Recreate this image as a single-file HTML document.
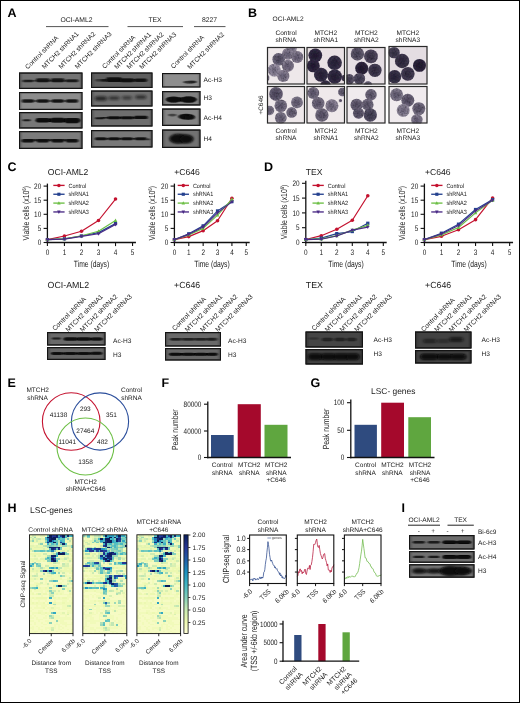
<!DOCTYPE html>
<html lang="en"><head><meta charset="utf-8"><title>Figure</title>
<style>html,body{margin:0;padding:0;background:#fff}svg{display:block;will-change:transform}</style></head>
<body>
<svg width="520" height="703" viewBox="0 0 520 703" font-family="'Liberation Sans', Arial, sans-serif" fill="#1a1a1a" text-rendering="geometricPrecision">
<defs><filter id="b1" x="-20%" y="-60%" width="140%" height="220%"><feGaussianBlur stdDeviation="0.9 0.7"/></filter>
<filter id="b2" x="-20%" y="-60%" width="140%" height="220%"><feGaussianBlur stdDeviation="1.4 1.1"/></filter>
<filter id="bc" x="-20%" y="-20%" width="140%" height="140%"><feGaussianBlur stdDeviation="0.55"/></filter>
<filter id="gr" x="0" y="0" width="100%" height="100%"><feTurbulence type="fractalNoise" baseFrequency="0.55" numOctaves="2" seed="4" result="n"/><feColorMatrix in="n" type="matrix" values="0 0 0 0 0  0 0 0 0 0  0 0 0 0 0  0.9 0.9 0 0 -0.72" result="a"/><feComposite in="a" in2="SourceGraphic" operator="in" result="m"/><feFlood flood-color="#1c1628" result="f"/><feComposite in="f" in2="m" operator="in" result="d"/><feMerge><feMergeNode in="SourceGraphic"/><feMergeNode in="d"/></feMerge></filter>
<filter id="bn" x="-30%" y="-30%" width="160%" height="160%"><feGaussianBlur stdDeviation="1.3"/></filter>
<clipPath id="c1"><rect x="19.00" y="72.50" width="63.50" height="16.50"/></clipPath>
<clipPath id="c2"><rect x="19.00" y="92.00" width="63.50" height="18.00"/></clipPath>
<clipPath id="c3"><rect x="19.00" y="112.00" width="63.50" height="16.50"/></clipPath>
<clipPath id="c4"><rect x="19.00" y="131.00" width="63.50" height="18.00"/></clipPath>
<clipPath id="c5"><rect x="91.00" y="72.50" width="61.50" height="15.50"/></clipPath>
<clipPath id="c6"><rect x="91.00" y="90.50" width="61.50" height="16.00"/></clipPath>
<clipPath id="c7"><rect x="91.00" y="109.00" width="61.50" height="17.50"/></clipPath>
<clipPath id="c8"><rect x="91.00" y="130.00" width="61.50" height="17.50"/></clipPath>
<clipPath id="c9"><rect x="162.00" y="73.00" width="38.50" height="14.50"/></clipPath>
<clipPath id="c10"><rect x="162.00" y="91.00" width="38.50" height="14.50"/></clipPath>
<clipPath id="c11"><rect x="162.00" y="108.50" width="38.50" height="17.50"/></clipPath>
<clipPath id="c12"><rect x="162.00" y="129.50" width="38.50" height="18.50"/></clipPath>
<clipPath id="m1"><rect x="267.00" y="47.00" width="38.00" height="37.50"/></clipPath>
<clipPath id="m2"><rect x="306.50" y="47.00" width="38.50" height="37.50"/></clipPath>
<clipPath id="m3"><rect x="346.50" y="47.00" width="39.00" height="37.50"/></clipPath>
<clipPath id="m4"><rect x="388.50" y="46.00" width="39.00" height="38.50"/></clipPath>
<clipPath id="m5"><rect x="267.00" y="86.00" width="38.00" height="37.50"/></clipPath>
<clipPath id="m6"><rect x="306.50" y="86.00" width="38.50" height="37.50"/></clipPath>
<clipPath id="m7"><rect x="346.50" y="86.00" width="39.00" height="37.50"/></clipPath>
<clipPath id="m8"><rect x="388.50" y="86.00" width="39.00" height="37.50"/></clipPath>
<clipPath id="c13"><rect x="47.00" y="332.00" width="58.50" height="13.50"/></clipPath>
<clipPath id="c14"><rect x="47.00" y="347.00" width="58.50" height="13.00"/></clipPath>
<clipPath id="c15"><rect x="165.00" y="332.00" width="56.00" height="14.50"/></clipPath>
<clipPath id="c16"><rect x="165.00" y="348.00" width="56.00" height="12.50"/></clipPath>
<clipPath id="c17"><rect x="305.50" y="331.50" width="57.50" height="16.00"/></clipPath>
<clipPath id="c18"><rect x="305.50" y="349.00" width="57.50" height="15.50"/></clipPath>
<clipPath id="c19"><rect x="415.00" y="331.50" width="56.50" height="17.00"/></clipPath>
<clipPath id="c20"><rect x="415.00" y="350.00" width="56.50" height="13.50"/></clipPath>
<filter id="hb" x="-5%" y="-5%" width="110%" height="110%"><feGaussianBlur stdDeviation="0.45"/></filter>
<linearGradient id="cb" x1="0" y1="1" x2="0" y2="0"><stop offset="0" stop-color="#ffffd9"/><stop offset="0.125" stop-color="#edf8b1"/><stop offset="0.25" stop-color="#c7e9b4"/><stop offset="0.375" stop-color="#7fcdbb"/><stop offset="0.5" stop-color="#41b6c4"/><stop offset="0.625" stop-color="#1d91c0"/><stop offset="0.75" stop-color="#225ea8"/><stop offset="0.875" stop-color="#253494"/><stop offset="1" stop-color="#081d58"/></linearGradient>
<clipPath id="c21"><rect x="409.00" y="535.00" width="65.50" height="14.50"/></clipPath>
<clipPath id="c22"><rect x="409.00" y="551.00" width="65.50" height="11.80"/></clipPath>
<clipPath id="c23"><rect x="409.00" y="564.20" width="65.50" height="13.50"/></clipPath></defs>
<rect x="0" y="0" width="520" height="703" fill="#fff"/>
<text transform="translate(7.50 16.50)" font-size="12.5" font-weight="bold" fill="#000">A</text>
<text transform="translate(76.50 21.50)" font-size="6.8" text-anchor="middle">OCI-AML2</text>
<line x1="46.00" y1="26.60" x2="108.50" y2="26.60" stroke="#555" stroke-width="1" />
<text transform="translate(155.00 21.50)" font-size="6.8" text-anchor="middle">TEX</text>
<line x1="127.50" y1="26.60" x2="183.00" y2="26.60" stroke="#555" stroke-width="1" />
<text transform="translate(209.50 21.50)" font-size="6.8" text-anchor="middle">8227</text>
<line x1="194.00" y1="26.60" x2="225.50" y2="26.60" stroke="#555" stroke-width="1" />
<text transform="translate(58.90 38.50) rotate(-45)" font-size="6.6" text-anchor="end">Control shRNA</text>
<text transform="translate(79.20 34.40) rotate(-45)" font-size="6.6" text-anchor="end">MTCH2 shRNA1</text>
<text transform="translate(95.90 34.40) rotate(-45)" font-size="6.6" text-anchor="end">MTCH2 shRNA2</text>
<text transform="translate(112.20 34.40) rotate(-45)" font-size="6.6" text-anchor="end">MTCH2 shRNA3</text>
<text transform="translate(135.90 37.80) rotate(-45)" font-size="6.6" text-anchor="end">Control shRNA</text>
<text transform="translate(151.70 34.80) rotate(-45)" font-size="6.6" text-anchor="end">MTCH2 shRNA1</text>
<text transform="translate(164.10 34.80) rotate(-45)" font-size="6.6" text-anchor="end">MTCH2 shRNA2</text>
<text transform="translate(176.80 34.80) rotate(-45)" font-size="6.6" text-anchor="end">MTCH2 shRNA3</text>
<text transform="translate(204.50 37.80) rotate(-45)" font-size="6.6" text-anchor="end">Control shRNA</text>
<text transform="translate(224.70 34.80) rotate(-45)" font-size="6.6" text-anchor="end">MTCH2 shRNA2</text>
<g clip-path="url(#c1)">
<rect x="19.00" y="72.50" width="63.50" height="16.50" fill="#747474" />
<rect x="19.00" y="72.50" width="63.50" height="16.50" fill="none" stroke="#3c3c3c" stroke-width="3" filter="url(#b1)"/>
<rect x="25.75" y="80.05" width="50.00" height="1.40" rx="0.70" fill="#0b0b0b" opacity="0.45" filter="url(#b1)"/>
<rect x="22.39" y="79.75" width="11.00" height="2.60" rx="1.30" fill="#0b0b0b" opacity="0.75" filter="url(#b1)"/>
<rect x="35.81" y="78.35" width="14.00" height="3.80" rx="1.90" fill="#0b0b0b" opacity="0.88" filter="url(#b1)"/>
<rect x="50.73" y="78.35" width="14.00" height="3.80" rx="1.90" fill="#0b0b0b" opacity="0.88" filter="url(#b1)"/>
<rect x="65.52" y="79.25" width="13.00" height="3.00" rx="1.50" fill="#0b0b0b" opacity="0.8" filter="url(#b1)"/>
</g>
<rect x="19.50" y="73.00" width="62.50" height="15.50" fill="none" stroke="#141414" stroke-width="1"/>
<g clip-path="url(#c2)">
<rect x="19.00" y="92.00" width="63.50" height="18.00" fill="#8c8c8c" />
<rect x="19.00" y="92.00" width="63.50" height="18.00" fill="none" stroke="#555" stroke-width="3" filter="url(#b1)"/>
<rect x="26.11" y="100.20" width="48.00" height="1.60" rx="0.80" fill="#0b0b0b" opacity="0.6" filter="url(#b1)"/>
<rect x="21.64" y="99.30" width="12.50" height="3.40" rx="1.70" fill="#0b0b0b" opacity="0.9" filter="url(#b1)"/>
<rect x="36.56" y="99.30" width="12.50" height="3.40" rx="1.70" fill="#0b0b0b" opacity="0.9" filter="url(#b1)"/>
<rect x="51.48" y="99.30" width="12.50" height="3.40" rx="1.70" fill="#0b0b0b" opacity="0.9" filter="url(#b1)"/>
<rect x="65.77" y="99.30" width="12.50" height="3.40" rx="1.70" fill="#0b0b0b" opacity="0.9" filter="url(#b1)"/>
</g>
<rect x="19.50" y="92.50" width="62.50" height="17.00" fill="none" stroke="#141414" stroke-width="1"/>
<g clip-path="url(#c3)">
<rect x="19.00" y="112.00" width="63.50" height="16.50" fill="#787878" />
<rect x="19.00" y="112.00" width="63.50" height="16.50" fill="none" stroke="#3c3c3c" stroke-width="3" filter="url(#b1)"/>
<rect x="22.62" y="119.15" width="8.00" height="2.20" rx="1.10" fill="#0b0b0b" opacity="0.85" filter="url(#b1)"/>
<rect x="36.87" y="118.55" width="43.00" height="3.40" rx="1.70" fill="#0b0b0b" opacity="0.95" filter="url(#b1)"/>
<rect x="35.81" y="117.95" width="14.00" height="4.60" rx="2.20" fill="#0b0b0b" opacity="0.95" filter="url(#b1)"/>
<rect x="50.73" y="117.85" width="14.00" height="4.80" rx="2.20" fill="#0b0b0b" opacity="0.95" filter="url(#b1)"/>
<rect x="64.77" y="117.95" width="14.50" height="5.40" rx="2.20" fill="#0b0b0b" opacity="0.97" filter="url(#b1)"/>
</g>
<rect x="19.50" y="112.50" width="62.50" height="15.50" fill="none" stroke="#141414" stroke-width="1"/>
<g clip-path="url(#c4)">
<rect x="19.00" y="131.00" width="63.50" height="18.00" fill="#7c7c7c" />
<rect x="19.00" y="131.00" width="63.50" height="18.00" fill="none" stroke="#3c3c3c" stroke-width="3" filter="url(#b1)"/>
<rect x="25.11" y="139.10" width="50.00" height="1.80" rx="0.90" fill="#0b0b0b" opacity="0.7" filter="url(#b1)"/>
<rect x="21.39" y="138.90" width="13.00" height="3.60" rx="1.80" fill="#0b0b0b" opacity="0.93" filter="url(#b1)"/>
<rect x="36.31" y="138.90" width="13.00" height="3.60" rx="1.80" fill="#0b0b0b" opacity="0.93" filter="url(#b1)"/>
<rect x="51.23" y="138.90" width="13.00" height="3.60" rx="1.80" fill="#0b0b0b" opacity="0.93" filter="url(#b1)"/>
<rect x="65.52" y="138.90" width="13.00" height="3.60" rx="1.80" fill="#0b0b0b" opacity="0.93" filter="url(#b1)"/>
</g>
<rect x="19.50" y="131.50" width="62.50" height="17.00" fill="none" stroke="#141414" stroke-width="1"/>
<g clip-path="url(#c5)">
<rect x="91.00" y="72.50" width="61.50" height="15.50" fill="#5f5f5f" />
<rect x="91.00" y="72.50" width="61.50" height="15.50" fill="none" stroke="#3c3c3c" stroke-width="3" filter="url(#b1)"/>
<rect x="100.98" y="79.05" width="44.00" height="2.40" rx="1.20" fill="#0b0b0b" opacity="0.7" filter="url(#b1)"/>
<rect x="95.34" y="78.95" width="11.00" height="2.60" rx="1.30" fill="#0b0b0b" opacity="0.5" filter="url(#b1)"/>
<rect x="106.06" y="77.35" width="16.00" height="4.60" rx="2.20" fill="#0b0b0b" opacity="0.95" filter="url(#b1)"/>
<rect x="119.98" y="78.35" width="14.00" height="3.80" rx="1.90" fill="#0b0b0b" opacity="0.9" filter="url(#b1)"/>
<rect x="134.31" y="78.55" width="13.00" height="3.40" rx="1.70" fill="#0b0b0b" opacity="0.8" filter="url(#b1)"/>
</g>
<rect x="91.50" y="73.00" width="60.50" height="14.50" fill="none" stroke="#141414" stroke-width="1"/>
<g clip-path="url(#c6)">
<rect x="91.00" y="90.50" width="61.50" height="16.00" fill="#707070" />
<rect x="91.00" y="90.50" width="61.50" height="16.00" fill="none" stroke="#3c3c3c" stroke-width="3" filter="url(#b1)"/>
<rect x="94.84" y="96.30" width="12.00" height="4.40" rx="2.20" fill="#0b0b0b" opacity="0.72" filter="url(#b2)"/>
<rect x="108.56" y="96.20" width="11.00" height="3.80" rx="1.90" fill="#0b0b0b" opacity="0.6" filter="url(#b2)"/>
<rect x="121.98" y="96.00" width="10.00" height="3.40" rx="1.70" fill="#0b0b0b" opacity="0.55" filter="url(#b2)"/>
<rect x="135.31" y="95.20" width="11.00" height="3.80" rx="1.90" fill="#0b0b0b" opacity="0.65" filter="url(#b2)"/>
</g>
<rect x="91.50" y="91.00" width="60.50" height="15.00" fill="none" stroke="#141414" stroke-width="1"/>
<g clip-path="url(#c7)">
<rect x="91.00" y="109.00" width="61.50" height="17.50" fill="#6e6e6e" />
<rect x="91.00" y="109.00" width="61.50" height="17.50" fill="none" stroke="#3c3c3c" stroke-width="3" filter="url(#b1)"/>
<rect x="101.09" y="116.95" width="45.00" height="1.60" rx="0.80" fill="#0b0b0b" opacity="0.8" filter="url(#b1)"/>
<rect x="95.11" y="117.35" width="9.00" height="1.80" rx="0.90" fill="#0b0b0b" opacity="0.9" filter="url(#b1)"/>
<rect x="107.56" y="116.35" width="13.00" height="2.80" rx="1.40" fill="#0b0b0b" opacity="0.95" filter="url(#b1)"/>
<rect x="120.48" y="116.25" width="13.00" height="3.00" rx="1.50" fill="#0b0b0b" opacity="0.95" filter="url(#b1)"/>
<rect x="133.81" y="115.85" width="14.00" height="3.20" rx="1.60" fill="#0b0b0b" opacity="0.95" filter="url(#b1)"/>
</g>
<rect x="91.50" y="109.50" width="60.50" height="16.50" fill="none" stroke="#141414" stroke-width="1"/>
<g clip-path="url(#c8)">
<rect x="91.00" y="130.00" width="61.50" height="17.50" fill="#787878" />
<rect x="91.00" y="130.00" width="61.50" height="17.50" fill="none" stroke="#3c3c3c" stroke-width="3" filter="url(#b1)"/>
<rect x="98.75" y="137.95" width="46.00" height="1.60" rx="0.80" fill="#0b0b0b" opacity="0.7" filter="url(#b1)"/>
<rect x="146.19" y="138.45" width="4.00" height="1.80" rx="0.90" fill="#0b0b0b" opacity="0.7" filter="url(#b1)"/>
<rect x="94.84" y="137.15" width="12.00" height="3.20" rx="1.60" fill="#0b0b0b" opacity="0.93" filter="url(#b1)"/>
<rect x="108.06" y="137.15" width="12.00" height="3.20" rx="1.60" fill="#0b0b0b" opacity="0.93" filter="url(#b1)"/>
<rect x="120.98" y="137.15" width="12.00" height="3.20" rx="1.60" fill="#0b0b0b" opacity="0.93" filter="url(#b1)"/>
<rect x="134.81" y="137.15" width="12.00" height="3.20" rx="1.60" fill="#0b0b0b" opacity="0.93" filter="url(#b1)"/>
</g>
<rect x="91.50" y="130.50" width="60.50" height="16.50" fill="none" stroke="#141414" stroke-width="1"/>
<g clip-path="url(#c9)">
<rect x="162.00" y="73.00" width="38.50" height="14.50" fill="#8e8e8e" />
<rect x="162.00" y="73.00" width="38.50" height="14.50" fill="none" stroke="#606060" stroke-width="3" filter="url(#b1)"/>
<ellipse cx="189.72" cy="82.15" rx="6.50" ry="1.50" fill="#0b0b0b" opacity="0.7" filter="url(#b1)"/>
<ellipse cx="192.80" cy="81.75" rx="4.00" ry="1.20" fill="#0b0b0b" opacity="0.45" filter="url(#b1)"/>
</g>
<rect x="162.50" y="73.50" width="37.50" height="13.50" fill="none" stroke="#141414" stroke-width="1"/>
<g clip-path="url(#c10)">
<rect x="162.00" y="91.00" width="38.50" height="14.50" fill="#808080" />
<rect x="162.00" y="91.00" width="38.50" height="14.50" fill="none" stroke="#3c3c3c" stroke-width="3" filter="url(#b1)"/>
<rect x="167.25" y="97.55" width="28.00" height="4.00" rx="2.00" fill="#0b0b0b" opacity="1" filter="url(#b1)"/>
<ellipse cx="173.55" cy="99.55" rx="7.50" ry="3.10" fill="#0b0b0b" opacity="0.95" filter="url(#b1)"/>
<ellipse cx="188.56" cy="99.55" rx="8.00" ry="3.30" fill="#0b0b0b" opacity="1" filter="url(#b1)"/>
</g>
<rect x="162.50" y="91.50" width="37.50" height="13.50" fill="none" stroke="#141414" stroke-width="1"/>
<g clip-path="url(#c11)">
<rect x="162.00" y="108.50" width="38.50" height="17.50" fill="#848484" />
<rect x="162.00" y="108.50" width="38.50" height="17.50" fill="none" stroke="#3c3c3c" stroke-width="3" filter="url(#b1)"/>
<ellipse cx="172.40" cy="115.05" rx="4.25" ry="1.40" fill="#0b0b0b" opacity="0.55" filter="url(#b1)"/>
<ellipse cx="186.25" cy="116.65" rx="8.00" ry="2.90" fill="#0b0b0b" opacity="1" filter="url(#b1)"/>
<ellipse cx="189.72" cy="117.45" rx="5.00" ry="2.20" fill="#0b0b0b" opacity="0.85" filter="url(#b1)"/>
</g>
<rect x="162.50" y="109.00" width="37.50" height="16.50" fill="none" stroke="#141414" stroke-width="1"/>
<g clip-path="url(#c12)">
<rect x="162.00" y="129.50" width="38.50" height="18.50" fill="#727272" />
<rect x="162.00" y="129.50" width="38.50" height="18.50" fill="none" stroke="#3c3c3c" stroke-width="3" filter="url(#b1)"/>
<ellipse cx="181.25" cy="138.75" rx="11.50" ry="4.30" fill="#0b0b0b" opacity="1" filter="url(#b2)"/>
<ellipse cx="177.40" cy="138.75" rx="7.50" ry="4.50" fill="#0b0b0b" opacity="1" filter="url(#b2)"/>
<ellipse cx="186.64" cy="139.05" rx="6.50" ry="4.00" fill="#0b0b0b" opacity="1" filter="url(#b2)"/>
</g>
<rect x="162.50" y="130.00" width="37.50" height="17.50" fill="none" stroke="#141414" stroke-width="1"/>
<text transform="translate(203.50 82.40)" font-size="6.6">Ac-H3</text>
<text transform="translate(203.50 100.40)" font-size="6.6">H3</text>
<text transform="translate(203.50 119.90)" font-size="6.6">Ac-H4</text>
<text transform="translate(203.50 140.80)" font-size="6.6">H4</text>
<text transform="translate(248.00 16.50)" font-size="12.5" font-weight="bold" fill="#000">B</text>
<text transform="translate(272.50 20.80)" font-size="6.6">OCI-AML2</text>
<text transform="translate(286.00 35.00)" font-size="6.6" text-anchor="middle">Control</text>
<text transform="translate(286.00 42.30)" font-size="6.6" text-anchor="middle">shRNA</text>
<text transform="translate(286.00 132.60)" font-size="6.6" text-anchor="middle">Control</text>
<text transform="translate(286.00 140.20)" font-size="6.6" text-anchor="middle">shRNA</text>
<text transform="translate(325.80 35.00)" font-size="6.6" text-anchor="middle">MTCH2</text>
<text transform="translate(325.80 42.30)" font-size="6.6" text-anchor="middle">shRNA1</text>
<text transform="translate(325.80 132.60)" font-size="6.6" text-anchor="middle">MTCH2</text>
<text transform="translate(325.80 140.20)" font-size="6.6" text-anchor="middle">shRNA1</text>
<text transform="translate(366.30 35.00)" font-size="6.6" text-anchor="middle">MTCH2</text>
<text transform="translate(366.30 42.30)" font-size="6.6" text-anchor="middle">shRNA2</text>
<text transform="translate(366.30 132.60)" font-size="6.6" text-anchor="middle">MTCH2</text>
<text transform="translate(366.30 140.20)" font-size="6.6" text-anchor="middle">shRNA2</text>
<text transform="translate(407.80 35.00)" font-size="6.6" text-anchor="middle">MTCH2</text>
<text transform="translate(407.80 42.30)" font-size="6.6" text-anchor="middle">shRNA3</text>
<text transform="translate(407.80 132.60)" font-size="6.6" text-anchor="middle">MTCH2</text>
<text transform="translate(407.80 140.20)" font-size="6.6" text-anchor="middle">shRNA3</text>
<text transform="translate(262.80 105.00) rotate(-90)" font-size="6.4" text-anchor="middle">+C646</text>
<g clip-path="url(#m1)">
<rect x="267.00" y="47.00" width="38.00" height="37.50" fill="#eee8ea" />
<g filter="url(#gr)">
<circle cx="291.50" cy="48.50" r="5.22" fill="#918a9c" filter="url(#bc)"/>
<circle cx="291.20" cy="48.70" r="3.08" fill="#5e566d" opacity=".62" filter="url(#bn)"/>
<circle cx="287.90" cy="53.90" r="5.89" fill="#8c8497" filter="url(#bc)"/>
<circle cx="287.60" cy="54.10" r="3.47" fill="#595269" opacity=".62" filter="url(#bn)"/>
<circle cx="278.70" cy="59.20" r="6.27" fill="#6e677b" filter="url(#bc)"/>
<circle cx="278.40" cy="59.40" r="3.70" fill="#453f54" opacity=".62" filter="url(#bn)"/>
<circle cx="297.20" cy="57.00" r="6.08" fill="#867e91" filter="url(#bc)"/>
<circle cx="296.90" cy="57.20" r="3.58" fill="#554e65" opacity=".62" filter="url(#bn)"/>
<circle cx="274.20" cy="70.10" r="6.46" fill="#9d95a8" filter="url(#bc)"/>
<circle cx="273.90" cy="70.30" r="3.81" fill="#665e76" opacity=".62" filter="url(#bn)"/>
<circle cx="287.90" cy="65.80" r="6.08" fill="#867e91" filter="url(#bc)"/>
<circle cx="287.60" cy="66.00" r="3.58" fill="#554e65" opacity=".62" filter="url(#bn)"/>
<circle cx="283.30" cy="75.90" r="6.08" fill="#8c8497" filter="url(#bc)"/>
<circle cx="283.00" cy="76.10" r="3.58" fill="#595269" opacity=".62" filter="url(#bn)"/>
<circle cx="266.00" cy="78.00" r="3.32" fill="#746d80" filter="url(#bc)"/>
<circle cx="265.70" cy="78.20" r="1.96" fill="#494358" opacity=".62" filter="url(#bn)"/>
</g>
</g>
<rect x="267.50" y="47.50" width="37.00" height="36.50" fill="none" stroke="#2a2a2a" stroke-width="1.2"/>
<g clip-path="url(#m2)">
<rect x="306.50" y="47.00" width="38.50" height="37.50" fill="#e9e1e4" />
<g filter="url(#gr)">
<circle cx="315.30" cy="55.30" r="6.84" fill="#352f45" filter="url(#bc)"/>
<circle cx="315.00" cy="55.50" r="4.03" fill="#1e192c" opacity=".62" filter="url(#bn)"/>
<circle cx="313.30" cy="65.90" r="6.46" fill="#352f45" filter="url(#bc)"/>
<circle cx="313.00" cy="66.10" r="3.81" fill="#1e192c" opacity=".62" filter="url(#bn)"/>
<circle cx="334.60" cy="62.80" r="7.22" fill="#3b354b" filter="url(#bc)"/>
<circle cx="334.30" cy="63.00" r="4.26" fill="#221d30" opacity=".62" filter="url(#bn)"/>
<circle cx="321.00" cy="74.80" r="7.03" fill="#393348" filter="url(#bc)"/>
<circle cx="320.70" cy="75.00" r="4.14" fill="#201c2e" opacity=".62" filter="url(#bn)"/>
<circle cx="334.80" cy="76.60" r="7.22" fill="#393348" filter="url(#bc)"/>
<circle cx="334.50" cy="76.80" r="4.26" fill="#201c2e" opacity=".62" filter="url(#bn)"/>
<circle cx="325.50" cy="85.50" r="5.22" fill="#3b354b" filter="url(#bc)"/>
<circle cx="325.20" cy="85.70" r="3.08" fill="#221d30" opacity=".62" filter="url(#bn)"/>
<circle cx="345.00" cy="78.00" r="3.32" fill="#474156" filter="url(#bc)"/>
<circle cx="344.70" cy="78.20" r="1.96" fill="#2a2538" opacity=".62" filter="url(#bn)"/>
</g>
</g>
<rect x="307.00" y="47.50" width="37.50" height="36.50" fill="none" stroke="#2a2a2a" stroke-width="1.2"/>
<g clip-path="url(#m3)">
<rect x="346.50" y="47.00" width="39.00" height="37.50" fill="#e6dfe4" />
<g filter="url(#gr)">
<circle cx="357.40" cy="53.90" r="6.65" fill="#655e72" filter="url(#bc)"/>
<circle cx="357.10" cy="54.10" r="3.92" fill="#3e394d" opacity=".62" filter="url(#bn)"/>
<circle cx="371.00" cy="56.40" r="6.84" fill="#534c61" filter="url(#bc)"/>
<circle cx="370.70" cy="56.60" r="4.03" fill="#322d41" opacity=".62" filter="url(#bn)"/>
<circle cx="361.70" cy="68.30" r="6.46" fill="#302a40" filter="url(#bc)"/>
<circle cx="361.40" cy="68.50" r="3.81" fill="#1a1628" opacity=".62" filter="url(#bn)"/>
<circle cx="374.90" cy="70.30" r="6.65" fill="#474156" filter="url(#bc)"/>
<circle cx="374.60" cy="70.50" r="3.92" fill="#2a2538" opacity=".62" filter="url(#bn)"/>
<circle cx="359.40" cy="78.60" r="5.70" fill="#595267" filter="url(#bc)"/>
<circle cx="359.10" cy="78.80" r="3.36" fill="#363145" opacity=".62" filter="url(#bn)"/>
<circle cx="349.30" cy="79.30" r="5.22" fill="#5f586c" filter="url(#bc)"/>
<circle cx="349.00" cy="79.50" r="3.08" fill="#3a3549" opacity=".62" filter="url(#bn)"/>
<circle cx="368.00" cy="85.50" r="4.27" fill="#6b6478" filter="url(#bc)"/>
<circle cx="367.70" cy="85.70" r="2.52" fill="#433d52" opacity=".62" filter="url(#bn)"/>
</g>
</g>
<rect x="347.00" y="47.50" width="38.00" height="36.50" fill="none" stroke="#2a2a2a" stroke-width="1.2"/>
<g clip-path="url(#m4)">
<rect x="388.50" y="46.00" width="39.00" height="38.50" fill="#e4dde2" />
<g filter="url(#gr)">
<circle cx="394.00" cy="52.60" r="5.70" fill="#4d475c" filter="url(#bc)"/>
<circle cx="393.70" cy="52.80" r="3.36" fill="#2e293d" opacity=".62" filter="url(#bn)"/>
<circle cx="402.10" cy="61.00" r="7.22" fill="#413b50" filter="url(#bc)"/>
<circle cx="401.80" cy="61.20" r="4.26" fill="#262134" opacity=".62" filter="url(#bn)"/>
<circle cx="419.50" cy="65.40" r="6.46" fill="#302a40" filter="url(#bc)"/>
<circle cx="419.20" cy="65.60" r="3.81" fill="#1a1628" opacity=".62" filter="url(#bn)"/>
<circle cx="407.80" cy="73.80" r="6.84" fill="#474156" filter="url(#bc)"/>
<circle cx="407.50" cy="74.00" r="4.03" fill="#2a2538" opacity=".62" filter="url(#bn)"/>
<circle cx="394.60" cy="76.70" r="6.65" fill="#3e374d" filter="url(#bc)"/>
<circle cx="394.30" cy="76.90" r="3.92" fill="#231f32" opacity=".62" filter="url(#bn)"/>
</g>
</g>
<rect x="389.00" y="46.50" width="38.00" height="37.50" fill="none" stroke="#2a2a2a" stroke-width="1.2"/>
<g clip-path="url(#m5)">
<rect x="267.00" y="86.00" width="38.00" height="37.50" fill="#eee8ea" />
<g filter="url(#gr)">
<circle cx="276.00" cy="93.90" r="6.84" fill="#6b6478" filter="url(#bc)"/>
<circle cx="275.70" cy="94.10" r="4.03" fill="#433d52" opacity=".62" filter="url(#bn)"/>
<circle cx="280.80" cy="105.80" r="6.27" fill="#7c7588" filter="url(#bc)"/>
<circle cx="280.50" cy="106.00" r="3.70" fill="#4f485e" opacity=".62" filter="url(#bn)"/>
<circle cx="297.00" cy="102.30" r="5.89" fill="#827b8e" filter="url(#bc)"/>
<circle cx="296.70" cy="102.50" r="3.47" fill="#534c62" opacity=".62" filter="url(#bn)"/>
<circle cx="269.50" cy="110.50" r="4.75" fill="#827b8e" filter="url(#bc)"/>
<circle cx="269.20" cy="110.70" r="2.80" fill="#534c62" opacity=".62" filter="url(#bn)"/>
<circle cx="291.70" cy="112.40" r="5.32" fill="#7c7588" filter="url(#bc)"/>
<circle cx="291.40" cy="112.60" r="3.14" fill="#4f485e" opacity=".62" filter="url(#bn)"/>
<circle cx="280.80" cy="117.80" r="5.89" fill="#827b8e" filter="url(#bc)"/>
<circle cx="280.50" cy="118.00" r="3.47" fill="#534c62" opacity=".62" filter="url(#bn)"/>
</g>
</g>
<rect x="267.50" y="86.50" width="37.00" height="36.50" fill="none" stroke="#2a2a2a" stroke-width="1.2"/>
<g clip-path="url(#m6)">
<rect x="306.50" y="86.00" width="38.50" height="37.50" fill="#efe9eb" />
<g filter="url(#gr)">
<circle cx="313.30" cy="93.00" r="5.89" fill="#7c7588" filter="url(#bc)"/>
<circle cx="313.00" cy="93.20" r="3.47" fill="#4f485e" opacity=".62" filter="url(#bn)"/>
<circle cx="318.20" cy="103.20" r="6.27" fill="#7c7588" filter="url(#bc)"/>
<circle cx="317.90" cy="103.40" r="3.70" fill="#4f485e" opacity=".62" filter="url(#bn)"/>
<circle cx="331.90" cy="105.80" r="6.46" fill="#8e8699" filter="url(#bc)"/>
<circle cx="331.60" cy="106.00" r="3.81" fill="#5b546b" opacity=".62" filter="url(#bn)"/>
<circle cx="321.90" cy="115.00" r="6.65" fill="#766f83" filter="url(#bc)"/>
<circle cx="321.60" cy="115.20" r="3.92" fill="#4b445a" opacity=".62" filter="url(#bn)"/>
<circle cx="342.50" cy="92.00" r="4.37" fill="#766f83" filter="url(#bc)"/>
<circle cx="342.20" cy="92.20" r="2.58" fill="#4b445a" opacity=".62" filter="url(#bn)"/>
<circle cx="340.50" cy="100.50" r="1.52" fill="#6b6478" filter="url(#bc)"/>
<circle cx="340.20" cy="100.70" r="0.90" fill="#433d52" opacity=".62" filter="url(#bn)"/>
</g>
</g>
<rect x="307.00" y="86.50" width="37.50" height="36.50" fill="none" stroke="#2a2a2a" stroke-width="1.2"/>
<g clip-path="url(#m7)">
<rect x="346.50" y="86.00" width="39.00" height="37.50" fill="#f0ebee" />
<g filter="url(#gr)">
<circle cx="371.00" cy="94.80" r="5.70" fill="#766f83" filter="url(#bc)"/>
<circle cx="370.70" cy="95.00" r="3.36" fill="#4b445a" opacity=".62" filter="url(#bn)"/>
<circle cx="356.60" cy="104.90" r="6.08" fill="#70697d" filter="url(#bc)"/>
<circle cx="356.30" cy="105.10" r="3.58" fill="#474056" opacity=".62" filter="url(#bn)"/>
<circle cx="367.60" cy="104.70" r="5.89" fill="#766f83" filter="url(#bc)"/>
<circle cx="367.30" cy="104.90" r="3.47" fill="#4b445a" opacity=".62" filter="url(#bn)"/>
<circle cx="370.30" cy="115.00" r="6.65" fill="#595267" filter="url(#bc)"/>
<circle cx="370.00" cy="115.20" r="3.92" fill="#363145" opacity=".62" filter="url(#bn)"/>
<circle cx="358.50" cy="113.20" r="5.51" fill="#6b6478" filter="url(#bc)"/>
<circle cx="358.20" cy="113.40" r="3.25" fill="#433d52" opacity=".62" filter="url(#bn)"/>
</g>
</g>
<rect x="347.00" y="86.50" width="38.00" height="36.50" fill="none" stroke="#2a2a2a" stroke-width="1.2"/>
<g clip-path="url(#m8)">
<rect x="388.50" y="86.00" width="39.00" height="37.50" fill="#f0ebee" />
<g filter="url(#gr)">
<circle cx="396.60" cy="94.80" r="6.46" fill="#827b8e" filter="url(#bc)"/>
<circle cx="396.30" cy="95.00" r="3.81" fill="#534c62" opacity=".62" filter="url(#bn)"/>
<circle cx="407.80" cy="100.30" r="6.46" fill="#70697d" filter="url(#bc)"/>
<circle cx="407.50" cy="100.50" r="3.81" fill="#474056" opacity=".62" filter="url(#bn)"/>
<circle cx="403.20" cy="110.40" r="6.46" fill="#948c9f" filter="url(#bc)"/>
<circle cx="402.90" cy="110.60" r="3.81" fill="#5f586f" opacity=".62" filter="url(#bn)"/>
<circle cx="418.80" cy="108.60" r="6.46" fill="#766f83" filter="url(#bc)"/>
<circle cx="418.50" cy="108.80" r="3.81" fill="#4b445a" opacity=".62" filter="url(#bn)"/>
<circle cx="416.90" cy="119.80" r="5.70" fill="#888194" filter="url(#bc)"/>
<circle cx="416.60" cy="120.00" r="3.36" fill="#575067" opacity=".62" filter="url(#bn)"/>
</g>
</g>
<rect x="389.00" y="86.50" width="38.00" height="36.50" fill="none" stroke="#2a2a2a" stroke-width="1.2"/>
<text transform="translate(7.50 170.50)" font-size="12.5" font-weight="bold" fill="#000">C</text>
<line x1="47.40" y1="183.60" x2="47.40" y2="243.15" stroke="#111" stroke-width="1.3" />
<line x1="46.75" y1="242.50" x2="135.95" y2="242.50" stroke="#111" stroke-width="1.3" />
<line x1="43.60" y1="242.50" x2="47.40" y2="242.50" stroke="#111" stroke-width="1.1" />
<text transform="translate(41.20 245.10) scale(0.8 1)" font-size="8" text-anchor="end">0</text>
<line x1="43.60" y1="228.40" x2="47.40" y2="228.40" stroke="#111" stroke-width="1.1" />
<text transform="translate(41.20 231.00) scale(0.8 1)" font-size="8" text-anchor="end">5</text>
<line x1="43.60" y1="214.30" x2="47.40" y2="214.30" stroke="#111" stroke-width="1.1" />
<text transform="translate(41.20 216.90) scale(0.8 1)" font-size="8" text-anchor="end">10</text>
<line x1="43.60" y1="200.20" x2="47.40" y2="200.20" stroke="#111" stroke-width="1.1" />
<text transform="translate(41.20 202.80) scale(0.8 1)" font-size="8" text-anchor="end">15</text>
<line x1="43.60" y1="186.10" x2="47.40" y2="186.10" stroke="#111" stroke-width="1.1" />
<text transform="translate(41.20 188.70) scale(0.8 1)" font-size="8" text-anchor="end">20</text>
<line x1="47.40" y1="242.50" x2="47.40" y2="246.10" stroke="#111" stroke-width="1.1" />
<text transform="translate(47.40 254.50) scale(0.8 1)" font-size="8" text-anchor="middle">0</text>
<line x1="64.43" y1="242.50" x2="64.43" y2="246.10" stroke="#111" stroke-width="1.1" />
<text transform="translate(64.43 254.50) scale(0.8 1)" font-size="8" text-anchor="middle">1</text>
<line x1="81.46" y1="242.50" x2="81.46" y2="246.10" stroke="#111" stroke-width="1.1" />
<text transform="translate(81.46 254.50) scale(0.8 1)" font-size="8" text-anchor="middle">2</text>
<line x1="98.49" y1="242.50" x2="98.49" y2="246.10" stroke="#111" stroke-width="1.1" />
<text transform="translate(98.49 254.50) scale(0.8 1)" font-size="8" text-anchor="middle">3</text>
<line x1="115.52" y1="242.50" x2="115.52" y2="246.10" stroke="#111" stroke-width="1.1" />
<text transform="translate(115.52 254.50) scale(0.8 1)" font-size="8" text-anchor="middle">4</text>
<line x1="132.55" y1="242.50" x2="132.55" y2="246.10" stroke="#111" stroke-width="1.1" />
<text transform="translate(132.55 254.50) scale(0.8 1)" font-size="8" text-anchor="middle">5</text>
<text transform="translate(47.80 174.70)" font-size="8.6">OCI-AML2</text>
<text transform="translate(28.70 213.30) rotate(-90) scale(0.78 1)" font-size="8.8" text-anchor="middle">Viable cells (x10<tspan font-size="5.4" dy="-2.8">6</tspan><tspan dy="2.8">)</tspan></text>
<text transform="translate(91.50 267.00) scale(0.75 1)" font-size="9" text-anchor="middle">Time (days)</text>
<polyline fill="none" stroke="#c4122f" stroke-width="1.2" stroke-linejoin="round" points="47.40,239.68 64.43,236.01 81.46,231.22 98.49,220.50 115.52,199.07"/>
<circle cx="47.40" cy="239.68" r="1.80" fill="#c4122f"/>
<circle cx="64.43" cy="236.01" r="1.80" fill="#c4122f"/>
<circle cx="81.46" cy="231.22" r="1.80" fill="#c4122f"/>
<circle cx="98.49" cy="220.50" r="1.80" fill="#c4122f"/>
<circle cx="115.52" cy="199.07" r="1.80" fill="#c4122f"/>
<polyline fill="none" stroke="#24418f" stroke-width="1.2" stroke-linejoin="round" points="47.40,239.68 64.43,238.83 81.46,236.01 98.49,232.63 115.52,223.61"/>
<rect x="45.78" y="238.06" width="3.24" height="3.24" fill="#24418f"/>
<rect x="62.81" y="237.21" width="3.24" height="3.24" fill="#24418f"/>
<rect x="79.84" y="234.39" width="3.24" height="3.24" fill="#24418f"/>
<rect x="96.87" y="231.01" width="3.24" height="3.24" fill="#24418f"/>
<rect x="113.90" y="221.99" width="3.24" height="3.24" fill="#24418f"/>
<polyline fill="none" stroke="#6cbf45" stroke-width="1.2" stroke-linejoin="round" points="47.40,239.68 64.43,238.83 81.46,235.73 98.49,231.22 115.52,220.50"/>
<path d="M47.40 237.70L49.20 241.12L45.60 241.12Z" fill="#6cbf45"/>
<path d="M64.43 236.85L66.23 240.27L62.63 240.27Z" fill="#6cbf45"/>
<path d="M81.46 233.75L83.26 237.17L79.66 237.17Z" fill="#6cbf45"/>
<path d="M98.49 229.24L100.29 232.66L96.69 232.66Z" fill="#6cbf45"/>
<path d="M115.52 218.52L117.32 221.94L113.72 221.94Z" fill="#6cbf45"/>
<polyline fill="none" stroke="#4a2a86" stroke-width="1.2" stroke-linejoin="round" points="47.40,239.68 64.43,239.12 81.46,236.30 98.49,233.76 115.52,224.45"/>
<path d="M47.40 241.66L49.20 238.24L45.60 238.24Z" fill="#4a2a86"/>
<path d="M64.43 241.10L66.23 237.68L62.63 237.68Z" fill="#4a2a86"/>
<path d="M81.46 238.28L83.26 234.86L79.66 234.86Z" fill="#4a2a86"/>
<path d="M98.49 235.74L100.29 232.32L96.69 232.32Z" fill="#4a2a86"/>
<path d="M115.52 226.43L117.32 223.01L113.72 223.01Z" fill="#4a2a86"/>
<line x1="53.30" y1="185.40" x2="64.60" y2="185.40" stroke="#c4122f" stroke-width="1.35" />
<circle cx="58.90" cy="185.40" r="1.75" fill="#c4122f"/>
<text transform="translate(68.50 187.60) scale(0.9 1)" font-size="6.1">Control</text>
<line x1="53.30" y1="194.25" x2="64.60" y2="194.25" stroke="#24418f" stroke-width="1.35" />
<rect x="57.32" y="192.68" width="3.15" height="3.15" fill="#24418f"/>
<text transform="translate(68.50 196.45) scale(0.9 1)" font-size="6.1">shRNA1</text>
<line x1="53.30" y1="203.10" x2="64.60" y2="203.10" stroke="#6cbf45" stroke-width="1.35" />
<path d="M58.90 201.17L60.65 204.50L57.15 204.50Z" fill="#6cbf45"/>
<text transform="translate(68.50 205.30) scale(0.9 1)" font-size="6.1">shRNA2</text>
<line x1="53.30" y1="211.95" x2="64.60" y2="211.95" stroke="#4a2a86" stroke-width="1.35" />
<path d="M58.90 213.88L60.65 210.55L57.15 210.55Z" fill="#4a2a86"/>
<text transform="translate(68.50 214.15) scale(0.9 1)" font-size="6.1">shRNA3</text>
<line x1="174.40" y1="183.60" x2="174.40" y2="243.15" stroke="#111" stroke-width="1.3" />
<line x1="173.75" y1="242.50" x2="249.70" y2="242.50" stroke="#111" stroke-width="1.3" />
<line x1="170.60" y1="242.50" x2="174.40" y2="242.50" stroke="#111" stroke-width="1.1" />
<text transform="translate(168.20 245.10) scale(0.8 1)" font-size="8" text-anchor="end">0</text>
<line x1="170.60" y1="228.40" x2="174.40" y2="228.40" stroke="#111" stroke-width="1.1" />
<text transform="translate(168.20 231.00) scale(0.8 1)" font-size="8" text-anchor="end">5</text>
<line x1="170.60" y1="214.30" x2="174.40" y2="214.30" stroke="#111" stroke-width="1.1" />
<text transform="translate(168.20 216.90) scale(0.8 1)" font-size="8" text-anchor="end">10</text>
<line x1="170.60" y1="200.20" x2="174.40" y2="200.20" stroke="#111" stroke-width="1.1" />
<text transform="translate(168.20 202.80) scale(0.8 1)" font-size="8" text-anchor="end">15</text>
<line x1="170.60" y1="186.10" x2="174.40" y2="186.10" stroke="#111" stroke-width="1.1" />
<text transform="translate(168.20 188.70) scale(0.8 1)" font-size="8" text-anchor="end">20</text>
<line x1="174.40" y1="242.50" x2="174.40" y2="246.10" stroke="#111" stroke-width="1.1" />
<text transform="translate(174.40 254.50) scale(0.8 1)" font-size="8" text-anchor="middle">0</text>
<line x1="188.78" y1="242.50" x2="188.78" y2="246.10" stroke="#111" stroke-width="1.1" />
<text transform="translate(188.78 254.50) scale(0.8 1)" font-size="8" text-anchor="middle">1</text>
<line x1="203.16" y1="242.50" x2="203.16" y2="246.10" stroke="#111" stroke-width="1.1" />
<text transform="translate(203.16 254.50) scale(0.8 1)" font-size="8" text-anchor="middle">2</text>
<line x1="217.54" y1="242.50" x2="217.54" y2="246.10" stroke="#111" stroke-width="1.1" />
<text transform="translate(217.54 254.50) scale(0.8 1)" font-size="8" text-anchor="middle">3</text>
<line x1="231.92" y1="242.50" x2="231.92" y2="246.10" stroke="#111" stroke-width="1.1" />
<text transform="translate(231.92 254.50) scale(0.8 1)" font-size="8" text-anchor="middle">4</text>
<line x1="246.30" y1="242.50" x2="246.30" y2="246.10" stroke="#111" stroke-width="1.1" />
<text transform="translate(246.30 254.50) scale(0.8 1)" font-size="8" text-anchor="middle">5</text>
<text transform="translate(174.30 174.70)" font-size="8.6">+C646</text>
<text transform="translate(154.50 213.30) rotate(-90) scale(0.78 1)" font-size="8.8" text-anchor="middle">Viable cells (x10<tspan font-size="5.4" dy="-2.8">6</tspan><tspan dy="2.8">)</tspan></text>
<text transform="translate(212.00 267.00) scale(0.75 1)" font-size="9" text-anchor="middle">Time (days)</text>
<polyline fill="none" stroke="#c4122f" stroke-width="1.2" stroke-linejoin="round" points="174.40,239.68 188.78,236.58 203.16,230.66 217.54,220.79 231.92,198.23"/>
<circle cx="174.40" cy="239.68" r="1.80" fill="#c4122f"/>
<circle cx="188.78" cy="236.58" r="1.80" fill="#c4122f"/>
<circle cx="203.16" cy="230.66" r="1.80" fill="#c4122f"/>
<circle cx="217.54" cy="220.79" r="1.80" fill="#c4122f"/>
<circle cx="231.92" cy="198.23" r="1.80" fill="#c4122f"/>
<polyline fill="none" stroke="#24418f" stroke-width="1.2" stroke-linejoin="round" points="174.40,239.68 188.78,233.76 203.16,225.86 217.54,210.92 231.92,201.61"/>
<rect x="172.78" y="238.06" width="3.24" height="3.24" fill="#24418f"/>
<rect x="187.16" y="232.14" width="3.24" height="3.24" fill="#24418f"/>
<rect x="201.54" y="224.24" width="3.24" height="3.24" fill="#24418f"/>
<rect x="215.92" y="209.30" width="3.24" height="3.24" fill="#24418f"/>
<rect x="230.30" y="199.99" width="3.24" height="3.24" fill="#24418f"/>
<polyline fill="none" stroke="#6cbf45" stroke-width="1.2" stroke-linejoin="round" points="174.40,239.68 188.78,234.89 203.16,228.40 217.54,215.15 231.92,199.35"/>
<path d="M174.40 237.70L176.20 241.12L172.60 241.12Z" fill="#6cbf45"/>
<path d="M188.78 232.91L190.58 236.33L186.98 236.33Z" fill="#6cbf45"/>
<path d="M203.16 226.42L204.96 229.84L201.36 229.84Z" fill="#6cbf45"/>
<path d="M217.54 213.17L219.34 216.59L215.74 216.59Z" fill="#6cbf45"/>
<path d="M231.92 197.37L233.72 200.79L230.12 200.79Z" fill="#6cbf45"/>
<polyline fill="none" stroke="#4a2a86" stroke-width="1.2" stroke-linejoin="round" points="174.40,239.68 188.78,234.32 203.16,226.99 217.54,212.89 231.92,201.89"/>
<path d="M174.40 241.66L176.20 238.24L172.60 238.24Z" fill="#4a2a86"/>
<path d="M188.78 236.30L190.58 232.88L186.98 232.88Z" fill="#4a2a86"/>
<path d="M203.16 228.97L204.96 225.55L201.36 225.55Z" fill="#4a2a86"/>
<path d="M217.54 214.87L219.34 211.45L215.74 211.45Z" fill="#4a2a86"/>
<path d="M231.92 203.87L233.72 200.45L230.12 200.45Z" fill="#4a2a86"/>
<line x1="177.70" y1="185.40" x2="189.00" y2="185.40" stroke="#c4122f" stroke-width="1.35" />
<circle cx="183.30" cy="185.40" r="1.75" fill="#c4122f"/>
<text transform="translate(192.90 187.60) scale(0.9 1)" font-size="6.1">Control</text>
<line x1="177.70" y1="194.25" x2="189.00" y2="194.25" stroke="#24418f" stroke-width="1.35" />
<rect x="181.72" y="192.68" width="3.15" height="3.15" fill="#24418f"/>
<text transform="translate(192.90 196.45) scale(0.9 1)" font-size="6.1">shRNA1</text>
<line x1="177.70" y1="203.10" x2="189.00" y2="203.10" stroke="#6cbf45" stroke-width="1.35" />
<path d="M183.30 201.17L185.05 204.50L181.55 204.50Z" fill="#6cbf45"/>
<text transform="translate(192.90 205.30) scale(0.9 1)" font-size="6.1">shRNA2</text>
<line x1="177.70" y1="211.95" x2="189.00" y2="211.95" stroke="#4a2a86" stroke-width="1.35" />
<path d="M183.30 213.88L185.05 210.55L181.55 210.55Z" fill="#4a2a86"/>
<text transform="translate(192.90 214.15) scale(0.9 1)" font-size="6.1">shRNA3</text>
<text transform="translate(264.00 170.50)" font-size="12.5" font-weight="bold" fill="#000">D</text>
<line x1="305.80" y1="180.80" x2="305.80" y2="243.15" stroke="#111" stroke-width="1.3" />
<line x1="305.15" y1="242.50" x2="386.70" y2="242.50" stroke="#111" stroke-width="1.3" />
<line x1="302.00" y1="242.50" x2="305.80" y2="242.50" stroke="#111" stroke-width="1.1" />
<text transform="translate(299.60 245.10) scale(0.8 1)" font-size="8" text-anchor="end">0</text>
<line x1="302.00" y1="227.70" x2="305.80" y2="227.70" stroke="#111" stroke-width="1.1" />
<text transform="translate(299.60 230.30) scale(0.8 1)" font-size="8" text-anchor="end">5</text>
<line x1="302.00" y1="212.90" x2="305.80" y2="212.90" stroke="#111" stroke-width="1.1" />
<text transform="translate(299.60 215.50) scale(0.8 1)" font-size="8" text-anchor="end">10</text>
<line x1="302.00" y1="198.10" x2="305.80" y2="198.10" stroke="#111" stroke-width="1.1" />
<text transform="translate(299.60 200.70) scale(0.8 1)" font-size="8" text-anchor="end">15</text>
<line x1="302.00" y1="183.30" x2="305.80" y2="183.30" stroke="#111" stroke-width="1.1" />
<text transform="translate(299.60 185.90) scale(0.8 1)" font-size="8" text-anchor="end">20</text>
<line x1="305.80" y1="242.50" x2="305.80" y2="246.10" stroke="#111" stroke-width="1.1" />
<text transform="translate(305.80 254.50) scale(0.8 1)" font-size="8" text-anchor="middle">0</text>
<line x1="321.30" y1="242.50" x2="321.30" y2="246.10" stroke="#111" stroke-width="1.1" />
<text transform="translate(321.30 254.50) scale(0.8 1)" font-size="8" text-anchor="middle">1</text>
<line x1="336.80" y1="242.50" x2="336.80" y2="246.10" stroke="#111" stroke-width="1.1" />
<text transform="translate(336.80 254.50) scale(0.8 1)" font-size="8" text-anchor="middle">2</text>
<line x1="352.30" y1="242.50" x2="352.30" y2="246.10" stroke="#111" stroke-width="1.1" />
<text transform="translate(352.30 254.50) scale(0.8 1)" font-size="8" text-anchor="middle">3</text>
<line x1="367.80" y1="242.50" x2="367.80" y2="246.10" stroke="#111" stroke-width="1.1" />
<text transform="translate(367.80 254.50) scale(0.8 1)" font-size="8" text-anchor="middle">4</text>
<line x1="383.30" y1="242.50" x2="383.30" y2="246.10" stroke="#111" stroke-width="1.1" />
<text transform="translate(383.30 254.50) scale(0.8 1)" font-size="8" text-anchor="middle">5</text>
<text transform="translate(305.80 174.70)" font-size="8.6">TEX</text>
<text transform="translate(287.20 211.90) rotate(-90) scale(0.78 1)" font-size="8.8" text-anchor="middle">Viable cells (x10<tspan font-size="5.4" dy="-2.8">6</tspan><tspan dy="2.8">)</tspan></text>
<text transform="translate(346.00 267.00) scale(0.75 1)" font-size="9" text-anchor="middle">Time (days)</text>
<polyline fill="none" stroke="#c4122f" stroke-width="1.2" stroke-linejoin="round" points="305.80,239.54 321.30,235.69 336.80,229.18 352.30,220.30 367.80,195.73"/>
<circle cx="305.80" cy="239.54" r="1.80" fill="#c4122f"/>
<circle cx="321.30" cy="235.69" r="1.80" fill="#c4122f"/>
<circle cx="336.80" cy="229.18" r="1.80" fill="#c4122f"/>
<circle cx="352.30" cy="220.30" r="1.80" fill="#c4122f"/>
<circle cx="367.80" cy="195.73" r="1.80" fill="#c4122f"/>
<polyline fill="none" stroke="#24418f" stroke-width="1.2" stroke-linejoin="round" points="305.80,239.54 321.30,238.06 336.80,233.62 352.30,231.55 367.80,223.26"/>
<rect x="304.18" y="237.92" width="3.24" height="3.24" fill="#24418f"/>
<rect x="319.68" y="236.44" width="3.24" height="3.24" fill="#24418f"/>
<rect x="335.18" y="232.00" width="3.24" height="3.24" fill="#24418f"/>
<rect x="350.68" y="229.93" width="3.24" height="3.24" fill="#24418f"/>
<rect x="366.18" y="221.64" width="3.24" height="3.24" fill="#24418f"/>
<polyline fill="none" stroke="#6cbf45" stroke-width="1.2" stroke-linejoin="round" points="305.80,239.54 321.30,238.95 336.80,235.69 352.30,230.07 367.80,225.33"/>
<path d="M305.80 237.56L307.60 240.98L304.00 240.98Z" fill="#6cbf45"/>
<path d="M321.30 236.97L323.10 240.39L319.50 240.39Z" fill="#6cbf45"/>
<path d="M336.80 233.71L338.60 237.13L335.00 237.13Z" fill="#6cbf45"/>
<path d="M352.30 228.09L354.10 231.51L350.50 231.51Z" fill="#6cbf45"/>
<path d="M367.80 223.35L369.60 226.77L366.00 226.77Z" fill="#6cbf45"/>
<polyline fill="none" stroke="#4a2a86" stroke-width="1.2" stroke-linejoin="round" points="305.80,239.54 321.30,239.24 336.80,235.99 352.30,230.07 367.80,227.11"/>
<path d="M305.80 241.52L307.60 238.10L304.00 238.10Z" fill="#4a2a86"/>
<path d="M321.30 241.22L323.10 237.80L319.50 237.80Z" fill="#4a2a86"/>
<path d="M336.80 237.97L338.60 234.55L335.00 234.55Z" fill="#4a2a86"/>
<path d="M352.30 232.05L354.10 228.63L350.50 228.63Z" fill="#4a2a86"/>
<path d="M367.80 229.09L369.60 225.67L366.00 225.67Z" fill="#4a2a86"/>
<line x1="312.50" y1="185.40" x2="323.80" y2="185.40" stroke="#c4122f" stroke-width="1.35" />
<circle cx="318.10" cy="185.40" r="1.75" fill="#c4122f"/>
<text transform="translate(327.70 187.60) scale(0.9 1)" font-size="6.1">Control</text>
<line x1="312.50" y1="194.25" x2="323.80" y2="194.25" stroke="#24418f" stroke-width="1.35" />
<rect x="316.53" y="192.68" width="3.15" height="3.15" fill="#24418f"/>
<text transform="translate(327.70 196.45) scale(0.9 1)" font-size="6.1">shRNA1</text>
<line x1="312.50" y1="203.10" x2="323.80" y2="203.10" stroke="#6cbf45" stroke-width="1.35" />
<path d="M318.10 201.17L319.85 204.50L316.35 204.50Z" fill="#6cbf45"/>
<text transform="translate(327.70 205.30) scale(0.9 1)" font-size="6.1">shRNA2</text>
<line x1="312.50" y1="211.95" x2="323.80" y2="211.95" stroke="#4a2a86" stroke-width="1.35" />
<path d="M318.10 213.88L319.85 210.55L316.35 210.55Z" fill="#4a2a86"/>
<text transform="translate(327.70 214.15) scale(0.9 1)" font-size="6.1">shRNA3</text>
<line x1="424.40" y1="183.60" x2="424.40" y2="243.15" stroke="#111" stroke-width="1.3" />
<line x1="423.75" y1="242.50" x2="513.05" y2="242.50" stroke="#111" stroke-width="1.3" />
<line x1="420.60" y1="242.50" x2="424.40" y2="242.50" stroke="#111" stroke-width="1.1" />
<text transform="translate(418.20 245.10) scale(0.8 1)" font-size="8" text-anchor="end">0</text>
<line x1="420.60" y1="228.40" x2="424.40" y2="228.40" stroke="#111" stroke-width="1.1" />
<text transform="translate(418.20 231.00) scale(0.8 1)" font-size="8" text-anchor="end">5</text>
<line x1="420.60" y1="214.30" x2="424.40" y2="214.30" stroke="#111" stroke-width="1.1" />
<text transform="translate(418.20 216.90) scale(0.8 1)" font-size="8" text-anchor="end">10</text>
<line x1="420.60" y1="200.20" x2="424.40" y2="200.20" stroke="#111" stroke-width="1.1" />
<text transform="translate(418.20 202.80) scale(0.8 1)" font-size="8" text-anchor="end">15</text>
<line x1="420.60" y1="186.10" x2="424.40" y2="186.10" stroke="#111" stroke-width="1.1" />
<text transform="translate(418.20 188.70) scale(0.8 1)" font-size="8" text-anchor="end">20</text>
<line x1="424.40" y1="242.50" x2="424.40" y2="246.10" stroke="#111" stroke-width="1.1" />
<text transform="translate(424.40 254.50) scale(0.8 1)" font-size="8" text-anchor="middle">0</text>
<line x1="441.45" y1="242.50" x2="441.45" y2="246.10" stroke="#111" stroke-width="1.1" />
<text transform="translate(441.45 254.50) scale(0.8 1)" font-size="8" text-anchor="middle">1</text>
<line x1="458.50" y1="242.50" x2="458.50" y2="246.10" stroke="#111" stroke-width="1.1" />
<text transform="translate(458.50 254.50) scale(0.8 1)" font-size="8" text-anchor="middle">2</text>
<line x1="475.55" y1="242.50" x2="475.55" y2="246.10" stroke="#111" stroke-width="1.1" />
<text transform="translate(475.55 254.50) scale(0.8 1)" font-size="8" text-anchor="middle">3</text>
<line x1="492.60" y1="242.50" x2="492.60" y2="246.10" stroke="#111" stroke-width="1.1" />
<text transform="translate(492.60 254.50) scale(0.8 1)" font-size="8" text-anchor="middle">4</text>
<line x1="509.65" y1="242.50" x2="509.65" y2="246.10" stroke="#111" stroke-width="1.1" />
<text transform="translate(509.65 254.50) scale(0.8 1)" font-size="8" text-anchor="middle">5</text>
<text transform="translate(425.00 174.70)" font-size="8.6">+C646</text>
<text transform="translate(405.20 213.30) rotate(-90) scale(0.78 1)" font-size="8.8" text-anchor="middle">Viable cells (x10<tspan font-size="5.4" dy="-2.8">6</tspan><tspan dy="2.8">)</tspan></text>
<text transform="translate(469.00 267.00) scale(0.75 1)" font-size="9" text-anchor="middle">Time (days)</text>
<polyline fill="none" stroke="#c4122f" stroke-width="1.2" stroke-linejoin="round" points="424.40,239.68 441.45,236.30 458.50,229.81 475.55,219.66 492.60,197.94"/>
<circle cx="424.40" cy="239.68" r="1.80" fill="#c4122f"/>
<circle cx="441.45" cy="236.30" r="1.80" fill="#c4122f"/>
<circle cx="458.50" cy="229.81" r="1.80" fill="#c4122f"/>
<circle cx="475.55" cy="219.66" r="1.80" fill="#c4122f"/>
<circle cx="492.60" cy="197.94" r="1.80" fill="#c4122f"/>
<polyline fill="none" stroke="#24418f" stroke-width="1.2" stroke-linejoin="round" points="424.40,239.68 441.45,233.19 458.50,224.17 475.55,209.51 492.60,199.64"/>
<rect x="422.78" y="238.06" width="3.24" height="3.24" fill="#24418f"/>
<rect x="439.83" y="231.57" width="3.24" height="3.24" fill="#24418f"/>
<rect x="456.88" y="222.55" width="3.24" height="3.24" fill="#24418f"/>
<rect x="473.93" y="207.89" width="3.24" height="3.24" fill="#24418f"/>
<rect x="490.98" y="198.02" width="3.24" height="3.24" fill="#24418f"/>
<polyline fill="none" stroke="#6cbf45" stroke-width="1.2" stroke-linejoin="round" points="424.40,239.68 441.45,234.89 458.50,227.55 475.55,212.89 492.60,200.20"/>
<path d="M424.40 237.70L426.20 241.12L422.60 241.12Z" fill="#6cbf45"/>
<path d="M441.45 232.91L443.25 236.33L439.65 236.33Z" fill="#6cbf45"/>
<path d="M458.50 225.57L460.30 228.99L456.70 228.99Z" fill="#6cbf45"/>
<path d="M475.55 210.91L477.35 214.33L473.75 214.33Z" fill="#6cbf45"/>
<path d="M492.60 198.22L494.40 201.64L490.80 201.64Z" fill="#6cbf45"/>
<polyline fill="none" stroke="#4a2a86" stroke-width="1.2" stroke-linejoin="round" points="424.40,239.68 441.45,234.04 458.50,225.58 475.55,210.92 492.60,200.20"/>
<path d="M424.40 241.66L426.20 238.24L422.60 238.24Z" fill="#4a2a86"/>
<path d="M441.45 236.02L443.25 232.60L439.65 232.60Z" fill="#4a2a86"/>
<path d="M458.50 227.56L460.30 224.14L456.70 224.14Z" fill="#4a2a86"/>
<path d="M475.55 212.90L477.35 209.48L473.75 209.48Z" fill="#4a2a86"/>
<path d="M492.60 202.18L494.40 198.76L490.80 198.76Z" fill="#4a2a86"/>
<line x1="431.20" y1="185.40" x2="442.50" y2="185.40" stroke="#c4122f" stroke-width="1.35" />
<circle cx="436.80" cy="185.40" r="1.75" fill="#c4122f"/>
<text transform="translate(446.40 187.60) scale(0.9 1)" font-size="6.1">Control</text>
<line x1="431.20" y1="194.25" x2="442.50" y2="194.25" stroke="#24418f" stroke-width="1.35" />
<rect x="435.23" y="192.68" width="3.15" height="3.15" fill="#24418f"/>
<text transform="translate(446.40 196.45) scale(0.9 1)" font-size="6.1">shRNA1</text>
<line x1="431.20" y1="203.10" x2="442.50" y2="203.10" stroke="#6cbf45" stroke-width="1.35" />
<path d="M436.80 201.17L438.55 204.50L435.05 204.50Z" fill="#6cbf45"/>
<text transform="translate(446.40 205.30) scale(0.9 1)" font-size="6.1">shRNA2</text>
<line x1="431.20" y1="211.95" x2="442.50" y2="211.95" stroke="#4a2a86" stroke-width="1.35" />
<path d="M436.80 213.88L438.55 210.55L435.05 210.55Z" fill="#4a2a86"/>
<text transform="translate(446.40 214.15) scale(0.9 1)" font-size="6.1">shRNA3</text>
<text transform="translate(47.60 288.40)" font-size="8.8">OCI-AML2</text>
<text transform="translate(86.50 299.50) rotate(-45)" font-size="6.7" text-anchor="end">Control shRNA</text>
<text transform="translate(103.50 297.00) rotate(-45)" font-size="6.7" text-anchor="end">MTCH2 shRNA1</text>
<text transform="translate(117.80 297.00) rotate(-45)" font-size="6.7" text-anchor="end">MTCH2 shRNA2</text>
<text transform="translate(132.30 297.00) rotate(-45)" font-size="6.7" text-anchor="end">MTCH2 shRNA3</text>
<g clip-path="url(#c13)">
<rect x="47.00" y="332.00" width="58.50" height="13.50" fill="#696969" />
<rect x="47.00" y="332.00" width="58.50" height="13.50" fill="none" stroke="#3a3a3a" stroke-width="3" filter="url(#b1)"/>
<rect x="51.86" y="337.45" width="9.00" height="2.00" rx="1.00" fill="#0b0b0b" opacity="0.8" filter="url(#b1)"/>
<rect x="64.27" y="337.65" width="38.00" height="2.60" rx="1.30" fill="#0b0b0b" opacity="0.9" filter="url(#b1)"/>
<rect x="63.90" y="337.25" width="13.00" height="3.40" rx="1.70" fill="#0b0b0b" opacity="0.9" filter="url(#b1)"/>
<rect x="77.35" y="337.35" width="13.00" height="3.40" rx="1.70" fill="#0b0b0b" opacity="0.9" filter="url(#b1)"/>
<rect x="91.22" y="337.55" width="11.00" height="3.00" rx="1.50" fill="#0b0b0b" opacity="0.9" filter="url(#b1)"/>
</g>
<rect x="47.50" y="332.50" width="57.50" height="12.50" fill="none" stroke="#141414" stroke-width="1"/>
<g clip-path="url(#c14)">
<rect x="47.00" y="347.00" width="58.50" height="13.00" fill="#666666" />
<rect x="47.00" y="347.00" width="58.50" height="13.00" fill="none" stroke="#3a3a3a" stroke-width="3" filter="url(#b1)"/>
<rect x="51.75" y="352.40" width="49.00" height="2.20" rx="1.10" fill="#0b0b0b" opacity="0.95" filter="url(#b1)"/>
<rect x="51.45" y="352.10" width="11.00" height="2.80" rx="1.40" fill="#0b0b0b" opacity="0.85" filter="url(#b1)"/>
<rect x="64.40" y="352.10" width="12.00" height="2.80" rx="1.40" fill="#0b0b0b" opacity="0.85" filter="url(#b1)"/>
<rect x="77.85" y="352.10" width="12.00" height="2.80" rx="1.40" fill="#0b0b0b" opacity="0.85" filter="url(#b1)"/>
<rect x="91.22" y="351.70" width="11.00" height="3.00" rx="1.50" fill="#0b0b0b" opacity="0.9" filter="url(#b1)"/>
</g>
<rect x="47.50" y="347.50" width="57.50" height="12.00" fill="none" stroke="#141414" stroke-width="1"/>
<text transform="translate(113.00 342.60)" font-size="6.6">Ac-H3</text>
<text transform="translate(113.00 356.80)" font-size="6.6">H3</text>
<text transform="translate(174.00 288.40)" font-size="8.8">+C646</text>
<text transform="translate(206.30 299.50) rotate(-45)" font-size="6.7" text-anchor="end">Control shRNA</text>
<text transform="translate(222.80 297.00) rotate(-45)" font-size="6.7" text-anchor="end">MTCH2 shRNA1</text>
<text transform="translate(238.00 297.00) rotate(-45)" font-size="6.7" text-anchor="end">MTCH2 shRNA2</text>
<text transform="translate(253.20 297.00) rotate(-45)" font-size="6.7" text-anchor="end">MTCH2 shRNA3</text>
<g clip-path="url(#c15)">
<rect x="165.00" y="332.00" width="56.00" height="14.50" fill="#6a6a6a" />
<rect x="165.00" y="332.00" width="56.00" height="14.50" fill="none" stroke="#3c3c3c" stroke-width="3" filter="url(#b1)"/>
<rect x="171.00" y="338.05" width="44.00" height="2.40" rx="1.20" fill="#0b0b0b" opacity="0.55" filter="url(#b1)"/>
<rect x="169.58" y="337.95" width="11.00" height="2.60" rx="1.30" fill="#0b0b0b" opacity="0.5" filter="url(#b1)"/>
<rect x="183.02" y="337.95" width="11.00" height="2.60" rx="1.30" fill="#0b0b0b" opacity="0.5" filter="url(#b1)"/>
<rect x="195.34" y="337.95" width="11.00" height="2.60" rx="1.30" fill="#0b0b0b" opacity="0.5" filter="url(#b1)"/>
<rect x="207.60" y="337.85" width="10.00" height="2.80" rx="1.40" fill="#0b0b0b" opacity="0.6" filter="url(#b1)"/>
</g>
<rect x="165.50" y="332.50" width="55.00" height="13.50" fill="none" stroke="#141414" stroke-width="1"/>
<g clip-path="url(#c16)">
<rect x="165.00" y="348.00" width="56.00" height="12.50" fill="#686868" />
<rect x="165.00" y="348.00" width="56.00" height="12.50" fill="none" stroke="#3c3c3c" stroke-width="3" filter="url(#b1)"/>
<rect x="170.00" y="353.05" width="46.00" height="2.40" rx="1.20" fill="#0b0b0b" opacity="1" filter="url(#b1)"/>
<rect x="169.58" y="352.85" width="11.00" height="2.80" rx="1.40" fill="#0b0b0b" opacity="0.9" filter="url(#b1)"/>
<rect x="183.02" y="352.85" width="11.00" height="2.80" rx="1.40" fill="#0b0b0b" opacity="0.9" filter="url(#b1)"/>
<rect x="195.34" y="352.85" width="11.00" height="2.80" rx="1.40" fill="#0b0b0b" opacity="0.9" filter="url(#b1)"/>
<rect x="207.60" y="352.85" width="10.00" height="2.80" rx="1.40" fill="#0b0b0b" opacity="0.9" filter="url(#b1)"/>
</g>
<rect x="165.50" y="348.50" width="55.00" height="11.50" fill="none" stroke="#141414" stroke-width="1"/>
<text transform="translate(228.00 342.80)" font-size="6.6">Ac-H3</text>
<text transform="translate(228.00 357.00)" font-size="6.6">H3</text>
<text transform="translate(305.80 288.40)" font-size="8.8">TEX</text>
<text transform="translate(345.80 299.50) rotate(-45)" font-size="6.7" text-anchor="end">Control shRNA</text>
<text transform="translate(362.70 297.00) rotate(-45)" font-size="6.7" text-anchor="end">MTCH2 shRNA1</text>
<text transform="translate(377.50 297.00) rotate(-45)" font-size="6.7" text-anchor="end">MTCH2 shRNA2</text>
<text transform="translate(392.30 297.00) rotate(-45)" font-size="6.7" text-anchor="end">MTCH2 shRNA3</text>
<g clip-path="url(#c17)">
<rect x="305.50" y="331.50" width="57.50" height="16.00" fill="#454545" />
<rect x="305.50" y="331.50" width="57.50" height="16.00" fill="none" stroke="#262626" stroke-width="3" filter="url(#b1)"/>
<rect x="308.55" y="337.40" width="10.00" height="2.20" rx="1.10" fill="#0b0b0b" opacity="0.35" filter="url(#b1)"/>
<rect x="321.85" y="337.80" width="11.00" height="3.40" rx="1.70" fill="#0b0b0b" opacity="0.6" filter="url(#b1)"/>
<rect x="334.50" y="337.80" width="11.00" height="3.40" rx="1.70" fill="#0b0b0b" opacity="0.6" filter="url(#b1)"/>
<rect x="346.50" y="337.80" width="10.00" height="3.40" rx="1.70" fill="#0b0b0b" opacity="0.6" filter="url(#b1)"/>
</g>
<rect x="306.00" y="332.00" width="56.50" height="15.00" fill="none" stroke="#141414" stroke-width="1"/>
<g clip-path="url(#c18)">
<rect x="305.50" y="349.00" width="57.50" height="15.50" fill="#424242" />
<rect x="305.50" y="349.00" width="57.50" height="15.50" fill="none" stroke="#222" stroke-width="3" filter="url(#b1)"/>
<rect x="309.25" y="354.25" width="50.00" height="5.00" rx="2.20" fill="#0b0b0b" opacity="1" filter="url(#b2)"/>
<rect x="308.20" y="353.75" width="13.00" height="6.00" rx="2.20" fill="#0b0b0b" opacity="0.9" filter="url(#b2)"/>
<rect x="322.00" y="353.75" width="13.00" height="6.00" rx="2.20" fill="#0b0b0b" opacity="0.9" filter="url(#b2)"/>
<rect x="334.65" y="353.75" width="13.00" height="6.00" rx="2.20" fill="#0b0b0b" opacity="0.9" filter="url(#b2)"/>
<rect x="346.65" y="353.75" width="12.00" height="6.00" rx="2.20" fill="#0b0b0b" opacity="0.9" filter="url(#b2)"/>
</g>
<rect x="306.00" y="349.50" width="56.50" height="14.50" fill="none" stroke="#141414" stroke-width="1"/>
<text transform="translate(373.50 342.00)" font-size="6.6">Ac-H3</text>
<text transform="translate(373.50 356.30)" font-size="6.6">H3</text>
<text transform="translate(425.00 288.40)" font-size="8.8">+C646</text>
<text transform="translate(455.20 300.50) rotate(-45)" font-size="6.7" text-anchor="end">Control shRNA</text>
<text transform="translate(472.30 297.00) rotate(-45)" font-size="6.7" text-anchor="end">MTCH2 shRNA1</text>
<text transform="translate(486.80 297.00) rotate(-45)" font-size="6.7" text-anchor="end">MTCH2 shRNA2</text>
<text transform="translate(501.70 297.00) rotate(-45)" font-size="6.7" text-anchor="end">MTCH2 shRNA3</text>
<g clip-path="url(#c19)">
<rect x="415.00" y="331.50" width="56.50" height="17.00" fill="#424242" />
<rect x="415.00" y="331.50" width="56.50" height="17.00" fill="none" stroke="#242424" stroke-width="3" filter="url(#b1)"/>
<rect x="423.19" y="339.50" width="13.00" height="3.00" rx="1.50" fill="#0b0b0b" opacity="0.75" filter="url(#b2)"/>
<rect x="437.25" y="339.70" width="12.00" height="2.60" rx="1.30" fill="#0b0b0b" opacity="0.6" filter="url(#b2)"/>
<rect x="449.25" y="337.40" width="14.00" height="4.20" rx="2.10" fill="#0b0b0b" opacity="0.85" filter="url(#b2)"/>
</g>
<rect x="415.50" y="332.00" width="55.50" height="16.00" fill="none" stroke="#141414" stroke-width="1"/>
<g clip-path="url(#c20)">
<rect x="415.00" y="350.00" width="56.50" height="13.50" fill="#454545" />
<rect x="415.00" y="350.00" width="56.50" height="13.50" fill="none" stroke="#222" stroke-width="3" filter="url(#b1)"/>
<rect x="420.25" y="354.45" width="46.00" height="4.60" rx="2.20" fill="#0b0b0b" opacity="1" filter="url(#b2)"/>
<rect x="421.12" y="353.95" width="16.00" height="5.60" rx="2.20" fill="#0b0b0b" opacity="1" filter="url(#b2)"/>
<rect x="437.38" y="354.25" width="14.00" height="5.00" rx="2.20" fill="#0b0b0b" opacity="1" filter="url(#b2)"/>
<rect x="450.94" y="354.15" width="14.00" height="5.20" rx="2.20" fill="#0b0b0b" opacity="1" filter="url(#b2)"/>
</g>
<rect x="415.50" y="350.50" width="55.50" height="12.50" fill="none" stroke="#141414" stroke-width="1"/>
<text transform="translate(481.60 342.00)" font-size="6.6">Ac-H3</text>
<text transform="translate(481.60 356.40)" font-size="6.6">H3</text>
<text transform="translate(7.50 387.30)" font-size="12.5" font-weight="bold" fill="#000">E</text>
<circle cx="71.2" cy="421.5" r="28.8" fill="none" stroke="#c4122f" stroke-width="1.1"/>
<circle cx="100" cy="421.5" r="28.6" fill="none" stroke="#2c4f9c" stroke-width="1.1"/>
<circle cx="85.4" cy="446.5" r="28.5" fill="none" stroke="#6cbf45" stroke-width="1.1"/>
<text transform="translate(37.60 392.10)" font-size="6.5" text-anchor="middle">MTCH2</text>
<text transform="translate(37.60 399.80)" font-size="6.5" text-anchor="middle">shRNA</text>
<text transform="translate(131.50 392.10)" font-size="6.5" text-anchor="middle">Control</text>
<text transform="translate(131.50 399.80)" font-size="6.5" text-anchor="middle">shRNA</text>
<text transform="translate(58.50 417.40)" font-size="6.5" text-anchor="middle">41138</text>
<text transform="translate(85.30 411.20)" font-size="6.5" text-anchor="middle">293</text>
<text transform="translate(111.50 417.40)" font-size="6.5" text-anchor="middle">351</text>
<text transform="translate(85.30 432.80)" font-size="6.5" text-anchor="middle">27464</text>
<text transform="translate(67.20 444.40)" font-size="6.5" text-anchor="middle">11041</text>
<text transform="translate(102.50 444.40)" font-size="6.5" text-anchor="middle">482</text>
<text transform="translate(85.60 463.60)" font-size="6.5" text-anchor="middle">1358</text>
<text transform="translate(85.60 483.60)" font-size="6.5" text-anchor="middle">MTCH2</text>
<text transform="translate(85.60 490.80)" font-size="6.5" text-anchor="middle">shRNA+C646</text>
<text transform="translate(161.50 387.30)" font-size="12.5" font-weight="bold" fill="#000">F</text>
<rect x="211.00" y="435.00" width="22.70" height="22.50" fill="#2f4b7f" />
<rect x="237.70" y="404.20" width="23.10" height="53.30" fill="#a5092c" />
<rect x="264.50" y="424.80" width="23.00" height="32.70" fill="#5fa63f" />
<line x1="207.80" y1="401.50" x2="207.80" y2="458.15" stroke="#111" stroke-width="1.3" />
<line x1="207.15" y1="457.50" x2="291.00" y2="457.50" stroke="#111" stroke-width="1.3" />
<line x1="204.00" y1="404.20" x2="207.80" y2="404.20" stroke="#111" stroke-width="1.1" />
<text transform="translate(201.40 406.90) scale(0.8 1)" font-size="8" text-anchor="end">80000</text>
<line x1="204.00" y1="431.00" x2="207.80" y2="431.00" stroke="#111" stroke-width="1.1" />
<text transform="translate(201.40 433.70) scale(0.8 1)" font-size="8" text-anchor="end">40000</text>
<line x1="204.00" y1="457.50" x2="207.80" y2="457.50" stroke="#111" stroke-width="1.1" />
<text transform="translate(201.40 460.20) scale(0.8 1)" font-size="8" text-anchor="end">0</text>
<text transform="translate(178.00 429.80) rotate(-90) scale(0.77 1)" font-size="8.9" text-anchor="middle">Peak number</text>
<text transform="translate(222.30 467.20)" font-size="6.5" text-anchor="middle">Control</text>
<text transform="translate(222.30 474.80)" font-size="6.5" text-anchor="middle">shRNA</text>
<text transform="translate(249.20 467.20)" font-size="6.5" text-anchor="middle">MTCH2</text>
<text transform="translate(249.20 474.80)" font-size="6.5" text-anchor="middle">shRNA</text>
<text transform="translate(276.20 467.20)" font-size="6.5" text-anchor="middle">MTCH2</text>
<text transform="translate(276.20 474.80)" font-size="6.5" text-anchor="middle">shRNA</text>
<text transform="translate(276.20 482.40)" font-size="6.5" text-anchor="middle">+C646</text>
<text transform="translate(310.50 387.30)" font-size="12.5" font-weight="bold" fill="#000">G</text>
<text transform="translate(393.20 393.80)" font-size="8.4" text-anchor="middle">LSC- genes</text>
<rect x="354.50" y="424.80" width="22.40" height="32.70" fill="#2f4b7f" />
<rect x="381.20" y="402.70" width="22.80" height="54.80" fill="#a5092c" />
<rect x="408.30" y="417.20" width="22.70" height="40.30" fill="#5fa63f" />
<line x1="350.80" y1="399.60" x2="350.80" y2="458.15" stroke="#111" stroke-width="1.3" />
<line x1="350.15" y1="457.50" x2="434.50" y2="457.50" stroke="#111" stroke-width="1.3" />
<line x1="347.00" y1="402.70" x2="350.80" y2="402.70" stroke="#111" stroke-width="1.1" />
<text transform="translate(344.40 405.40) scale(0.8 1)" font-size="8" text-anchor="end">100</text>
<line x1="347.00" y1="430.30" x2="350.80" y2="430.30" stroke="#111" stroke-width="1.1" />
<text transform="translate(344.40 433.00) scale(0.8 1)" font-size="8" text-anchor="end">50</text>
<line x1="347.00" y1="457.50" x2="350.80" y2="457.50" stroke="#111" stroke-width="1.1" />
<text transform="translate(344.40 460.20) scale(0.8 1)" font-size="8" text-anchor="end">0</text>
<text transform="translate(328.80 429.00) rotate(-90) scale(0.77 1)" font-size="8.9" text-anchor="middle">Peak number</text>
<text transform="translate(365.60 467.20)" font-size="6.5" text-anchor="middle">Control</text>
<text transform="translate(365.60 474.80)" font-size="6.5" text-anchor="middle">shRNA</text>
<text transform="translate(392.40 467.20)" font-size="6.5" text-anchor="middle">MTCH2</text>
<text transform="translate(392.40 474.80)" font-size="6.5" text-anchor="middle">shRNA</text>
<text transform="translate(420.00 467.20)" font-size="6.5" text-anchor="middle">MTCH2</text>
<text transform="translate(420.00 474.80)" font-size="6.5" text-anchor="middle">shRNA</text>
<text transform="translate(420.00 482.40)" font-size="6.5" text-anchor="middle">+C646</text>
<text transform="translate(7.50 511.60)" font-size="12.5" font-weight="bold" fill="#000">H</text>
<text transform="translate(30.00 512.60)" font-size="8.5">LSC-genes</text>
<text transform="translate(50.60 531.80)" font-size="6.7" text-anchor="middle">Control shRNA</text>
<text transform="translate(104.60 531.80)" font-size="6.7" text-anchor="middle">MTCH2 shRNA</text>
<text transform="translate(158.80 524.00)" font-size="6.5" text-anchor="middle">MTCH2 shRNA</text>
<text transform="translate(158.80 531.80)" font-size="6.5" text-anchor="middle">+C646</text>
<text transform="translate(24.80 584.00) rotate(-90)" font-size="6.5" text-anchor="middle">ChIP-seq Signal</text>
<g filter="url(#hb)" shape-rendering="crispEdges">
<rect x="27.50" y="532.80" width="47.50" height="102.80" fill="#f1faba" />
<path d="M44.7 534.8h2.47v1.97h-2.47zM38.2 536.5h2.47v1.97h-2.47zM42.5 536.5h2.47v1.97h-2.47zM68.7 536.5h2.47v1.97h-2.47zM33.9 543.2h2.47v1.97h-2.47zM36.0 543.2h2.47v1.97h-2.47zM66.5 543.2h2.47v1.97h-2.47zM29.5 551.5h2.47v1.97h-2.47zM31.7 551.5h2.47v1.97h-2.47zM36.0 551.5h2.47v1.97h-2.47zM38.2 551.5h2.47v1.97h-2.47zM42.5 551.5h2.47v1.97h-2.47zM44.7 551.5h2.47v1.97h-2.47zM49.1 551.5h2.47v1.97h-2.47zM53.4 551.5h2.47v1.97h-2.47zM66.5 551.5h2.47v1.97h-2.47zM68.7 551.5h2.47v1.97h-2.47zM70.8 551.5h2.47v1.97h-2.47zM29.5 556.6h2.47v1.97h-2.47zM31.7 556.6h2.47v1.97h-2.47zM38.2 556.6h2.47v1.97h-2.47zM29.5 561.6h2.47v1.97h-2.47zM36.0 561.6h2.47v1.97h-2.47zM40.4 561.6h2.47v1.97h-2.47zM42.5 561.6h2.47v1.97h-2.47zM44.7 561.6h2.47v1.97h-2.47zM59.9 561.6h2.47v1.97h-2.47zM62.1 561.6h2.47v1.97h-2.47zM70.8 561.6h2.47v1.97h-2.47zM42.5 563.3h2.47v1.97h-2.47zM53.4 563.3h2.47v1.97h-2.47zM55.6 563.3h2.47v1.97h-2.47zM59.9 563.3h2.47v1.97h-2.47zM68.7 563.3h2.47v1.97h-2.47zM42.5 564.9h2.47v1.97h-2.47zM31.7 573.3h2.47v1.97h-2.47zM38.2 573.3h2.47v1.97h-2.47zM40.4 573.3h2.47v1.97h-2.47zM44.7 573.3h2.47v1.97h-2.47zM59.9 573.3h2.47v1.97h-2.47zM62.1 573.3h2.47v1.97h-2.47zM66.5 573.3h2.47v1.97h-2.47zM68.7 573.3h2.47v1.97h-2.47zM40.4 576.7h2.47v1.97h-2.47zM62.1 576.7h2.47v1.97h-2.47zM64.3 576.7h2.47v1.97h-2.47zM33.9 580.0h2.47v1.97h-2.47zM36.0 580.0h2.47v1.97h-2.47zM38.2 580.0h2.47v1.97h-2.47zM40.4 580.0h2.47v1.97h-2.47zM42.5 580.0h2.47v1.97h-2.47zM46.9 580.0h2.47v1.97h-2.47zM57.8 580.0h2.47v1.97h-2.47zM59.9 580.0h2.47v1.97h-2.47zM64.3 580.0h2.47v1.97h-2.47zM29.5 581.7h2.47v1.97h-2.47zM31.7 581.7h2.47v1.97h-2.47zM38.2 581.7h2.47v1.97h-2.47zM42.5 581.7h2.47v1.97h-2.47zM46.9 581.7h2.47v1.97h-2.47zM49.1 581.7h2.47v1.97h-2.47zM53.4 581.7h2.47v1.97h-2.47zM55.6 581.7h2.47v1.97h-2.47zM57.8 581.7h2.47v1.97h-2.47zM62.1 581.7h2.47v1.97h-2.47zM64.3 581.7h2.47v1.97h-2.47zM70.8 581.7h2.47v1.97h-2.47zM40.4 585.0h2.47v1.97h-2.47zM42.5 585.0h2.47v1.97h-2.47zM44.7 585.0h2.47v1.97h-2.47zM49.1 585.0h2.47v1.97h-2.47zM51.2 585.0h2.47v1.97h-2.47zM66.5 585.0h2.47v1.97h-2.47zM68.7 585.0h2.47v1.97h-2.47zM70.8 585.0h2.47v1.97h-2.47zM70.8 588.4h2.47v1.97h-2.47zM31.7 590.1h2.47v1.97h-2.47zM42.5 590.1h2.47v1.97h-2.47zM64.3 590.1h2.47v1.97h-2.47zM33.9 591.7h2.47v1.97h-2.47zM36.0 591.7h2.47v1.97h-2.47zM38.2 591.7h2.47v1.97h-2.47zM42.5 591.7h2.47v1.97h-2.47zM46.9 591.7h2.47v1.97h-2.47zM64.3 591.7h2.47v1.97h-2.47zM66.5 591.7h2.47v1.97h-2.47zM29.5 595.1h2.47v1.97h-2.47zM31.7 595.1h2.47v1.97h-2.47zM33.9 595.1h2.47v1.97h-2.47zM36.0 595.1h2.47v1.97h-2.47zM38.2 595.1h2.47v1.97h-2.47zM42.5 595.1h2.47v1.97h-2.47zM44.7 595.1h2.47v1.97h-2.47zM46.9 595.1h2.47v1.97h-2.47zM53.4 595.1h2.47v1.97h-2.47zM55.6 595.1h2.47v1.97h-2.47zM57.8 595.1h2.47v1.97h-2.47zM59.9 595.1h2.47v1.97h-2.47zM62.1 595.1h2.47v1.97h-2.47zM64.3 595.1h2.47v1.97h-2.47zM70.8 595.1h2.47v1.97h-2.47zM31.7 598.4h2.47v1.97h-2.47zM46.9 598.4h2.47v1.97h-2.47zM49.1 598.4h2.47v1.97h-2.47zM51.2 598.4h2.47v1.97h-2.47zM68.7 598.4h2.47v1.97h-2.47zM31.7 600.1h2.47v1.97h-2.47zM33.9 600.1h2.47v1.97h-2.47zM36.0 600.1h2.47v1.97h-2.47zM40.4 600.1h2.47v1.97h-2.47zM42.5 600.1h2.47v1.97h-2.47zM46.9 600.1h2.47v1.97h-2.47zM49.1 600.1h2.47v1.97h-2.47zM51.2 600.1h2.47v1.97h-2.47zM55.6 600.1h2.47v1.97h-2.47zM57.8 600.1h2.47v1.97h-2.47zM59.9 600.1h2.47v1.97h-2.47zM66.5 600.1h2.47v1.97h-2.47zM44.7 601.8h2.47v1.97h-2.47zM49.1 603.5h2.47v1.97h-2.47zM29.5 605.1h2.47v1.97h-2.47zM31.7 605.1h2.47v1.97h-2.47zM33.9 605.1h2.47v1.97h-2.47zM38.2 605.1h2.47v1.97h-2.47zM46.9 605.1h2.47v1.97h-2.47zM49.1 605.1h2.47v1.97h-2.47zM51.2 605.1h2.47v1.97h-2.47zM55.6 605.1h2.47v1.97h-2.47zM57.8 605.1h2.47v1.97h-2.47zM59.9 605.1h2.47v1.97h-2.47zM31.7 606.8h2.47v1.97h-2.47zM44.7 606.8h2.47v1.97h-2.47zM59.9 606.8h2.47v1.97h-2.47zM29.5 608.5h2.47v1.97h-2.47zM33.9 608.5h2.47v1.97h-2.47zM36.0 608.5h2.47v1.97h-2.47zM38.2 608.5h2.47v1.97h-2.47zM40.4 608.5h2.47v1.97h-2.47zM42.5 608.5h2.47v1.97h-2.47zM46.9 608.5h2.47v1.97h-2.47zM55.6 608.5h2.47v1.97h-2.47zM66.5 608.5h2.47v1.97h-2.47zM68.7 608.5h2.47v1.97h-2.47zM31.7 610.2h2.47v1.97h-2.47zM33.9 610.2h2.47v1.97h-2.47zM36.0 610.2h2.47v1.97h-2.47zM42.5 610.2h2.47v1.97h-2.47zM44.7 610.2h2.47v1.97h-2.47zM46.9 610.2h2.47v1.97h-2.47zM51.2 610.2h2.47v1.97h-2.47zM53.4 610.2h2.47v1.97h-2.47zM55.6 610.2h2.47v1.97h-2.47zM57.8 610.2h2.47v1.97h-2.47zM59.9 610.2h2.47v1.97h-2.47zM62.1 610.2h2.47v1.97h-2.47zM64.3 610.2h2.47v1.97h-2.47zM29.5 611.8h2.47v1.97h-2.47zM64.3 611.8h2.47v1.97h-2.47zM29.5 613.5h2.47v1.97h-2.47zM33.9 613.5h2.47v1.97h-2.47zM36.0 613.5h2.47v1.97h-2.47zM38.2 613.5h2.47v1.97h-2.47zM44.7 613.5h2.47v1.97h-2.47zM49.1 613.5h2.47v1.97h-2.47zM51.2 613.5h2.47v1.97h-2.47zM53.4 613.5h2.47v1.97h-2.47zM55.6 613.5h2.47v1.97h-2.47zM57.8 613.5h2.47v1.97h-2.47zM68.7 613.5h2.47v1.97h-2.47zM70.8 613.5h2.47v1.97h-2.47zM31.7 615.2h2.47v1.97h-2.47zM36.0 615.2h2.47v1.97h-2.47zM38.2 615.2h2.47v1.97h-2.47zM40.4 615.2h2.47v1.97h-2.47zM42.5 615.2h2.47v1.97h-2.47zM46.9 615.2h2.47v1.97h-2.47zM59.9 615.2h2.47v1.97h-2.47zM62.1 615.2h2.47v1.97h-2.47zM66.5 615.2h2.47v1.97h-2.47zM68.7 615.2h2.47v1.97h-2.47zM70.8 615.2h2.47v1.97h-2.47zM33.9 616.9h2.47v1.97h-2.47zM38.2 616.9h2.47v1.97h-2.47zM40.4 616.9h2.47v1.97h-2.47zM46.9 616.9h2.47v1.97h-2.47zM70.8 616.9h2.47v1.97h-2.47zM29.5 618.5h2.47v1.97h-2.47zM31.7 618.5h2.47v1.97h-2.47zM33.9 618.5h2.47v1.97h-2.47zM42.5 618.5h2.47v1.97h-2.47zM44.7 618.5h2.47v1.97h-2.47zM46.9 618.5h2.47v1.97h-2.47zM49.1 618.5h2.47v1.97h-2.47zM51.2 618.5h2.47v1.97h-2.47zM57.8 618.5h2.47v1.97h-2.47zM33.9 620.2h2.47v1.97h-2.47zM36.0 620.2h2.47v1.97h-2.47zM40.4 620.2h2.47v1.97h-2.47zM42.5 620.2h2.47v1.97h-2.47zM49.1 620.2h2.47v1.97h-2.47zM51.2 620.2h2.47v1.97h-2.47zM53.4 620.2h2.47v1.97h-2.47zM64.3 620.2h2.47v1.97h-2.47zM66.5 620.2h2.47v1.97h-2.47zM68.7 620.2h2.47v1.97h-2.47zM70.8 620.2h2.47v1.97h-2.47zM29.5 621.9h2.47v1.97h-2.47zM31.7 621.9h2.47v1.97h-2.47zM36.0 621.9h2.47v1.97h-2.47zM38.2 621.9h2.47v1.97h-2.47zM42.5 621.9h2.47v1.97h-2.47zM44.7 621.9h2.47v1.97h-2.47zM51.2 621.9h2.47v1.97h-2.47zM53.4 621.9h2.47v1.97h-2.47zM57.8 621.9h2.47v1.97h-2.47zM66.5 621.9h2.47v1.97h-2.47zM68.7 621.9h2.47v1.97h-2.47zM31.7 623.6h2.47v1.97h-2.47zM36.0 623.6h2.47v1.97h-2.47zM38.2 623.6h2.47v1.97h-2.47zM40.4 623.6h2.47v1.97h-2.47zM46.9 623.6h2.47v1.97h-2.47zM49.1 623.6h2.47v1.97h-2.47zM51.2 623.6h2.47v1.97h-2.47zM59.9 623.6h2.47v1.97h-2.47zM29.5 625.2h2.47v1.97h-2.47zM33.9 625.2h2.47v1.97h-2.47zM38.2 625.2h2.47v1.97h-2.47zM42.5 625.2h2.47v1.97h-2.47zM44.7 625.2h2.47v1.97h-2.47zM46.9 625.2h2.47v1.97h-2.47zM49.1 625.2h2.47v1.97h-2.47zM51.2 625.2h2.47v1.97h-2.47zM55.6 625.2h2.47v1.97h-2.47zM62.1 625.2h2.47v1.97h-2.47zM66.5 625.2h2.47v1.97h-2.47zM68.7 625.2h2.47v1.97h-2.47zM70.8 625.2h2.47v1.97h-2.47zM33.9 626.9h2.47v1.97h-2.47zM36.0 626.9h2.47v1.97h-2.47zM40.4 626.9h2.47v1.97h-2.47zM42.5 626.9h2.47v1.97h-2.47zM55.6 626.9h2.47v1.97h-2.47zM59.9 626.9h2.47v1.97h-2.47zM64.3 626.9h2.47v1.97h-2.47zM66.5 626.9h2.47v1.97h-2.47zM68.7 626.9h2.47v1.97h-2.47zM70.8 626.9h2.47v1.97h-2.47zM29.5 628.6h2.47v1.97h-2.47zM33.9 628.6h2.47v1.97h-2.47zM36.0 628.6h2.47v1.97h-2.47zM42.5 628.6h2.47v1.97h-2.47zM46.9 628.6h2.47v1.97h-2.47zM53.4 628.6h2.47v1.97h-2.47zM55.6 628.6h2.47v1.97h-2.47zM62.1 628.6h2.47v1.97h-2.47zM64.3 628.6h2.47v1.97h-2.47zM68.7 628.6h2.47v1.97h-2.47zM29.5 630.3h2.47v1.97h-2.47zM31.7 630.3h2.47v1.97h-2.47zM38.2 630.3h2.47v1.97h-2.47zM42.5 630.3h2.47v1.97h-2.47zM44.7 630.3h2.47v1.97h-2.47zM46.9 630.3h2.47v1.97h-2.47zM49.1 630.3h2.47v1.97h-2.47zM51.2 630.3h2.47v1.97h-2.47zM53.4 630.3h2.47v1.97h-2.47zM57.8 630.3h2.47v1.97h-2.47zM59.9 630.3h2.47v1.97h-2.47zM64.3 630.3h2.47v1.97h-2.47zM66.5 630.3h2.47v1.97h-2.47zM68.7 630.3h2.47v1.97h-2.47zM36.0 631.9h2.47v1.97h-2.47zM38.2 631.9h2.47v1.97h-2.47zM40.4 631.9h2.47v1.97h-2.47zM44.7 631.9h2.47v1.97h-2.47zM49.1 631.9h2.47v1.97h-2.47zM51.2 631.9h2.47v1.97h-2.47zM53.4 631.9h2.47v1.97h-2.47zM55.6 631.9h2.47v1.97h-2.47zM57.8 631.9h2.47v1.97h-2.47zM62.1 631.9h2.47v1.97h-2.47zM68.7 631.9h2.47v1.97h-2.47z" fill="#f6fbc4"/>
<path d="M29.5 538.1h2.47v1.97h-2.47zM33.9 539.8h2.47v1.97h-2.47zM38.2 539.8h2.47v1.97h-2.47zM66.5 539.8h2.47v1.97h-2.47zM31.7 541.5h2.47v1.97h-2.47zM33.9 541.5h2.47v1.97h-2.47zM36.0 541.5h2.47v1.97h-2.47zM38.2 541.5h2.47v1.97h-2.47zM42.5 541.5h2.47v1.97h-2.47zM68.7 541.5h2.47v1.97h-2.47zM33.9 544.8h2.47v1.97h-2.47zM38.2 544.8h2.47v1.97h-2.47zM40.4 544.8h2.47v1.97h-2.47zM31.7 546.5h2.47v1.97h-2.47zM42.5 546.5h2.47v1.97h-2.47zM44.7 546.5h2.47v1.97h-2.47zM66.5 546.5h2.47v1.97h-2.47zM31.7 548.2h2.47v1.97h-2.47zM33.9 548.2h2.47v1.97h-2.47zM36.0 548.2h2.47v1.97h-2.47zM38.2 548.2h2.47v1.97h-2.47zM40.4 548.2h2.47v1.97h-2.47zM44.7 548.2h2.47v1.97h-2.47zM46.9 548.2h2.47v1.97h-2.47zM64.3 548.2h2.47v1.97h-2.47zM66.5 548.2h2.47v1.97h-2.47zM29.5 549.9h2.47v1.97h-2.47zM55.6 549.9h2.47v1.97h-2.47zM57.8 549.9h2.47v1.97h-2.47zM64.3 549.9h2.47v1.97h-2.47zM68.7 549.9h2.47v1.97h-2.47zM29.5 553.2h2.47v1.97h-2.47zM31.7 553.2h2.47v1.97h-2.47zM33.9 553.2h2.47v1.97h-2.47zM36.0 553.2h2.47v1.97h-2.47zM38.2 553.2h2.47v1.97h-2.47zM68.7 553.2h2.47v1.97h-2.47zM31.7 554.9h2.47v1.97h-2.47zM38.2 554.9h2.47v1.97h-2.47zM44.7 554.9h2.47v1.97h-2.47zM62.1 554.9h2.47v1.97h-2.47zM66.5 554.9h2.47v1.97h-2.47zM70.8 554.9h2.47v1.97h-2.47zM29.5 558.2h2.47v1.97h-2.47zM31.7 558.2h2.47v1.97h-2.47zM66.5 558.2h2.47v1.97h-2.47zM68.7 558.2h2.47v1.97h-2.47zM70.8 558.2h2.47v1.97h-2.47zM31.7 559.9h2.47v1.97h-2.47zM36.0 559.9h2.47v1.97h-2.47zM38.2 559.9h2.47v1.97h-2.47zM42.5 559.9h2.47v1.97h-2.47zM62.1 559.9h2.47v1.97h-2.47zM66.5 559.9h2.47v1.97h-2.47zM70.8 559.9h2.47v1.97h-2.47zM49.1 561.6h2.47v1.97h-2.47zM55.6 564.9h2.47v1.97h-2.47zM29.5 566.6h2.47v1.97h-2.47zM36.0 566.6h2.47v1.97h-2.47zM44.7 566.6h2.47v1.97h-2.47zM46.9 566.6h2.47v1.97h-2.47zM64.3 566.6h2.47v1.97h-2.47zM66.5 566.6h2.47v1.97h-2.47zM70.8 566.6h2.47v1.97h-2.47zM33.9 568.3h2.47v1.97h-2.47zM36.0 568.3h2.47v1.97h-2.47zM38.2 568.3h2.47v1.97h-2.47zM42.5 568.3h2.47v1.97h-2.47zM46.9 568.3h2.47v1.97h-2.47zM51.2 568.3h2.47v1.97h-2.47zM55.6 568.3h2.47v1.97h-2.47zM64.3 568.3h2.47v1.97h-2.47zM68.7 568.3h2.47v1.97h-2.47zM70.8 568.3h2.47v1.97h-2.47zM29.5 570.0h2.47v1.97h-2.47zM33.9 570.0h2.47v1.97h-2.47zM38.2 570.0h2.47v1.97h-2.47zM62.1 570.0h2.47v1.97h-2.47zM64.3 570.0h2.47v1.97h-2.47zM66.5 570.0h2.47v1.97h-2.47zM68.7 570.0h2.47v1.97h-2.47zM36.0 571.6h2.47v1.97h-2.47zM42.5 571.6h2.47v1.97h-2.47zM68.7 571.6h2.47v1.97h-2.47zM70.8 571.6h2.47v1.97h-2.47zM29.5 575.0h2.47v1.97h-2.47zM40.4 575.0h2.47v1.97h-2.47zM46.9 575.0h2.47v1.97h-2.47zM49.1 575.0h2.47v1.97h-2.47zM57.8 575.0h2.47v1.97h-2.47zM64.3 575.0h2.47v1.97h-2.47zM70.8 575.0h2.47v1.97h-2.47zM29.5 578.3h2.47v1.97h-2.47zM31.7 578.3h2.47v1.97h-2.47zM36.0 578.3h2.47v1.97h-2.47zM44.7 578.3h2.47v1.97h-2.47zM51.2 578.3h2.47v1.97h-2.47zM59.9 578.3h2.47v1.97h-2.47zM66.5 578.3h2.47v1.97h-2.47zM68.7 578.3h2.47v1.97h-2.47zM70.8 578.3h2.47v1.97h-2.47zM68.7 581.7h2.47v1.97h-2.47zM36.0 583.4h2.47v1.97h-2.47zM38.2 583.4h2.47v1.97h-2.47zM57.8 583.4h2.47v1.97h-2.47zM59.9 583.4h2.47v1.97h-2.47zM70.8 583.4h2.47v1.97h-2.47zM38.2 586.7h2.47v1.97h-2.47zM44.7 586.7h2.47v1.97h-2.47zM51.2 586.7h2.47v1.97h-2.47zM70.8 586.7h2.47v1.97h-2.47zM49.1 588.4h2.47v1.97h-2.47zM66.5 588.4h2.47v1.97h-2.47zM29.5 590.1h2.47v1.97h-2.47zM46.9 590.1h2.47v1.97h-2.47zM66.5 590.1h2.47v1.97h-2.47zM31.7 593.4h2.47v1.97h-2.47zM36.0 593.4h2.47v1.97h-2.47zM42.5 593.4h2.47v1.97h-2.47zM44.7 593.4h2.47v1.97h-2.47zM55.6 593.4h2.47v1.97h-2.47zM59.9 593.4h2.47v1.97h-2.47zM68.7 593.4h2.47v1.97h-2.47zM31.7 596.8h2.47v1.97h-2.47zM36.0 596.8h2.47v1.97h-2.47zM38.2 596.8h2.47v1.97h-2.47zM40.4 596.8h2.47v1.97h-2.47zM42.5 596.8h2.47v1.97h-2.47zM44.7 596.8h2.47v1.97h-2.47zM53.4 596.8h2.47v1.97h-2.47zM57.8 596.8h2.47v1.97h-2.47zM62.1 596.8h2.47v1.97h-2.47zM64.3 596.8h2.47v1.97h-2.47zM31.7 601.8h2.47v1.97h-2.47zM36.0 601.8h2.47v1.97h-2.47zM42.5 601.8h2.47v1.97h-2.47zM53.4 601.8h2.47v1.97h-2.47zM62.1 601.8h2.47v1.97h-2.47zM70.8 601.8h2.47v1.97h-2.47zM46.9 603.5h2.47v1.97h-2.47zM42.5 606.8h2.47v1.97h-2.47zM38.2 611.8h2.47v1.97h-2.47zM44.7 611.8h2.47v1.97h-2.47zM66.5 611.8h2.47v1.97h-2.47z" fill="#ecf8b1"/>
<path d="M40.4 534.8h2.47v1.97h-2.47zM42.5 534.8h2.47v1.97h-2.47zM31.7 536.5h2.47v1.97h-2.47zM33.9 538.1h2.47v1.97h-2.47zM40.4 538.1h2.47v1.97h-2.47zM42.5 538.1h2.47v1.97h-2.47zM68.7 538.1h2.47v1.97h-2.47zM70.8 538.1h2.47v1.97h-2.47zM40.4 541.5h2.47v1.97h-2.47zM66.5 541.5h2.47v1.97h-2.47zM29.5 544.8h2.47v1.97h-2.47zM31.7 544.8h2.47v1.97h-2.47zM36.0 544.8h2.47v1.97h-2.47zM29.5 546.5h2.47v1.97h-2.47zM33.9 546.5h2.47v1.97h-2.47zM36.0 546.5h2.47v1.97h-2.47zM38.2 546.5h2.47v1.97h-2.47zM40.4 546.5h2.47v1.97h-2.47zM68.7 546.5h2.47v1.97h-2.47zM68.7 548.2h2.47v1.97h-2.47zM59.9 549.9h2.47v1.97h-2.47zM70.8 549.9h2.47v1.97h-2.47zM33.9 558.2h2.47v1.97h-2.47zM36.0 558.2h2.47v1.97h-2.47zM40.4 558.2h2.47v1.97h-2.47zM42.5 558.2h2.47v1.97h-2.47zM59.9 558.2h2.47v1.97h-2.47zM62.1 558.2h2.47v1.97h-2.47zM57.8 561.6h2.47v1.97h-2.47zM64.3 563.3h2.47v1.97h-2.47zM53.4 564.9h2.47v1.97h-2.47zM38.2 566.6h2.47v1.97h-2.47zM40.4 568.3h2.47v1.97h-2.47zM31.7 570.0h2.47v1.97h-2.47zM36.0 570.0h2.47v1.97h-2.47zM53.4 570.0h2.47v1.97h-2.47zM55.6 570.0h2.47v1.97h-2.47zM57.8 570.0h2.47v1.97h-2.47zM59.9 570.0h2.47v1.97h-2.47zM53.4 585.0h2.47v1.97h-2.47zM51.2 606.8h2.47v1.97h-2.47zM62.1 611.8h2.47v1.97h-2.47z" fill="#e2f4b2"/>
<path d="M33.9 534.8h2.47v1.97h-2.47zM64.3 538.1h2.47v1.97h-2.47zM42.5 548.2h2.47v1.97h-2.47zM62.1 549.9h2.47v1.97h-2.47zM51.2 553.2h2.47v1.97h-2.47zM33.9 554.9h2.47v1.97h-2.47zM64.3 556.6h2.47v1.97h-2.47zM66.5 556.6h2.47v1.97h-2.47zM55.6 561.6h2.47v1.97h-2.47zM66.5 563.3h2.47v1.97h-2.47zM64.3 564.9h2.47v1.97h-2.47zM66.5 564.9h2.47v1.97h-2.47zM42.5 566.6h2.47v1.97h-2.47zM70.8 570.0h2.47v1.97h-2.47zM36.0 573.3h2.47v1.97h-2.47zM33.9 578.3h2.47v1.97h-2.47zM66.5 580.0h2.47v1.97h-2.47zM40.4 581.7h2.47v1.97h-2.47zM66.5 583.4h2.47v1.97h-2.47zM51.2 590.1h2.47v1.97h-2.47zM57.8 590.1h2.47v1.97h-2.47zM38.2 593.4h2.47v1.97h-2.47zM49.1 593.4h2.47v1.97h-2.47zM51.2 593.4h2.47v1.97h-2.47zM66.5 613.5h2.47v1.97h-2.47zM51.2 626.9h2.47v1.97h-2.47z" fill="#d8f0b3"/>
<path d="M31.7 534.8h2.47v1.97h-2.47zM36.0 538.1h2.47v1.97h-2.47zM29.5 539.8h2.47v1.97h-2.47zM36.0 539.8h2.47v1.97h-2.47zM38.2 543.2h2.47v1.97h-2.47zM57.8 543.2h2.47v1.97h-2.47zM59.9 544.8h2.47v1.97h-2.47zM66.5 544.8h2.47v1.97h-2.47zM68.7 544.8h2.47v1.97h-2.47zM66.5 549.9h2.47v1.97h-2.47zM51.2 551.5h2.47v1.97h-2.47zM42.5 553.2h2.47v1.97h-2.47zM44.7 553.2h2.47v1.97h-2.47zM44.7 556.6h2.47v1.97h-2.47zM68.7 559.9h2.47v1.97h-2.47zM44.7 564.9h2.47v1.97h-2.47zM46.9 564.9h2.47v1.97h-2.47zM62.1 564.9h2.47v1.97h-2.47zM46.9 571.6h2.47v1.97h-2.47zM62.1 571.6h2.47v1.97h-2.47zM51.2 573.3h2.47v1.97h-2.47zM31.7 575.0h2.47v1.97h-2.47zM36.0 575.0h2.47v1.97h-2.47zM68.7 576.7h2.47v1.97h-2.47zM46.9 583.4h2.47v1.97h-2.47zM36.0 585.0h2.47v1.97h-2.47zM33.9 588.4h2.47v1.97h-2.47zM53.4 590.1h2.47v1.97h-2.47zM49.1 591.7h2.47v1.97h-2.47zM49.1 595.1h2.47v1.97h-2.47zM51.2 595.1h2.47v1.97h-2.47zM66.5 605.1h2.47v1.97h-2.47zM51.2 615.2h2.47v1.97h-2.47zM49.1 616.9h2.47v1.97h-2.47zM51.2 628.6h2.47v1.97h-2.47z" fill="#ceecb3"/>
<path d="M29.5 536.5h2.47v1.97h-2.47zM66.5 536.5h2.47v1.97h-2.47zM31.7 538.1h2.47v1.97h-2.47zM38.2 538.1h2.47v1.97h-2.47zM68.7 539.8h2.47v1.97h-2.47zM57.8 541.5h2.47v1.97h-2.47zM42.5 544.8h2.47v1.97h-2.47zM57.8 544.8h2.47v1.97h-2.47zM29.5 548.2h2.47v1.97h-2.47zM31.7 549.9h2.47v1.97h-2.47zM64.3 558.2h2.47v1.97h-2.47zM53.4 561.6h2.47v1.97h-2.47zM62.1 563.3h2.47v1.97h-2.47zM57.8 566.6h2.47v1.97h-2.47zM59.9 566.6h2.47v1.97h-2.47zM31.7 568.3h2.47v1.97h-2.47zM57.8 568.3h2.47v1.97h-2.47zM33.9 575.0h2.47v1.97h-2.47zM68.7 605.1h2.47v1.97h-2.47z" fill="#c2e7b4"/>
<path d="M57.8 539.8h2.47v1.97h-2.47zM49.1 543.2h2.47v1.97h-2.47zM44.7 544.8h2.47v1.97h-2.47zM53.4 553.2h2.47v1.97h-2.47zM46.9 554.9h2.47v1.97h-2.47zM40.4 566.6h2.47v1.97h-2.47zM42.5 573.3h2.47v1.97h-2.47zM62.1 575.0h2.47v1.97h-2.47zM68.7 580.0h2.47v1.97h-2.47zM64.3 585.0h2.47v1.97h-2.47zM68.7 590.1h2.47v1.97h-2.47zM53.4 603.5h2.47v1.97h-2.47zM51.2 616.9h2.47v1.97h-2.47z" fill="#b0e0b6"/>
<path d="M33.9 536.5h2.47v1.97h-2.47zM55.6 538.1h2.47v1.97h-2.47zM44.7 539.8h2.47v1.97h-2.47zM46.9 544.8h2.47v1.97h-2.47zM53.4 544.8h2.47v1.97h-2.47zM62.1 544.8h2.47v1.97h-2.47zM64.3 544.8h2.47v1.97h-2.47zM44.7 549.9h2.47v1.97h-2.47zM53.4 549.9h2.47v1.97h-2.47zM49.1 554.9h2.47v1.97h-2.47zM33.9 561.6h2.47v1.97h-2.47zM38.2 563.3h2.47v1.97h-2.47zM49.1 571.6h2.47v1.97h-2.47zM57.8 571.6h2.47v1.97h-2.47zM49.1 580.0h2.47v1.97h-2.47zM29.5 586.7h2.47v1.97h-2.47zM49.1 586.7h2.47v1.97h-2.47zM49.1 615.2h2.47v1.97h-2.47z" fill="#9dd9b8"/>
<path d="M31.7 539.8h2.47v1.97h-2.47zM40.4 543.2h2.47v1.97h-2.47zM53.4 543.2h2.47v1.97h-2.47zM51.2 544.8h2.47v1.97h-2.47zM55.6 544.8h2.47v1.97h-2.47zM70.8 544.8h2.47v1.97h-2.47zM46.9 546.5h2.47v1.97h-2.47zM55.6 551.5h2.47v1.97h-2.47zM64.3 551.5h2.47v1.97h-2.47zM66.5 553.2h2.47v1.97h-2.47zM46.9 558.2h2.47v1.97h-2.47zM55.6 558.2h2.47v1.97h-2.47zM57.8 558.2h2.47v1.97h-2.47zM29.5 563.3h2.47v1.97h-2.47zM31.7 564.9h2.47v1.97h-2.47zM36.0 564.9h2.47v1.97h-2.47zM40.4 570.0h2.47v1.97h-2.47zM51.2 580.0h2.47v1.97h-2.47zM62.1 588.4h2.47v1.97h-2.47zM49.1 590.1h2.47v1.97h-2.47zM51.2 591.7h2.47v1.97h-2.47zM55.6 620.2h2.47v1.97h-2.47zM49.1 621.9h2.47v1.97h-2.47z" fill="#8bd2ba"/>
<path d="M66.5 538.1h2.47v1.97h-2.47zM59.9 543.2h2.47v1.97h-2.47zM49.1 544.8h2.47v1.97h-2.47zM70.8 546.5h2.47v1.97h-2.47zM59.9 548.2h2.47v1.97h-2.47zM36.0 549.9h2.47v1.97h-2.47zM38.2 549.9h2.47v1.97h-2.47zM64.3 553.2h2.47v1.97h-2.47zM44.7 558.2h2.47v1.97h-2.47zM46.9 559.9h2.47v1.97h-2.47zM49.1 559.9h2.47v1.97h-2.47zM38.2 564.9h2.47v1.97h-2.47zM53.4 566.6h2.47v1.97h-2.47zM51.2 570.0h2.47v1.97h-2.47zM59.9 575.0h2.47v1.97h-2.47zM40.4 578.3h2.47v1.97h-2.47zM70.8 580.0h2.47v1.97h-2.47zM62.1 585.0h2.47v1.97h-2.47zM31.7 586.7h2.47v1.97h-2.47zM51.2 611.8h2.47v1.97h-2.47z" fill="#79cbbc"/>
<path d="M59.9 538.1h2.47v1.97h-2.47zM55.6 539.8h2.47v1.97h-2.47zM44.7 541.5h2.47v1.97h-2.47zM55.6 548.2h2.47v1.97h-2.47zM33.9 549.9h2.47v1.97h-2.47zM42.5 549.9h2.47v1.97h-2.47zM49.1 549.9h2.47v1.97h-2.47zM49.1 556.6h2.47v1.97h-2.47zM49.1 558.2h2.47v1.97h-2.47zM36.0 563.3h2.47v1.97h-2.47zM55.6 580.0h2.47v1.97h-2.47zM33.9 586.7h2.47v1.97h-2.47z" fill="#69c5be"/>
<path d="M46.9 534.8h2.47v1.97h-2.47zM64.3 534.8h2.47v1.97h-2.47zM44.7 538.1h2.47v1.97h-2.47zM62.1 538.1h2.47v1.97h-2.47zM62.1 539.8h2.47v1.97h-2.47zM55.6 541.5h2.47v1.97h-2.47zM51.2 543.2h2.47v1.97h-2.47zM64.3 543.2h2.47v1.97h-2.47zM59.9 546.5h2.47v1.97h-2.47zM49.1 548.2h2.47v1.97h-2.47zM40.4 549.9h2.47v1.97h-2.47zM46.9 549.9h2.47v1.97h-2.47zM55.6 559.9h2.47v1.97h-2.47zM51.2 571.6h2.47v1.97h-2.47z" fill="#59bfc1"/>
<path d="M68.7 534.8h2.47v1.97h-2.47zM44.7 536.5h2.47v1.97h-2.47zM64.3 536.5h2.47v1.97h-2.47zM57.8 538.1h2.47v1.97h-2.47zM53.4 539.8h2.47v1.97h-2.47zM51.2 541.5h2.47v1.97h-2.47zM59.9 551.5h2.47v1.97h-2.47zM55.6 554.9h2.47v1.97h-2.47zM49.1 566.6h2.47v1.97h-2.47zM53.4 580.0h2.47v1.97h-2.47z" fill="#49b9c3"/>
<path d="M57.8 534.8h2.47v1.97h-2.47zM70.8 534.8h2.47v1.97h-2.47zM59.9 539.8h2.47v1.97h-2.47zM62.1 541.5h2.47v1.97h-2.47zM46.9 543.2h2.47v1.97h-2.47zM55.6 543.2h2.47v1.97h-2.47zM55.6 553.2h2.47v1.97h-2.47zM46.9 556.6h2.47v1.97h-2.47zM31.7 563.3h2.47v1.97h-2.47zM46.9 570.0h2.47v1.97h-2.47zM53.4 571.6h2.47v1.97h-2.47zM55.6 585.0h2.47v1.97h-2.47zM36.0 586.7h2.47v1.97h-2.47zM49.1 596.8h2.47v1.97h-2.47z" fill="#3cb1c3"/>
<path d="M59.9 536.5h2.47v1.97h-2.47zM49.1 541.5h2.47v1.97h-2.47zM51.2 566.6h2.47v1.97h-2.47zM55.6 566.6h2.47v1.97h-2.47zM53.4 611.8h2.47v1.97h-2.47z" fill="#33a8c2"/>
<path d="M53.4 556.6h2.47v1.97h-2.47zM29.5 564.9h2.47v1.97h-2.47zM49.1 601.8h2.47v1.97h-2.47z" fill="#2a9ec1"/>
<path d="M46.9 539.8h2.47v1.97h-2.47z" fill="#1e89bc"/>
<path d="M57.8 536.5h2.47v1.97h-2.47zM46.9 538.1h2.47v1.97h-2.47zM51.2 539.8h2.47v1.97h-2.47zM51.2 549.9h2.47v1.97h-2.47z" fill="#1f7cb6"/>
<path d="M51.2 534.8h2.47v1.97h-2.47zM59.9 534.8h2.47v1.97h-2.47zM59.9 541.5h2.47v1.97h-2.47zM62.1 551.5h2.47v1.97h-2.47zM51.2 556.6h2.47v1.97h-2.47z" fill="#24409a"/>
<path d="M53.4 534.8h2.47v1.97h-2.47zM55.6 546.5h2.47v1.97h-2.47zM53.4 548.2h2.47v1.97h-2.47zM53.4 558.2h2.47v1.97h-2.47zM42.5 570.0h2.47v1.97h-2.47z" fill="#253595"/>
<path d="M51.2 536.5h2.47v1.97h-2.47zM46.9 541.5h2.47v1.97h-2.47zM57.8 548.2h2.47v1.97h-2.47zM51.2 559.9h2.47v1.97h-2.47zM49.1 570.0h2.47v1.97h-2.47z" fill="#1e2f86"/>
<path d="M66.5 534.8h2.47v1.97h-2.47zM55.6 536.5h2.47v1.97h-2.47zM62.1 536.5h2.47v1.97h-2.47zM49.1 538.1h2.47v1.97h-2.47zM51.2 548.2h2.47v1.97h-2.47z" fill="#172977"/>
<path d="M55.6 534.8h2.47v1.97h-2.47zM62.1 543.2h2.47v1.97h-2.47zM49.1 546.5h2.47v1.97h-2.47zM51.2 546.5h2.47v1.97h-2.47zM53.4 546.5h2.47v1.97h-2.47zM51.2 554.9h2.47v1.97h-2.47zM53.4 554.9h2.47v1.97h-2.47z" fill="#0f2367"/>
<path d="M49.1 534.8h2.47v1.97h-2.47zM62.1 534.8h2.47v1.97h-2.47zM46.9 536.5h2.47v1.97h-2.47zM49.1 536.5h2.47v1.97h-2.47zM53.4 536.5h2.47v1.97h-2.47zM51.2 538.1h2.47v1.97h-2.47zM53.4 538.1h2.47v1.97h-2.47zM49.1 539.8h2.47v1.97h-2.47zM53.4 541.5h2.47v1.97h-2.47zM57.8 546.5h2.47v1.97h-2.47zM57.8 551.5h2.47v1.97h-2.47zM57.8 553.2h2.47v1.97h-2.47zM59.9 553.2h2.47v1.97h-2.47zM62.1 553.2h2.47v1.97h-2.47zM51.2 558.2h2.47v1.97h-2.47zM53.4 559.9h2.47v1.97h-2.47zM44.7 570.0h2.47v1.97h-2.47zM57.8 585.0h2.47v1.97h-2.47zM59.9 585.0h2.47v1.97h-2.47z" fill="#081d58"/>
</g>
<path d="M26.50 531.80h49.50v104.80h-49.50zM29.50 534.80h43.50v98.80h-43.50z" fill="#fff" fill-rule="evenodd"/>
<rect x="29.50" y="534.80" width="43.50" height="98.80" fill="none" stroke="#111" stroke-width=".9"/>
<line x1="29.50" y1="633.60" x2="29.50" y2="636.20" stroke="#111" stroke-width="0.9" />
<line x1="51.25" y1="633.60" x2="51.25" y2="636.20" stroke="#111" stroke-width="0.9" />
<line x1="73.00" y1="633.60" x2="73.00" y2="636.20" stroke="#111" stroke-width="0.9" />
<text transform="translate(32.10 641.20) rotate(-45)" font-size="6.3" text-anchor="end">-6.0</text>
<text transform="translate(53.85 641.20) rotate(-45)" font-size="6.3" text-anchor="end">Center</text>
<text transform="translate(75.60 641.20) rotate(-45)" font-size="6.3" text-anchor="end">6.0Kb</text>
<text transform="translate(51.25 664.60)" font-size="6.4" text-anchor="middle">Distance from</text>
<text transform="translate(51.25 672.80)" font-size="6.4" text-anchor="middle">TSS</text>
<g filter="url(#hb)" shape-rendering="crispEdges">
<rect x="80.80" y="532.80" width="48.00" height="102.80" fill="#f1faba" />
<path d="M82.8 538.1h2.50v1.97h-2.50zM89.4 538.1h2.50v1.97h-2.50zM91.6 544.8h2.50v1.97h-2.50zM82.8 548.2h2.50v1.97h-2.50zM87.2 551.5h2.50v1.97h-2.50zM91.6 551.5h2.50v1.97h-2.50zM93.8 551.5h2.50v1.97h-2.50zM82.8 558.2h2.50v1.97h-2.50zM100.4 561.6h2.50v1.97h-2.50zM104.8 561.6h2.50v1.97h-2.50zM111.4 561.6h2.50v1.97h-2.50zM104.8 564.9h2.50v1.97h-2.50zM91.6 568.3h2.50v1.97h-2.50zM93.8 568.3h2.50v1.97h-2.50zM113.6 568.3h2.50v1.97h-2.50zM115.8 568.3h2.50v1.97h-2.50zM122.4 568.3h2.50v1.97h-2.50zM82.8 571.6h2.50v1.97h-2.50zM85.0 571.6h2.50v1.97h-2.50zM87.2 571.6h2.50v1.97h-2.50zM93.8 571.6h2.50v1.97h-2.50zM120.2 571.6h2.50v1.97h-2.50zM122.4 571.6h2.50v1.97h-2.50zM124.6 571.6h2.50v1.97h-2.50zM82.8 573.3h2.50v1.97h-2.50zM87.2 573.3h2.50v1.97h-2.50zM93.8 573.3h2.50v1.97h-2.50zM96.0 573.3h2.50v1.97h-2.50zM107.0 573.3h2.50v1.97h-2.50zM113.6 573.3h2.50v1.97h-2.50zM120.2 573.3h2.50v1.97h-2.50zM124.6 573.3h2.50v1.97h-2.50zM82.8 576.7h2.50v1.97h-2.50zM85.0 576.7h2.50v1.97h-2.50zM89.4 576.7h2.50v1.97h-2.50zM93.8 576.7h2.50v1.97h-2.50zM118.0 576.7h2.50v1.97h-2.50zM122.4 576.7h2.50v1.97h-2.50zM93.8 580.0h2.50v1.97h-2.50zM96.0 580.0h2.50v1.97h-2.50zM115.8 580.0h2.50v1.97h-2.50zM122.4 580.0h2.50v1.97h-2.50zM122.4 581.7h2.50v1.97h-2.50zM93.8 583.4h2.50v1.97h-2.50zM96.0 583.4h2.50v1.97h-2.50zM87.2 585.0h2.50v1.97h-2.50zM89.4 585.0h2.50v1.97h-2.50zM91.6 585.0h2.50v1.97h-2.50zM96.0 585.0h2.50v1.97h-2.50zM107.0 586.7h2.50v1.97h-2.50zM109.2 586.7h2.50v1.97h-2.50zM111.4 586.7h2.50v1.97h-2.50zM113.6 586.7h2.50v1.97h-2.50zM115.8 586.7h2.50v1.97h-2.50zM122.4 586.7h2.50v1.97h-2.50zM124.6 586.7h2.50v1.97h-2.50zM87.2 588.4h2.50v1.97h-2.50zM93.8 588.4h2.50v1.97h-2.50zM98.2 588.4h2.50v1.97h-2.50zM107.0 588.4h2.50v1.97h-2.50zM113.6 588.4h2.50v1.97h-2.50zM120.2 588.4h2.50v1.97h-2.50zM122.4 588.4h2.50v1.97h-2.50zM85.0 591.7h2.50v1.97h-2.50zM87.2 591.7h2.50v1.97h-2.50zM89.4 591.7h2.50v1.97h-2.50zM91.6 591.7h2.50v1.97h-2.50zM93.8 591.7h2.50v1.97h-2.50zM109.2 591.7h2.50v1.97h-2.50zM111.4 591.7h2.50v1.97h-2.50zM113.6 591.7h2.50v1.97h-2.50zM120.2 591.7h2.50v1.97h-2.50zM124.6 591.7h2.50v1.97h-2.50zM82.8 593.4h2.50v1.97h-2.50zM85.0 593.4h2.50v1.97h-2.50zM87.2 593.4h2.50v1.97h-2.50zM91.6 593.4h2.50v1.97h-2.50zM96.0 593.4h2.50v1.97h-2.50zM98.2 593.4h2.50v1.97h-2.50zM107.0 593.4h2.50v1.97h-2.50zM109.2 593.4h2.50v1.97h-2.50zM111.4 593.4h2.50v1.97h-2.50zM113.6 593.4h2.50v1.97h-2.50zM120.2 593.4h2.50v1.97h-2.50zM89.4 595.1h2.50v1.97h-2.50zM93.8 595.1h2.50v1.97h-2.50zM102.6 595.1h2.50v1.97h-2.50zM111.4 595.1h2.50v1.97h-2.50zM113.6 595.1h2.50v1.97h-2.50zM115.8 595.1h2.50v1.97h-2.50zM118.0 595.1h2.50v1.97h-2.50zM120.2 595.1h2.50v1.97h-2.50zM124.6 595.1h2.50v1.97h-2.50zM82.8 596.8h2.50v1.97h-2.50zM89.4 596.8h2.50v1.97h-2.50zM93.8 596.8h2.50v1.97h-2.50zM100.4 596.8h2.50v1.97h-2.50zM109.2 596.8h2.50v1.97h-2.50zM113.6 596.8h2.50v1.97h-2.50zM115.8 596.8h2.50v1.97h-2.50zM118.0 596.8h2.50v1.97h-2.50zM120.2 596.8h2.50v1.97h-2.50zM85.0 598.4h2.50v1.97h-2.50zM89.4 598.4h2.50v1.97h-2.50zM91.6 598.4h2.50v1.97h-2.50zM93.8 598.4h2.50v1.97h-2.50zM96.0 598.4h2.50v1.97h-2.50zM98.2 598.4h2.50v1.97h-2.50zM100.4 598.4h2.50v1.97h-2.50zM102.6 598.4h2.50v1.97h-2.50zM109.2 598.4h2.50v1.97h-2.50zM111.4 598.4h2.50v1.97h-2.50zM113.6 598.4h2.50v1.97h-2.50zM115.8 598.4h2.50v1.97h-2.50zM118.0 598.4h2.50v1.97h-2.50zM120.2 598.4h2.50v1.97h-2.50zM122.4 598.4h2.50v1.97h-2.50zM85.0 600.1h2.50v1.97h-2.50zM87.2 600.1h2.50v1.97h-2.50zM96.0 601.8h2.50v1.97h-2.50zM120.2 601.8h2.50v1.97h-2.50zM82.8 603.5h2.50v1.97h-2.50zM85.0 603.5h2.50v1.97h-2.50zM87.2 603.5h2.50v1.97h-2.50zM89.4 603.5h2.50v1.97h-2.50zM91.6 603.5h2.50v1.97h-2.50zM96.0 603.5h2.50v1.97h-2.50zM98.2 603.5h2.50v1.97h-2.50zM107.0 603.5h2.50v1.97h-2.50zM109.2 603.5h2.50v1.97h-2.50zM111.4 603.5h2.50v1.97h-2.50zM113.6 603.5h2.50v1.97h-2.50zM118.0 603.5h2.50v1.97h-2.50zM120.2 603.5h2.50v1.97h-2.50zM122.4 603.5h2.50v1.97h-2.50zM124.6 603.5h2.50v1.97h-2.50zM82.8 606.8h2.50v1.97h-2.50zM89.4 606.8h2.50v1.97h-2.50zM93.8 606.8h2.50v1.97h-2.50zM100.4 606.8h2.50v1.97h-2.50zM104.8 606.8h2.50v1.97h-2.50zM111.4 606.8h2.50v1.97h-2.50zM118.0 606.8h2.50v1.97h-2.50zM120.2 606.8h2.50v1.97h-2.50zM124.6 606.8h2.50v1.97h-2.50zM85.0 608.5h2.50v1.97h-2.50zM115.8 608.5h2.50v1.97h-2.50zM82.8 610.2h2.50v1.97h-2.50zM87.2 610.2h2.50v1.97h-2.50zM89.4 610.2h2.50v1.97h-2.50zM91.6 610.2h2.50v1.97h-2.50zM93.8 610.2h2.50v1.97h-2.50zM100.4 610.2h2.50v1.97h-2.50zM109.2 610.2h2.50v1.97h-2.50zM118.0 610.2h2.50v1.97h-2.50zM120.2 610.2h2.50v1.97h-2.50zM122.4 610.2h2.50v1.97h-2.50zM85.0 611.8h2.50v1.97h-2.50zM87.2 611.8h2.50v1.97h-2.50zM93.8 611.8h2.50v1.97h-2.50zM98.2 611.8h2.50v1.97h-2.50zM102.6 611.8h2.50v1.97h-2.50zM109.2 611.8h2.50v1.97h-2.50zM111.4 611.8h2.50v1.97h-2.50zM113.6 611.8h2.50v1.97h-2.50zM115.8 611.8h2.50v1.97h-2.50zM118.0 611.8h2.50v1.97h-2.50zM124.6 611.8h2.50v1.97h-2.50zM96.0 613.5h2.50v1.97h-2.50zM111.4 613.5h2.50v1.97h-2.50zM113.6 613.5h2.50v1.97h-2.50zM115.8 613.5h2.50v1.97h-2.50zM122.4 613.5h2.50v1.97h-2.50zM82.8 615.2h2.50v1.97h-2.50zM91.6 615.2h2.50v1.97h-2.50zM93.8 615.2h2.50v1.97h-2.50zM96.0 615.2h2.50v1.97h-2.50zM107.0 615.2h2.50v1.97h-2.50zM113.6 615.2h2.50v1.97h-2.50zM115.8 615.2h2.50v1.97h-2.50zM118.0 615.2h2.50v1.97h-2.50zM120.2 615.2h2.50v1.97h-2.50zM122.4 615.2h2.50v1.97h-2.50zM124.6 615.2h2.50v1.97h-2.50zM82.8 616.9h2.50v1.97h-2.50zM87.2 616.9h2.50v1.97h-2.50zM93.8 616.9h2.50v1.97h-2.50zM96.0 616.9h2.50v1.97h-2.50zM100.4 616.9h2.50v1.97h-2.50zM102.6 616.9h2.50v1.97h-2.50zM113.6 616.9h2.50v1.97h-2.50zM118.0 616.9h2.50v1.97h-2.50zM120.2 616.9h2.50v1.97h-2.50zM122.4 616.9h2.50v1.97h-2.50zM124.6 616.9h2.50v1.97h-2.50zM82.8 618.5h2.50v1.97h-2.50zM85.0 618.5h2.50v1.97h-2.50zM87.2 618.5h2.50v1.97h-2.50zM93.8 618.5h2.50v1.97h-2.50zM96.0 618.5h2.50v1.97h-2.50zM109.2 618.5h2.50v1.97h-2.50zM113.6 618.5h2.50v1.97h-2.50zM118.0 618.5h2.50v1.97h-2.50zM120.2 618.5h2.50v1.97h-2.50zM122.4 618.5h2.50v1.97h-2.50zM124.6 618.5h2.50v1.97h-2.50zM82.8 620.2h2.50v1.97h-2.50zM100.4 620.2h2.50v1.97h-2.50zM102.6 620.2h2.50v1.97h-2.50zM109.2 620.2h2.50v1.97h-2.50zM111.4 620.2h2.50v1.97h-2.50zM115.8 620.2h2.50v1.97h-2.50zM122.4 620.2h2.50v1.97h-2.50zM124.6 620.2h2.50v1.97h-2.50zM82.8 621.9h2.50v1.97h-2.50zM87.2 621.9h2.50v1.97h-2.50zM96.0 621.9h2.50v1.97h-2.50zM98.2 621.9h2.50v1.97h-2.50zM104.8 621.9h2.50v1.97h-2.50zM107.0 621.9h2.50v1.97h-2.50zM113.6 621.9h2.50v1.97h-2.50zM122.4 621.9h2.50v1.97h-2.50zM124.6 621.9h2.50v1.97h-2.50zM82.8 623.6h2.50v1.97h-2.50zM87.2 623.6h2.50v1.97h-2.50zM89.4 623.6h2.50v1.97h-2.50zM91.6 623.6h2.50v1.97h-2.50zM93.8 623.6h2.50v1.97h-2.50zM96.0 623.6h2.50v1.97h-2.50zM98.2 623.6h2.50v1.97h-2.50zM104.8 623.6h2.50v1.97h-2.50zM107.0 623.6h2.50v1.97h-2.50zM118.0 623.6h2.50v1.97h-2.50zM120.2 623.6h2.50v1.97h-2.50zM124.6 623.6h2.50v1.97h-2.50zM89.4 625.2h2.50v1.97h-2.50zM91.6 625.2h2.50v1.97h-2.50zM93.8 625.2h2.50v1.97h-2.50zM96.0 625.2h2.50v1.97h-2.50zM98.2 625.2h2.50v1.97h-2.50zM107.0 625.2h2.50v1.97h-2.50zM111.4 625.2h2.50v1.97h-2.50zM120.2 625.2h2.50v1.97h-2.50zM122.4 625.2h2.50v1.97h-2.50zM124.6 625.2h2.50v1.97h-2.50zM85.0 626.9h2.50v1.97h-2.50zM87.2 626.9h2.50v1.97h-2.50zM93.8 626.9h2.50v1.97h-2.50zM118.0 626.9h2.50v1.97h-2.50zM122.4 626.9h2.50v1.97h-2.50zM82.8 628.6h2.50v1.97h-2.50zM87.2 628.6h2.50v1.97h-2.50zM96.0 628.6h2.50v1.97h-2.50zM98.2 628.6h2.50v1.97h-2.50zM109.2 628.6h2.50v1.97h-2.50zM111.4 628.6h2.50v1.97h-2.50zM113.6 628.6h2.50v1.97h-2.50zM115.8 628.6h2.50v1.97h-2.50zM118.0 628.6h2.50v1.97h-2.50zM120.2 628.6h2.50v1.97h-2.50zM122.4 628.6h2.50v1.97h-2.50zM82.8 630.3h2.50v1.97h-2.50zM85.0 630.3h2.50v1.97h-2.50zM87.2 630.3h2.50v1.97h-2.50zM89.4 630.3h2.50v1.97h-2.50zM91.6 630.3h2.50v1.97h-2.50zM96.0 630.3h2.50v1.97h-2.50zM100.4 630.3h2.50v1.97h-2.50zM104.8 630.3h2.50v1.97h-2.50zM107.0 630.3h2.50v1.97h-2.50zM115.8 630.3h2.50v1.97h-2.50zM118.0 630.3h2.50v1.97h-2.50zM120.2 630.3h2.50v1.97h-2.50zM122.4 630.3h2.50v1.97h-2.50zM82.8 631.9h2.50v1.97h-2.50zM85.0 631.9h2.50v1.97h-2.50zM91.6 631.9h2.50v1.97h-2.50zM102.6 631.9h2.50v1.97h-2.50zM107.0 631.9h2.50v1.97h-2.50zM109.2 631.9h2.50v1.97h-2.50zM113.6 631.9h2.50v1.97h-2.50zM118.0 631.9h2.50v1.97h-2.50zM120.2 631.9h2.50v1.97h-2.50zM122.4 631.9h2.50v1.97h-2.50zM124.6 631.9h2.50v1.97h-2.50z" fill="#f6fbc4"/>
<path d="M89.4 534.8h2.50v1.97h-2.50zM85.0 536.5h2.50v1.97h-2.50zM91.6 536.5h2.50v1.97h-2.50zM100.4 536.5h2.50v1.97h-2.50zM85.0 539.8h2.50v1.97h-2.50zM87.2 539.8h2.50v1.97h-2.50zM89.4 541.5h2.50v1.97h-2.50zM85.0 543.2h2.50v1.97h-2.50zM89.4 543.2h2.50v1.97h-2.50zM96.0 543.2h2.50v1.97h-2.50zM98.2 543.2h2.50v1.97h-2.50zM100.4 543.2h2.50v1.97h-2.50zM98.2 544.8h2.50v1.97h-2.50zM91.6 546.5h2.50v1.97h-2.50zM122.4 549.9h2.50v1.97h-2.50zM82.8 553.2h2.50v1.97h-2.50zM89.4 553.2h2.50v1.97h-2.50zM85.0 554.9h2.50v1.97h-2.50zM87.2 554.9h2.50v1.97h-2.50zM89.4 554.9h2.50v1.97h-2.50zM85.0 559.9h2.50v1.97h-2.50zM87.2 559.9h2.50v1.97h-2.50zM113.6 559.9h2.50v1.97h-2.50zM115.8 559.9h2.50v1.97h-2.50zM118.0 559.9h2.50v1.97h-2.50zM122.4 559.9h2.50v1.97h-2.50zM124.6 559.9h2.50v1.97h-2.50zM122.4 564.9h2.50v1.97h-2.50zM91.6 566.6h2.50v1.97h-2.50zM113.6 566.6h2.50v1.97h-2.50zM118.0 566.6h2.50v1.97h-2.50zM120.2 566.6h2.50v1.97h-2.50zM122.4 566.6h2.50v1.97h-2.50zM124.6 566.6h2.50v1.97h-2.50zM85.0 570.0h2.50v1.97h-2.50zM91.6 570.0h2.50v1.97h-2.50zM96.0 570.0h2.50v1.97h-2.50zM104.8 570.0h2.50v1.97h-2.50zM113.6 570.0h2.50v1.97h-2.50zM122.4 570.0h2.50v1.97h-2.50zM124.6 570.0h2.50v1.97h-2.50zM85.0 575.0h2.50v1.97h-2.50zM93.8 575.0h2.50v1.97h-2.50zM96.0 575.0h2.50v1.97h-2.50zM98.2 575.0h2.50v1.97h-2.50zM100.4 575.0h2.50v1.97h-2.50zM102.6 575.0h2.50v1.97h-2.50zM82.8 578.3h2.50v1.97h-2.50zM87.2 578.3h2.50v1.97h-2.50zM89.4 578.3h2.50v1.97h-2.50zM91.6 578.3h2.50v1.97h-2.50zM93.8 578.3h2.50v1.97h-2.50zM96.0 578.3h2.50v1.97h-2.50zM98.2 578.3h2.50v1.97h-2.50zM100.4 578.3h2.50v1.97h-2.50zM102.6 578.3h2.50v1.97h-2.50zM115.8 578.3h2.50v1.97h-2.50zM118.0 578.3h2.50v1.97h-2.50zM122.4 578.3h2.50v1.97h-2.50zM124.6 578.3h2.50v1.97h-2.50zM113.6 581.7h2.50v1.97h-2.50zM85.0 590.1h2.50v1.97h-2.50zM93.8 590.1h2.50v1.97h-2.50zM107.0 590.1h2.50v1.97h-2.50zM115.8 590.1h2.50v1.97h-2.50zM100.4 591.7h2.50v1.97h-2.50zM107.0 598.4h2.50v1.97h-2.50zM82.8 600.1h2.50v1.97h-2.50zM93.8 600.1h2.50v1.97h-2.50zM98.2 600.1h2.50v1.97h-2.50zM100.4 600.1h2.50v1.97h-2.50zM104.8 600.1h2.50v1.97h-2.50zM82.8 605.1h2.50v1.97h-2.50zM93.8 605.1h2.50v1.97h-2.50zM102.6 605.1h2.50v1.97h-2.50zM109.2 605.1h2.50v1.97h-2.50zM87.2 608.5h2.50v1.97h-2.50zM122.4 608.5h2.50v1.97h-2.50z" fill="#ecf8b1"/>
<path d="M91.6 534.8h2.50v1.97h-2.50zM100.4 534.8h2.50v1.97h-2.50zM82.8 536.5h2.50v1.97h-2.50zM96.0 536.5h2.50v1.97h-2.50zM102.6 536.5h2.50v1.97h-2.50zM91.6 538.1h2.50v1.97h-2.50zM82.8 539.8h2.50v1.97h-2.50zM89.4 539.8h2.50v1.97h-2.50zM98.2 541.5h2.50v1.97h-2.50zM82.8 546.5h2.50v1.97h-2.50zM85.0 546.5h2.50v1.97h-2.50zM96.0 546.5h2.50v1.97h-2.50zM102.6 546.5h2.50v1.97h-2.50zM96.0 551.5h2.50v1.97h-2.50zM91.6 553.2h2.50v1.97h-2.50zM118.0 554.9h2.50v1.97h-2.50zM82.8 556.6h2.50v1.97h-2.50zM85.0 556.6h2.50v1.97h-2.50zM91.6 556.6h2.50v1.97h-2.50zM93.8 556.6h2.50v1.97h-2.50zM96.0 556.6h2.50v1.97h-2.50zM122.4 556.6h2.50v1.97h-2.50zM124.6 556.6h2.50v1.97h-2.50zM115.8 558.2h2.50v1.97h-2.50zM93.8 559.9h2.50v1.97h-2.50zM96.0 559.9h2.50v1.97h-2.50zM98.2 559.9h2.50v1.97h-2.50zM107.0 561.6h2.50v1.97h-2.50zM82.8 566.6h2.50v1.97h-2.50zM87.2 566.6h2.50v1.97h-2.50zM89.4 566.6h2.50v1.97h-2.50zM115.8 566.6h2.50v1.97h-2.50zM124.6 568.3h2.50v1.97h-2.50zM89.4 570.0h2.50v1.97h-2.50zM100.4 576.7h2.50v1.97h-2.50zM120.2 578.3h2.50v1.97h-2.50zM102.6 580.0h2.50v1.97h-2.50zM85.0 583.4h2.50v1.97h-2.50zM104.8 583.4h2.50v1.97h-2.50zM93.8 585.0h2.50v1.97h-2.50zM100.4 585.0h2.50v1.97h-2.50zM122.4 591.7h2.50v1.97h-2.50zM118.0 593.4h2.50v1.97h-2.50zM120.2 605.1h2.50v1.97h-2.50zM89.4 611.8h2.50v1.97h-2.50zM100.4 611.8h2.50v1.97h-2.50zM109.2 621.9h2.50v1.97h-2.50zM107.0 626.9h2.50v1.97h-2.50zM102.6 628.6h2.50v1.97h-2.50z" fill="#e2f4b2"/>
<path d="M93.8 536.5h2.50v1.97h-2.50zM91.6 539.8h2.50v1.97h-2.50zM98.2 546.5h2.50v1.97h-2.50zM100.4 546.5h2.50v1.97h-2.50zM124.6 549.9h2.50v1.97h-2.50zM89.4 551.5h2.50v1.97h-2.50zM93.8 553.2h2.50v1.97h-2.50zM91.6 554.9h2.50v1.97h-2.50zM96.0 554.9h2.50v1.97h-2.50zM89.4 556.6h2.50v1.97h-2.50zM113.6 556.6h2.50v1.97h-2.50zM120.2 556.6h2.50v1.97h-2.50zM100.4 564.9h2.50v1.97h-2.50zM111.4 566.6h2.50v1.97h-2.50zM104.8 573.3h2.50v1.97h-2.50zM118.0 573.3h2.50v1.97h-2.50zM98.2 580.0h2.50v1.97h-2.50zM115.8 581.7h2.50v1.97h-2.50zM104.8 586.7h2.50v1.97h-2.50zM115.8 591.7h2.50v1.97h-2.50zM109.2 595.1h2.50v1.97h-2.50zM98.2 596.8h2.50v1.97h-2.50zM102.6 600.1h2.50v1.97h-2.50zM118.0 605.1h2.50v1.97h-2.50zM122.4 605.1h2.50v1.97h-2.50zM109.2 623.6h2.50v1.97h-2.50zM107.0 628.6h2.50v1.97h-2.50z" fill="#d8f0b3"/>
<path d="M85.0 541.5h2.50v1.97h-2.50zM93.8 541.5h2.50v1.97h-2.50zM87.2 543.2h2.50v1.97h-2.50zM82.8 544.8h2.50v1.97h-2.50zM109.2 549.9h2.50v1.97h-2.50zM98.2 551.5h2.50v1.97h-2.50zM98.2 553.2h2.50v1.97h-2.50zM87.2 556.6h2.50v1.97h-2.50zM115.8 556.6h2.50v1.97h-2.50zM122.4 558.2h2.50v1.97h-2.50zM89.4 559.9h2.50v1.97h-2.50zM91.6 559.9h2.50v1.97h-2.50zM87.2 563.3h2.50v1.97h-2.50zM85.0 566.6h2.50v1.97h-2.50zM93.8 566.6h2.50v1.97h-2.50zM82.8 570.0h2.50v1.97h-2.50zM98.2 570.0h2.50v1.97h-2.50zM91.6 571.6h2.50v1.97h-2.50zM98.2 571.6h2.50v1.97h-2.50zM115.8 571.6h2.50v1.97h-2.50zM122.4 573.3h2.50v1.97h-2.50zM120.2 583.4h2.50v1.97h-2.50zM104.8 585.0h2.50v1.97h-2.50zM100.4 588.4h2.50v1.97h-2.50zM111.4 590.1h2.50v1.97h-2.50zM104.8 618.5h2.50v1.97h-2.50zM102.6 626.9h2.50v1.97h-2.50z" fill="#ceecb3"/>
<path d="M85.0 534.8h2.50v1.97h-2.50zM93.8 534.8h2.50v1.97h-2.50zM96.0 534.8h2.50v1.97h-2.50zM98.2 536.5h2.50v1.97h-2.50zM96.0 538.1h2.50v1.97h-2.50zM100.4 544.8h2.50v1.97h-2.50zM118.0 544.8h2.50v1.97h-2.50zM89.4 546.5h2.50v1.97h-2.50zM124.6 546.5h2.50v1.97h-2.50zM107.0 548.2h2.50v1.97h-2.50zM118.0 548.2h2.50v1.97h-2.50zM82.8 549.9h2.50v1.97h-2.50zM100.4 551.5h2.50v1.97h-2.50zM118.0 551.5h2.50v1.97h-2.50zM100.4 559.9h2.50v1.97h-2.50zM102.6 561.6h2.50v1.97h-2.50zM96.0 564.9h2.50v1.97h-2.50zM98.2 566.6h2.50v1.97h-2.50zM115.8 570.0h2.50v1.97h-2.50zM118.0 570.0h2.50v1.97h-2.50zM109.2 571.6h2.50v1.97h-2.50zM91.6 580.0h2.50v1.97h-2.50zM102.6 583.4h2.50v1.97h-2.50zM109.2 590.1h2.50v1.97h-2.50zM120.2 590.1h2.50v1.97h-2.50zM118.0 591.7h2.50v1.97h-2.50zM107.0 610.2h2.50v1.97h-2.50zM113.6 610.2h2.50v1.97h-2.50zM111.4 621.9h2.50v1.97h-2.50zM111.4 623.6h2.50v1.97h-2.50zM104.8 628.6h2.50v1.97h-2.50z" fill="#c2e7b4"/>
<path d="M98.2 534.8h2.50v1.97h-2.50zM120.2 536.5h2.50v1.97h-2.50zM93.8 538.1h2.50v1.97h-2.50zM96.0 539.8h2.50v1.97h-2.50zM98.2 539.8h2.50v1.97h-2.50zM120.2 544.8h2.50v1.97h-2.50zM87.2 546.5h2.50v1.97h-2.50zM111.4 546.5h2.50v1.97h-2.50zM109.2 548.2h2.50v1.97h-2.50zM120.2 548.2h2.50v1.97h-2.50zM120.2 549.9h2.50v1.97h-2.50zM85.0 553.2h2.50v1.97h-2.50zM87.2 553.2h2.50v1.97h-2.50zM100.4 553.2h2.50v1.97h-2.50zM98.2 554.9h2.50v1.97h-2.50zM111.4 559.9h2.50v1.97h-2.50zM98.2 561.6h2.50v1.97h-2.50zM115.8 561.6h2.50v1.97h-2.50zM115.8 563.3h2.50v1.97h-2.50zM89.4 564.9h2.50v1.97h-2.50zM93.8 564.9h2.50v1.97h-2.50zM98.2 568.3h2.50v1.97h-2.50zM102.6 570.0h2.50v1.97h-2.50zM102.6 571.6h2.50v1.97h-2.50zM104.8 571.6h2.50v1.97h-2.50zM104.8 576.7h2.50v1.97h-2.50zM111.4 576.7h2.50v1.97h-2.50zM111.4 578.3h2.50v1.97h-2.50zM120.2 580.0h2.50v1.97h-2.50zM111.4 581.7h2.50v1.97h-2.50zM122.4 583.4h2.50v1.97h-2.50zM82.8 586.7h2.50v1.97h-2.50zM115.8 588.4h2.50v1.97h-2.50zM102.6 593.4h2.50v1.97h-2.50zM115.8 593.4h2.50v1.97h-2.50zM118.0 600.1h2.50v1.97h-2.50zM100.4 621.9h2.50v1.97h-2.50zM104.8 626.9h2.50v1.97h-2.50z" fill="#b0e0b6"/>
<path d="M120.2 539.8h2.50v1.97h-2.50zM124.6 539.8h2.50v1.97h-2.50zM111.4 543.2h2.50v1.97h-2.50zM122.4 543.2h2.50v1.97h-2.50zM124.6 543.2h2.50v1.97h-2.50zM109.2 544.8h2.50v1.97h-2.50zM122.4 546.5h2.50v1.97h-2.50zM113.6 549.9h2.50v1.97h-2.50zM120.2 551.5h2.50v1.97h-2.50zM124.6 551.5h2.50v1.97h-2.50zM118.0 553.2h2.50v1.97h-2.50zM113.6 554.9h2.50v1.97h-2.50zM115.8 554.9h2.50v1.97h-2.50zM98.2 556.6h2.50v1.97h-2.50zM118.0 556.6h2.50v1.97h-2.50zM118.0 558.2h2.50v1.97h-2.50zM89.4 561.6h2.50v1.97h-2.50zM85.0 563.3h2.50v1.97h-2.50zM109.2 563.3h2.50v1.97h-2.50zM118.0 563.3h2.50v1.97h-2.50zM93.8 570.0h2.50v1.97h-2.50zM120.2 570.0h2.50v1.97h-2.50zM113.6 578.3h2.50v1.97h-2.50zM87.2 580.0h2.50v1.97h-2.50zM111.4 580.0h2.50v1.97h-2.50zM82.8 581.7h2.50v1.97h-2.50zM93.8 581.7h2.50v1.97h-2.50zM118.0 583.4h2.50v1.97h-2.50zM104.8 593.4h2.50v1.97h-2.50zM107.0 601.8h2.50v1.97h-2.50zM113.6 601.8h2.50v1.97h-2.50zM118.0 601.8h2.50v1.97h-2.50zM93.8 603.5h2.50v1.97h-2.50zM104.8 605.1h2.50v1.97h-2.50zM107.0 605.1h2.50v1.97h-2.50zM104.8 610.2h2.50v1.97h-2.50zM104.8 615.2h2.50v1.97h-2.50zM100.4 623.6h2.50v1.97h-2.50z" fill="#9dd9b8"/>
<path d="M82.8 534.8h2.50v1.97h-2.50zM87.2 536.5h2.50v1.97h-2.50zM122.4 536.5h2.50v1.97h-2.50zM91.6 541.5h2.50v1.97h-2.50zM120.2 541.5h2.50v1.97h-2.50zM107.0 544.8h2.50v1.97h-2.50zM122.4 544.8h2.50v1.97h-2.50zM93.8 546.5h2.50v1.97h-2.50zM118.0 546.5h2.50v1.97h-2.50zM111.4 548.2h2.50v1.97h-2.50zM111.4 549.9h2.50v1.97h-2.50zM115.8 549.9h2.50v1.97h-2.50zM122.4 553.2h2.50v1.97h-2.50zM111.4 554.9h2.50v1.97h-2.50zM89.4 563.3h2.50v1.97h-2.50zM98.2 563.3h2.50v1.97h-2.50zM96.0 566.6h2.50v1.97h-2.50zM107.0 570.0h2.50v1.97h-2.50zM104.8 575.0h2.50v1.97h-2.50zM111.4 575.0h2.50v1.97h-2.50zM113.6 580.0h2.50v1.97h-2.50zM102.6 585.0h2.50v1.97h-2.50zM120.2 585.0h2.50v1.97h-2.50zM104.8 591.7h2.50v1.97h-2.50zM89.4 608.5h2.50v1.97h-2.50zM102.6 615.2h2.50v1.97h-2.50z" fill="#8bd2ba"/>
<path d="M124.6 534.8h2.50v1.97h-2.50zM113.6 538.1h2.50v1.97h-2.50zM122.4 538.1h2.50v1.97h-2.50zM124.6 538.1h2.50v1.97h-2.50zM96.0 541.5h2.50v1.97h-2.50zM118.0 541.5h2.50v1.97h-2.50zM122.4 541.5h2.50v1.97h-2.50zM118.0 543.2h2.50v1.97h-2.50zM115.8 544.8h2.50v1.97h-2.50zM104.8 546.5h2.50v1.97h-2.50zM85.0 548.2h2.50v1.97h-2.50zM113.6 548.2h2.50v1.97h-2.50zM118.0 549.9h2.50v1.97h-2.50zM104.8 551.5h2.50v1.97h-2.50zM115.8 551.5h2.50v1.97h-2.50zM111.4 558.2h2.50v1.97h-2.50zM98.2 564.9h2.50v1.97h-2.50zM107.0 575.0h2.50v1.97h-2.50zM109.2 583.4h2.50v1.97h-2.50zM118.0 585.0h2.50v1.97h-2.50zM87.2 586.7h2.50v1.97h-2.50zM102.6 590.1h2.50v1.97h-2.50zM102.6 601.8h2.50v1.97h-2.50zM104.8 603.5h2.50v1.97h-2.50zM104.8 611.8h2.50v1.97h-2.50zM115.8 623.6h2.50v1.97h-2.50z" fill="#79cbbc"/>
<path d="M113.6 534.8h2.50v1.97h-2.50zM120.2 538.1h2.50v1.97h-2.50zM93.8 539.8h2.50v1.97h-2.50zM100.4 541.5h2.50v1.97h-2.50zM107.0 543.2h2.50v1.97h-2.50zM111.4 544.8h2.50v1.97h-2.50zM115.8 546.5h2.50v1.97h-2.50zM120.2 546.5h2.50v1.97h-2.50zM115.8 548.2h2.50v1.97h-2.50zM93.8 549.9h2.50v1.97h-2.50zM107.0 549.9h2.50v1.97h-2.50zM122.4 551.5h2.50v1.97h-2.50zM124.6 553.2h2.50v1.97h-2.50zM102.6 554.9h2.50v1.97h-2.50zM111.4 556.6h2.50v1.97h-2.50zM91.6 561.6h2.50v1.97h-2.50zM91.6 563.3h2.50v1.97h-2.50zM113.6 563.3h2.50v1.97h-2.50zM120.2 563.3h2.50v1.97h-2.50zM124.6 563.3h2.50v1.97h-2.50zM96.0 568.3h2.50v1.97h-2.50zM100.4 568.3h2.50v1.97h-2.50zM102.6 568.3h2.50v1.97h-2.50zM100.4 570.0h2.50v1.97h-2.50zM109.2 570.0h2.50v1.97h-2.50zM122.4 575.0h2.50v1.97h-2.50zM96.0 581.7h2.50v1.97h-2.50zM91.6 586.7h2.50v1.97h-2.50zM93.8 586.7h2.50v1.97h-2.50zM104.8 590.1h2.50v1.97h-2.50zM102.6 591.7h2.50v1.97h-2.50zM107.0 620.2h2.50v1.97h-2.50zM102.6 621.9h2.50v1.97h-2.50z" fill="#69c5be"/>
<path d="M87.2 534.8h2.50v1.97h-2.50zM102.6 534.8h2.50v1.97h-2.50zM113.6 543.2h2.50v1.97h-2.50zM115.8 543.2h2.50v1.97h-2.50zM115.8 553.2h2.50v1.97h-2.50zM87.2 561.6h2.50v1.97h-2.50zM113.6 561.6h2.50v1.97h-2.50zM93.8 563.3h2.50v1.97h-2.50zM96.0 563.3h2.50v1.97h-2.50zM100.4 566.6h2.50v1.97h-2.50zM100.4 571.6h2.50v1.97h-2.50zM107.0 571.6h2.50v1.97h-2.50zM107.0 576.7h2.50v1.97h-2.50zM107.0 580.0h2.50v1.97h-2.50zM98.2 581.7h2.50v1.97h-2.50zM96.0 586.7h2.50v1.97h-2.50zM102.6 586.7h2.50v1.97h-2.50zM107.0 611.8h2.50v1.97h-2.50zM107.0 618.5h2.50v1.97h-2.50zM104.8 620.2h2.50v1.97h-2.50zM102.6 623.6h2.50v1.97h-2.50z" fill="#59bfc1"/>
<path d="M98.2 538.1h2.50v1.97h-2.50zM109.2 538.1h2.50v1.97h-2.50zM102.6 539.8h2.50v1.97h-2.50zM113.6 539.8h2.50v1.97h-2.50zM109.2 543.2h2.50v1.97h-2.50zM120.2 543.2h2.50v1.97h-2.50zM113.6 544.8h2.50v1.97h-2.50zM113.6 546.5h2.50v1.97h-2.50zM104.8 548.2h2.50v1.97h-2.50zM113.6 551.5h2.50v1.97h-2.50zM120.2 553.2h2.50v1.97h-2.50zM100.4 558.2h2.50v1.97h-2.50zM102.6 559.9h2.50v1.97h-2.50zM118.0 561.6h2.50v1.97h-2.50zM120.2 561.6h2.50v1.97h-2.50zM122.4 563.3h2.50v1.97h-2.50zM91.6 564.9h2.50v1.97h-2.50zM109.2 568.3h2.50v1.97h-2.50zM91.6 581.7h2.50v1.97h-2.50zM107.0 581.7h2.50v1.97h-2.50zM89.4 586.7h2.50v1.97h-2.50zM100.4 586.7h2.50v1.97h-2.50z" fill="#49b9c3"/>
<path d="M120.2 534.8h2.50v1.97h-2.50zM111.4 536.5h2.50v1.97h-2.50zM115.8 536.5h2.50v1.97h-2.50zM102.6 538.1h2.50v1.97h-2.50zM111.4 538.1h2.50v1.97h-2.50zM113.6 541.5h2.50v1.97h-2.50zM115.8 541.5h2.50v1.97h-2.50zM124.6 541.5h2.50v1.97h-2.50zM102.6 543.2h2.50v1.97h-2.50zM87.2 549.9h2.50v1.97h-2.50zM98.2 549.9h2.50v1.97h-2.50zM104.8 553.2h2.50v1.97h-2.50zM104.8 556.6h2.50v1.97h-2.50zM109.2 559.9h2.50v1.97h-2.50zM100.4 581.7h2.50v1.97h-2.50zM111.4 585.0h2.50v1.97h-2.50z" fill="#3cb1c3"/>
<path d="M122.4 534.8h2.50v1.97h-2.50zM124.6 536.5h2.50v1.97h-2.50zM111.4 539.8h2.50v1.97h-2.50zM122.4 539.8h2.50v1.97h-2.50zM111.4 541.5h2.50v1.97h-2.50zM107.0 551.5h2.50v1.97h-2.50zM115.8 576.7h2.50v1.97h-2.50zM124.6 576.7h2.50v1.97h-2.50zM104.8 578.3h2.50v1.97h-2.50zM104.8 580.0h2.50v1.97h-2.50zM104.8 588.4h2.50v1.97h-2.50zM102.6 596.8h2.50v1.97h-2.50z" fill="#33a8c2"/>
<path d="M107.0 534.8h2.50v1.97h-2.50zM109.2 534.8h2.50v1.97h-2.50zM111.4 534.8h2.50v1.97h-2.50zM104.8 536.5h2.50v1.97h-2.50zM107.0 536.5h2.50v1.97h-2.50zM100.4 539.8h2.50v1.97h-2.50zM109.2 546.5h2.50v1.97h-2.50zM102.6 548.2h2.50v1.97h-2.50zM107.0 566.6h2.50v1.97h-2.50zM124.6 575.0h2.50v1.97h-2.50z" fill="#2a9ec1"/>
<path d="M100.4 548.2h2.50v1.97h-2.50zM85.0 549.9h2.50v1.97h-2.50zM104.8 566.6h2.50v1.97h-2.50zM109.2 566.6h2.50v1.97h-2.50zM85.0 581.7h2.50v1.97h-2.50zM85.0 586.7h2.50v1.97h-2.50z" fill="#2095c0"/>
<path d="M91.6 548.2h2.50v1.97h-2.50zM100.4 556.6h2.50v1.97h-2.50zM102.6 588.4h2.50v1.97h-2.50z" fill="#1e89bc"/>
<path d="M115.8 534.8h2.50v1.97h-2.50zM107.0 558.2h2.50v1.97h-2.50z" fill="#1f7cb6"/>
<path d="M115.8 583.4h2.50v1.97h-2.50zM115.8 585.0h2.50v1.97h-2.50zM104.8 601.8h2.50v1.97h-2.50z" fill="#2261aa"/>
<path d="M93.8 561.6h2.50v1.97h-2.50zM113.6 576.7h2.50v1.97h-2.50zM113.6 585.0h2.50v1.97h-2.50z" fill="#2356a4"/>
<path d="M96.0 549.9h2.50v1.97h-2.50zM82.8 564.9h2.50v1.97h-2.50zM87.2 564.9h2.50v1.97h-2.50zM109.2 575.0h2.50v1.97h-2.50zM115.8 575.0h2.50v1.97h-2.50zM113.6 583.4h2.50v1.97h-2.50z" fill="#234b9f"/>
<path d="M118.0 536.5h2.50v1.97h-2.50zM118.0 539.8h2.50v1.97h-2.50zM102.6 544.8h2.50v1.97h-2.50zM89.4 548.2h2.50v1.97h-2.50zM93.8 548.2h2.50v1.97h-2.50zM102.6 549.9h2.50v1.97h-2.50zM104.8 549.9h2.50v1.97h-2.50zM102.6 551.5h2.50v1.97h-2.50zM96.0 561.6h2.50v1.97h-2.50zM102.6 566.6h2.50v1.97h-2.50zM113.6 575.0h2.50v1.97h-2.50zM118.0 575.0h2.50v1.97h-2.50zM120.2 575.0h2.50v1.97h-2.50zM89.4 581.7h2.50v1.97h-2.50zM102.6 581.7h2.50v1.97h-2.50z" fill="#24409a"/>
<path d="M87.2 548.2h2.50v1.97h-2.50zM89.4 549.9h2.50v1.97h-2.50zM91.6 549.9h2.50v1.97h-2.50zM109.2 551.5h2.50v1.97h-2.50zM104.8 554.9h2.50v1.97h-2.50zM109.2 556.6h2.50v1.97h-2.50zM122.4 561.6h2.50v1.97h-2.50zM124.6 561.6h2.50v1.97h-2.50zM85.0 564.9h2.50v1.97h-2.50zM104.8 568.3h2.50v1.97h-2.50zM109.2 578.3h2.50v1.97h-2.50z" fill="#253595"/>
<path d="M118.0 538.1h2.50v1.97h-2.50zM96.0 548.2h2.50v1.97h-2.50zM98.2 548.2h2.50v1.97h-2.50zM100.4 549.9h2.50v1.97h-2.50zM102.6 553.2h2.50v1.97h-2.50zM111.4 553.2h2.50v1.97h-2.50zM100.4 554.9h2.50v1.97h-2.50zM104.8 559.9h2.50v1.97h-2.50zM104.8 581.7h2.50v1.97h-2.50zM109.2 581.7h2.50v1.97h-2.50z" fill="#1e2f86"/>
<path d="M104.8 539.8h2.50v1.97h-2.50zM104.8 543.2h2.50v1.97h-2.50zM104.8 544.8h2.50v1.97h-2.50zM107.0 553.2h2.50v1.97h-2.50zM113.6 553.2h2.50v1.97h-2.50zM102.6 556.6h2.50v1.97h-2.50zM107.0 556.6h2.50v1.97h-2.50zM102.6 558.2h2.50v1.97h-2.50zM109.2 558.2h2.50v1.97h-2.50zM107.0 568.3h2.50v1.97h-2.50z" fill="#172977"/>
<path d="M113.6 536.5h2.50v1.97h-2.50zM115.8 538.1h2.50v1.97h-2.50zM115.8 539.8h2.50v1.97h-2.50zM102.6 541.5h2.50v1.97h-2.50zM104.8 541.5h2.50v1.97h-2.50zM124.6 544.8h2.50v1.97h-2.50zM107.0 546.5h2.50v1.97h-2.50zM111.4 551.5h2.50v1.97h-2.50zM107.0 554.9h2.50v1.97h-2.50zM109.2 554.9h2.50v1.97h-2.50zM109.2 576.7h2.50v1.97h-2.50zM111.4 583.4h2.50v1.97h-2.50z" fill="#0f2367"/>
<path d="M104.8 534.8h2.50v1.97h-2.50zM118.0 534.8h2.50v1.97h-2.50zM109.2 536.5h2.50v1.97h-2.50zM100.4 538.1h2.50v1.97h-2.50zM104.8 538.1h2.50v1.97h-2.50zM107.0 538.1h2.50v1.97h-2.50zM107.0 539.8h2.50v1.97h-2.50zM109.2 539.8h2.50v1.97h-2.50zM107.0 541.5h2.50v1.97h-2.50zM109.2 541.5h2.50v1.97h-2.50zM109.2 553.2h2.50v1.97h-2.50zM104.8 558.2h2.50v1.97h-2.50zM107.0 559.9h2.50v1.97h-2.50zM107.0 578.3h2.50v1.97h-2.50zM109.2 580.0h2.50v1.97h-2.50zM87.2 581.7h2.50v1.97h-2.50z" fill="#081d58"/>
</g>
<path d="M79.80 531.80h50.00v104.80h-50.00zM82.80 534.80h44.00v98.80h-44.00z" fill="#fff" fill-rule="evenodd"/>
<rect x="82.80" y="534.80" width="44.00" height="98.80" fill="none" stroke="#111" stroke-width=".9"/>
<line x1="82.80" y1="633.60" x2="82.80" y2="636.20" stroke="#111" stroke-width="0.9" />
<line x1="104.80" y1="633.60" x2="104.80" y2="636.20" stroke="#111" stroke-width="0.9" />
<line x1="126.80" y1="633.60" x2="126.80" y2="636.20" stroke="#111" stroke-width="0.9" />
<text transform="translate(85.40 641.20) rotate(-45)" font-size="6.3" text-anchor="end">-6.0</text>
<text transform="translate(107.40 641.20) rotate(-45)" font-size="6.3" text-anchor="end">Center</text>
<text transform="translate(129.40 641.20) rotate(-45)" font-size="6.3" text-anchor="end">6.0Kb</text>
<text transform="translate(104.80 664.60)" font-size="6.4" text-anchor="middle">Distance from</text>
<text transform="translate(104.80 672.80)" font-size="6.4" text-anchor="middle">TSS</text>
<g filter="url(#hb)" shape-rendering="crispEdges">
<rect x="134.90" y="532.80" width="47.70" height="102.80" fill="#f1faba" />
<path d="M152.2 534.8h2.48v1.97h-2.48zM145.6 536.5h2.48v1.97h-2.48zM150.0 536.5h2.48v1.97h-2.48zM176.2 536.5h2.48v1.97h-2.48zM141.3 543.2h2.48v1.97h-2.48zM143.5 543.2h2.48v1.97h-2.48zM174.0 543.2h2.48v1.97h-2.48zM136.9 551.5h2.48v1.97h-2.48zM139.1 551.5h2.48v1.97h-2.48zM143.5 551.5h2.48v1.97h-2.48zM145.6 551.5h2.48v1.97h-2.48zM150.0 551.5h2.48v1.97h-2.48zM152.2 551.5h2.48v1.97h-2.48zM156.6 551.5h2.48v1.97h-2.48zM160.9 551.5h2.48v1.97h-2.48zM174.0 551.5h2.48v1.97h-2.48zM176.2 551.5h2.48v1.97h-2.48zM178.4 551.5h2.48v1.97h-2.48zM136.9 556.6h2.48v1.97h-2.48zM139.1 556.6h2.48v1.97h-2.48zM145.6 556.6h2.48v1.97h-2.48zM136.9 561.6h2.48v1.97h-2.48zM143.5 561.6h2.48v1.97h-2.48zM147.8 561.6h2.48v1.97h-2.48zM150.0 561.6h2.48v1.97h-2.48zM152.2 561.6h2.48v1.97h-2.48zM167.5 561.6h2.48v1.97h-2.48zM169.7 561.6h2.48v1.97h-2.48zM178.4 561.6h2.48v1.97h-2.48zM150.0 563.3h2.48v1.97h-2.48zM160.9 563.3h2.48v1.97h-2.48zM163.1 563.3h2.48v1.97h-2.48zM167.5 563.3h2.48v1.97h-2.48zM176.2 563.3h2.48v1.97h-2.48zM150.0 564.9h2.48v1.97h-2.48zM139.1 573.3h2.48v1.97h-2.48zM145.6 573.3h2.48v1.97h-2.48zM147.8 573.3h2.48v1.97h-2.48zM152.2 573.3h2.48v1.97h-2.48zM167.5 573.3h2.48v1.97h-2.48zM169.7 573.3h2.48v1.97h-2.48zM174.0 573.3h2.48v1.97h-2.48zM176.2 573.3h2.48v1.97h-2.48zM147.8 576.7h2.48v1.97h-2.48zM169.7 576.7h2.48v1.97h-2.48zM171.9 576.7h2.48v1.97h-2.48zM141.3 580.0h2.48v1.97h-2.48zM143.5 580.0h2.48v1.97h-2.48zM145.6 580.0h2.48v1.97h-2.48zM147.8 580.0h2.48v1.97h-2.48zM150.0 580.0h2.48v1.97h-2.48zM154.4 580.0h2.48v1.97h-2.48zM165.3 580.0h2.48v1.97h-2.48zM167.5 580.0h2.48v1.97h-2.48zM171.9 580.0h2.48v1.97h-2.48zM136.9 581.7h2.48v1.97h-2.48zM139.1 581.7h2.48v1.97h-2.48zM145.6 581.7h2.48v1.97h-2.48zM150.0 581.7h2.48v1.97h-2.48zM154.4 581.7h2.48v1.97h-2.48zM156.6 581.7h2.48v1.97h-2.48zM160.9 581.7h2.48v1.97h-2.48zM163.1 581.7h2.48v1.97h-2.48zM165.3 581.7h2.48v1.97h-2.48zM169.7 581.7h2.48v1.97h-2.48zM171.9 581.7h2.48v1.97h-2.48zM178.4 581.7h2.48v1.97h-2.48zM147.8 585.0h2.48v1.97h-2.48zM150.0 585.0h2.48v1.97h-2.48zM152.2 585.0h2.48v1.97h-2.48zM156.6 585.0h2.48v1.97h-2.48zM158.8 585.0h2.48v1.97h-2.48zM174.0 585.0h2.48v1.97h-2.48zM176.2 585.0h2.48v1.97h-2.48zM178.4 585.0h2.48v1.97h-2.48zM178.4 588.4h2.48v1.97h-2.48zM139.1 590.1h2.48v1.97h-2.48zM150.0 590.1h2.48v1.97h-2.48zM171.9 590.1h2.48v1.97h-2.48zM141.3 591.7h2.48v1.97h-2.48zM143.5 591.7h2.48v1.97h-2.48zM145.6 591.7h2.48v1.97h-2.48zM150.0 591.7h2.48v1.97h-2.48zM154.4 591.7h2.48v1.97h-2.48zM171.9 591.7h2.48v1.97h-2.48zM174.0 591.7h2.48v1.97h-2.48zM136.9 595.1h2.48v1.97h-2.48zM139.1 595.1h2.48v1.97h-2.48zM141.3 595.1h2.48v1.97h-2.48zM143.5 595.1h2.48v1.97h-2.48zM145.6 595.1h2.48v1.97h-2.48zM150.0 595.1h2.48v1.97h-2.48zM152.2 595.1h2.48v1.97h-2.48zM154.4 595.1h2.48v1.97h-2.48zM160.9 595.1h2.48v1.97h-2.48zM163.1 595.1h2.48v1.97h-2.48zM165.3 595.1h2.48v1.97h-2.48zM167.5 595.1h2.48v1.97h-2.48zM169.7 595.1h2.48v1.97h-2.48zM171.9 595.1h2.48v1.97h-2.48zM178.4 595.1h2.48v1.97h-2.48zM139.1 598.4h2.48v1.97h-2.48zM154.4 598.4h2.48v1.97h-2.48zM156.6 598.4h2.48v1.97h-2.48zM158.8 598.4h2.48v1.97h-2.48zM176.2 598.4h2.48v1.97h-2.48zM139.1 600.1h2.48v1.97h-2.48zM141.3 600.1h2.48v1.97h-2.48zM143.5 600.1h2.48v1.97h-2.48zM147.8 600.1h2.48v1.97h-2.48zM150.0 600.1h2.48v1.97h-2.48zM154.4 600.1h2.48v1.97h-2.48zM156.6 600.1h2.48v1.97h-2.48zM158.8 600.1h2.48v1.97h-2.48zM163.1 600.1h2.48v1.97h-2.48zM165.3 600.1h2.48v1.97h-2.48zM167.5 600.1h2.48v1.97h-2.48zM174.0 600.1h2.48v1.97h-2.48zM152.2 601.8h2.48v1.97h-2.48zM156.6 603.5h2.48v1.97h-2.48zM136.9 605.1h2.48v1.97h-2.48zM139.1 605.1h2.48v1.97h-2.48zM141.3 605.1h2.48v1.97h-2.48zM145.6 605.1h2.48v1.97h-2.48zM154.4 605.1h2.48v1.97h-2.48zM156.6 605.1h2.48v1.97h-2.48zM158.8 605.1h2.48v1.97h-2.48zM163.1 605.1h2.48v1.97h-2.48zM165.3 605.1h2.48v1.97h-2.48zM167.5 605.1h2.48v1.97h-2.48zM139.1 606.8h2.48v1.97h-2.48zM152.2 606.8h2.48v1.97h-2.48zM167.5 606.8h2.48v1.97h-2.48zM136.9 608.5h2.48v1.97h-2.48zM141.3 608.5h2.48v1.97h-2.48zM143.5 608.5h2.48v1.97h-2.48zM145.6 608.5h2.48v1.97h-2.48zM147.8 608.5h2.48v1.97h-2.48zM150.0 608.5h2.48v1.97h-2.48zM154.4 608.5h2.48v1.97h-2.48zM163.1 608.5h2.48v1.97h-2.48zM174.0 608.5h2.48v1.97h-2.48zM176.2 608.5h2.48v1.97h-2.48zM139.1 610.2h2.48v1.97h-2.48zM141.3 610.2h2.48v1.97h-2.48zM143.5 610.2h2.48v1.97h-2.48zM150.0 610.2h2.48v1.97h-2.48zM152.2 610.2h2.48v1.97h-2.48zM154.4 610.2h2.48v1.97h-2.48zM158.8 610.2h2.48v1.97h-2.48zM160.9 610.2h2.48v1.97h-2.48zM163.1 610.2h2.48v1.97h-2.48zM165.3 610.2h2.48v1.97h-2.48zM167.5 610.2h2.48v1.97h-2.48zM169.7 610.2h2.48v1.97h-2.48zM171.9 610.2h2.48v1.97h-2.48zM136.9 611.8h2.48v1.97h-2.48zM171.9 611.8h2.48v1.97h-2.48zM136.9 613.5h2.48v1.97h-2.48zM141.3 613.5h2.48v1.97h-2.48zM143.5 613.5h2.48v1.97h-2.48zM145.6 613.5h2.48v1.97h-2.48zM152.2 613.5h2.48v1.97h-2.48zM156.6 613.5h2.48v1.97h-2.48zM158.8 613.5h2.48v1.97h-2.48zM160.9 613.5h2.48v1.97h-2.48zM163.1 613.5h2.48v1.97h-2.48zM165.3 613.5h2.48v1.97h-2.48zM176.2 613.5h2.48v1.97h-2.48zM178.4 613.5h2.48v1.97h-2.48zM139.1 615.2h2.48v1.97h-2.48zM143.5 615.2h2.48v1.97h-2.48zM145.6 615.2h2.48v1.97h-2.48zM147.8 615.2h2.48v1.97h-2.48zM150.0 615.2h2.48v1.97h-2.48zM154.4 615.2h2.48v1.97h-2.48zM167.5 615.2h2.48v1.97h-2.48zM169.7 615.2h2.48v1.97h-2.48zM174.0 615.2h2.48v1.97h-2.48zM176.2 615.2h2.48v1.97h-2.48zM178.4 615.2h2.48v1.97h-2.48zM141.3 616.9h2.48v1.97h-2.48zM145.6 616.9h2.48v1.97h-2.48zM147.8 616.9h2.48v1.97h-2.48zM154.4 616.9h2.48v1.97h-2.48zM178.4 616.9h2.48v1.97h-2.48zM136.9 618.5h2.48v1.97h-2.48zM139.1 618.5h2.48v1.97h-2.48zM141.3 618.5h2.48v1.97h-2.48zM150.0 618.5h2.48v1.97h-2.48zM152.2 618.5h2.48v1.97h-2.48zM154.4 618.5h2.48v1.97h-2.48zM156.6 618.5h2.48v1.97h-2.48zM158.8 618.5h2.48v1.97h-2.48zM165.3 618.5h2.48v1.97h-2.48zM141.3 620.2h2.48v1.97h-2.48zM143.5 620.2h2.48v1.97h-2.48zM147.8 620.2h2.48v1.97h-2.48zM150.0 620.2h2.48v1.97h-2.48zM156.6 620.2h2.48v1.97h-2.48zM158.8 620.2h2.48v1.97h-2.48zM160.9 620.2h2.48v1.97h-2.48zM171.9 620.2h2.48v1.97h-2.48zM174.0 620.2h2.48v1.97h-2.48zM176.2 620.2h2.48v1.97h-2.48zM178.4 620.2h2.48v1.97h-2.48zM136.9 621.9h2.48v1.97h-2.48zM139.1 621.9h2.48v1.97h-2.48zM143.5 621.9h2.48v1.97h-2.48zM145.6 621.9h2.48v1.97h-2.48zM150.0 621.9h2.48v1.97h-2.48zM152.2 621.9h2.48v1.97h-2.48zM158.8 621.9h2.48v1.97h-2.48zM160.9 621.9h2.48v1.97h-2.48zM165.3 621.9h2.48v1.97h-2.48zM174.0 621.9h2.48v1.97h-2.48zM176.2 621.9h2.48v1.97h-2.48zM139.1 623.6h2.48v1.97h-2.48zM143.5 623.6h2.48v1.97h-2.48zM145.6 623.6h2.48v1.97h-2.48zM147.8 623.6h2.48v1.97h-2.48zM154.4 623.6h2.48v1.97h-2.48zM156.6 623.6h2.48v1.97h-2.48zM158.8 623.6h2.48v1.97h-2.48zM167.5 623.6h2.48v1.97h-2.48zM136.9 625.2h2.48v1.97h-2.48zM141.3 625.2h2.48v1.97h-2.48zM145.6 625.2h2.48v1.97h-2.48zM150.0 625.2h2.48v1.97h-2.48zM152.2 625.2h2.48v1.97h-2.48zM154.4 625.2h2.48v1.97h-2.48zM156.6 625.2h2.48v1.97h-2.48zM158.8 625.2h2.48v1.97h-2.48zM163.1 625.2h2.48v1.97h-2.48zM169.7 625.2h2.48v1.97h-2.48zM174.0 625.2h2.48v1.97h-2.48zM176.2 625.2h2.48v1.97h-2.48zM178.4 625.2h2.48v1.97h-2.48zM141.3 626.9h2.48v1.97h-2.48zM143.5 626.9h2.48v1.97h-2.48zM147.8 626.9h2.48v1.97h-2.48zM150.0 626.9h2.48v1.97h-2.48zM163.1 626.9h2.48v1.97h-2.48zM167.5 626.9h2.48v1.97h-2.48zM171.9 626.9h2.48v1.97h-2.48zM174.0 626.9h2.48v1.97h-2.48zM176.2 626.9h2.48v1.97h-2.48zM178.4 626.9h2.48v1.97h-2.48zM136.9 628.6h2.48v1.97h-2.48zM141.3 628.6h2.48v1.97h-2.48zM143.5 628.6h2.48v1.97h-2.48zM150.0 628.6h2.48v1.97h-2.48zM154.4 628.6h2.48v1.97h-2.48zM160.9 628.6h2.48v1.97h-2.48zM163.1 628.6h2.48v1.97h-2.48zM169.7 628.6h2.48v1.97h-2.48zM171.9 628.6h2.48v1.97h-2.48zM176.2 628.6h2.48v1.97h-2.48zM136.9 630.3h2.48v1.97h-2.48zM139.1 630.3h2.48v1.97h-2.48zM145.6 630.3h2.48v1.97h-2.48zM150.0 630.3h2.48v1.97h-2.48zM152.2 630.3h2.48v1.97h-2.48zM154.4 630.3h2.48v1.97h-2.48zM156.6 630.3h2.48v1.97h-2.48zM158.8 630.3h2.48v1.97h-2.48zM160.9 630.3h2.48v1.97h-2.48zM165.3 630.3h2.48v1.97h-2.48zM167.5 630.3h2.48v1.97h-2.48zM171.9 630.3h2.48v1.97h-2.48zM174.0 630.3h2.48v1.97h-2.48zM176.2 630.3h2.48v1.97h-2.48zM143.5 631.9h2.48v1.97h-2.48zM145.6 631.9h2.48v1.97h-2.48zM147.8 631.9h2.48v1.97h-2.48zM152.2 631.9h2.48v1.97h-2.48zM156.6 631.9h2.48v1.97h-2.48zM158.8 631.9h2.48v1.97h-2.48zM160.9 631.9h2.48v1.97h-2.48zM163.1 631.9h2.48v1.97h-2.48zM165.3 631.9h2.48v1.97h-2.48zM169.7 631.9h2.48v1.97h-2.48zM176.2 631.9h2.48v1.97h-2.48z" fill="#f6fbc4"/>
<path d="M136.9 538.1h2.48v1.97h-2.48zM141.3 539.8h2.48v1.97h-2.48zM145.6 539.8h2.48v1.97h-2.48zM174.0 539.8h2.48v1.97h-2.48zM139.1 541.5h2.48v1.97h-2.48zM141.3 541.5h2.48v1.97h-2.48zM143.5 541.5h2.48v1.97h-2.48zM145.6 541.5h2.48v1.97h-2.48zM150.0 541.5h2.48v1.97h-2.48zM176.2 541.5h2.48v1.97h-2.48zM141.3 544.8h2.48v1.97h-2.48zM145.6 544.8h2.48v1.97h-2.48zM147.8 544.8h2.48v1.97h-2.48zM139.1 546.5h2.48v1.97h-2.48zM150.0 546.5h2.48v1.97h-2.48zM152.2 546.5h2.48v1.97h-2.48zM174.0 546.5h2.48v1.97h-2.48zM139.1 548.2h2.48v1.97h-2.48zM141.3 548.2h2.48v1.97h-2.48zM143.5 548.2h2.48v1.97h-2.48zM145.6 548.2h2.48v1.97h-2.48zM147.8 548.2h2.48v1.97h-2.48zM152.2 548.2h2.48v1.97h-2.48zM154.4 548.2h2.48v1.97h-2.48zM171.9 548.2h2.48v1.97h-2.48zM174.0 548.2h2.48v1.97h-2.48zM136.9 549.9h2.48v1.97h-2.48zM163.1 549.9h2.48v1.97h-2.48zM165.3 549.9h2.48v1.97h-2.48zM171.9 549.9h2.48v1.97h-2.48zM176.2 549.9h2.48v1.97h-2.48zM136.9 553.2h2.48v1.97h-2.48zM139.1 553.2h2.48v1.97h-2.48zM141.3 553.2h2.48v1.97h-2.48zM143.5 553.2h2.48v1.97h-2.48zM145.6 553.2h2.48v1.97h-2.48zM176.2 553.2h2.48v1.97h-2.48zM139.1 554.9h2.48v1.97h-2.48zM145.6 554.9h2.48v1.97h-2.48zM152.2 554.9h2.48v1.97h-2.48zM169.7 554.9h2.48v1.97h-2.48zM174.0 554.9h2.48v1.97h-2.48zM178.4 554.9h2.48v1.97h-2.48zM136.9 558.2h2.48v1.97h-2.48zM139.1 558.2h2.48v1.97h-2.48zM174.0 558.2h2.48v1.97h-2.48zM176.2 558.2h2.48v1.97h-2.48zM178.4 558.2h2.48v1.97h-2.48zM139.1 559.9h2.48v1.97h-2.48zM143.5 559.9h2.48v1.97h-2.48zM145.6 559.9h2.48v1.97h-2.48zM150.0 559.9h2.48v1.97h-2.48zM169.7 559.9h2.48v1.97h-2.48zM174.0 559.9h2.48v1.97h-2.48zM178.4 559.9h2.48v1.97h-2.48zM156.6 561.6h2.48v1.97h-2.48zM163.1 564.9h2.48v1.97h-2.48zM136.9 566.6h2.48v1.97h-2.48zM143.5 566.6h2.48v1.97h-2.48zM152.2 566.6h2.48v1.97h-2.48zM154.4 566.6h2.48v1.97h-2.48zM171.9 566.6h2.48v1.97h-2.48zM174.0 566.6h2.48v1.97h-2.48zM178.4 566.6h2.48v1.97h-2.48zM141.3 568.3h2.48v1.97h-2.48zM143.5 568.3h2.48v1.97h-2.48zM145.6 568.3h2.48v1.97h-2.48zM150.0 568.3h2.48v1.97h-2.48zM154.4 568.3h2.48v1.97h-2.48zM158.8 568.3h2.48v1.97h-2.48zM163.1 568.3h2.48v1.97h-2.48zM171.9 568.3h2.48v1.97h-2.48zM176.2 568.3h2.48v1.97h-2.48zM178.4 568.3h2.48v1.97h-2.48zM136.9 570.0h2.48v1.97h-2.48zM141.3 570.0h2.48v1.97h-2.48zM145.6 570.0h2.48v1.97h-2.48zM169.7 570.0h2.48v1.97h-2.48zM171.9 570.0h2.48v1.97h-2.48zM174.0 570.0h2.48v1.97h-2.48zM176.2 570.0h2.48v1.97h-2.48zM143.5 571.6h2.48v1.97h-2.48zM150.0 571.6h2.48v1.97h-2.48zM176.2 571.6h2.48v1.97h-2.48zM178.4 571.6h2.48v1.97h-2.48zM136.9 575.0h2.48v1.97h-2.48zM147.8 575.0h2.48v1.97h-2.48zM154.4 575.0h2.48v1.97h-2.48zM156.6 575.0h2.48v1.97h-2.48zM165.3 575.0h2.48v1.97h-2.48zM171.9 575.0h2.48v1.97h-2.48zM178.4 575.0h2.48v1.97h-2.48zM136.9 578.3h2.48v1.97h-2.48zM139.1 578.3h2.48v1.97h-2.48zM143.5 578.3h2.48v1.97h-2.48zM152.2 578.3h2.48v1.97h-2.48zM158.8 578.3h2.48v1.97h-2.48zM167.5 578.3h2.48v1.97h-2.48zM174.0 578.3h2.48v1.97h-2.48zM176.2 578.3h2.48v1.97h-2.48zM178.4 578.3h2.48v1.97h-2.48zM176.2 581.7h2.48v1.97h-2.48zM143.5 583.4h2.48v1.97h-2.48zM145.6 583.4h2.48v1.97h-2.48zM165.3 583.4h2.48v1.97h-2.48zM167.5 583.4h2.48v1.97h-2.48zM178.4 583.4h2.48v1.97h-2.48zM145.6 586.7h2.48v1.97h-2.48zM152.2 586.7h2.48v1.97h-2.48zM158.8 586.7h2.48v1.97h-2.48zM178.4 586.7h2.48v1.97h-2.48zM156.6 588.4h2.48v1.97h-2.48zM174.0 588.4h2.48v1.97h-2.48zM136.9 590.1h2.48v1.97h-2.48zM154.4 590.1h2.48v1.97h-2.48zM174.0 590.1h2.48v1.97h-2.48zM139.1 593.4h2.48v1.97h-2.48zM143.5 593.4h2.48v1.97h-2.48zM150.0 593.4h2.48v1.97h-2.48zM152.2 593.4h2.48v1.97h-2.48zM163.1 593.4h2.48v1.97h-2.48zM167.5 593.4h2.48v1.97h-2.48zM176.2 593.4h2.48v1.97h-2.48zM139.1 596.8h2.48v1.97h-2.48zM143.5 596.8h2.48v1.97h-2.48zM145.6 596.8h2.48v1.97h-2.48zM147.8 596.8h2.48v1.97h-2.48zM150.0 596.8h2.48v1.97h-2.48zM152.2 596.8h2.48v1.97h-2.48zM160.9 596.8h2.48v1.97h-2.48zM165.3 596.8h2.48v1.97h-2.48zM169.7 596.8h2.48v1.97h-2.48zM171.9 596.8h2.48v1.97h-2.48zM139.1 601.8h2.48v1.97h-2.48zM143.5 601.8h2.48v1.97h-2.48zM150.0 601.8h2.48v1.97h-2.48zM160.9 601.8h2.48v1.97h-2.48zM169.7 601.8h2.48v1.97h-2.48zM178.4 601.8h2.48v1.97h-2.48zM154.4 603.5h2.48v1.97h-2.48zM150.0 606.8h2.48v1.97h-2.48zM145.6 611.8h2.48v1.97h-2.48zM152.2 611.8h2.48v1.97h-2.48zM174.0 611.8h2.48v1.97h-2.48z" fill="#ecf8b1"/>
<path d="M147.8 534.8h2.48v1.97h-2.48zM150.0 534.8h2.48v1.97h-2.48zM139.1 536.5h2.48v1.97h-2.48zM141.3 538.1h2.48v1.97h-2.48zM147.8 538.1h2.48v1.97h-2.48zM150.0 538.1h2.48v1.97h-2.48zM176.2 538.1h2.48v1.97h-2.48zM178.4 538.1h2.48v1.97h-2.48zM147.8 541.5h2.48v1.97h-2.48zM174.0 541.5h2.48v1.97h-2.48zM136.9 544.8h2.48v1.97h-2.48zM139.1 544.8h2.48v1.97h-2.48zM143.5 544.8h2.48v1.97h-2.48zM136.9 546.5h2.48v1.97h-2.48zM141.3 546.5h2.48v1.97h-2.48zM143.5 546.5h2.48v1.97h-2.48zM145.6 546.5h2.48v1.97h-2.48zM147.8 546.5h2.48v1.97h-2.48zM176.2 546.5h2.48v1.97h-2.48zM176.2 548.2h2.48v1.97h-2.48zM167.5 549.9h2.48v1.97h-2.48zM178.4 549.9h2.48v1.97h-2.48zM141.3 558.2h2.48v1.97h-2.48zM143.5 558.2h2.48v1.97h-2.48zM147.8 558.2h2.48v1.97h-2.48zM150.0 558.2h2.48v1.97h-2.48zM167.5 558.2h2.48v1.97h-2.48zM169.7 558.2h2.48v1.97h-2.48zM165.3 561.6h2.48v1.97h-2.48zM171.9 563.3h2.48v1.97h-2.48zM160.9 564.9h2.48v1.97h-2.48zM145.6 566.6h2.48v1.97h-2.48zM147.8 568.3h2.48v1.97h-2.48zM139.1 570.0h2.48v1.97h-2.48zM143.5 570.0h2.48v1.97h-2.48zM160.9 570.0h2.48v1.97h-2.48zM163.1 570.0h2.48v1.97h-2.48zM165.3 570.0h2.48v1.97h-2.48zM167.5 570.0h2.48v1.97h-2.48zM160.9 585.0h2.48v1.97h-2.48zM158.8 606.8h2.48v1.97h-2.48zM169.7 611.8h2.48v1.97h-2.48z" fill="#e2f4b2"/>
<path d="M141.3 534.8h2.48v1.97h-2.48zM171.9 538.1h2.48v1.97h-2.48zM150.0 548.2h2.48v1.97h-2.48zM169.7 549.9h2.48v1.97h-2.48zM158.8 553.2h2.48v1.97h-2.48zM141.3 554.9h2.48v1.97h-2.48zM171.9 556.6h2.48v1.97h-2.48zM174.0 556.6h2.48v1.97h-2.48zM163.1 561.6h2.48v1.97h-2.48zM174.0 563.3h2.48v1.97h-2.48zM171.9 564.9h2.48v1.97h-2.48zM174.0 564.9h2.48v1.97h-2.48zM150.0 566.6h2.48v1.97h-2.48zM178.4 570.0h2.48v1.97h-2.48zM143.5 573.3h2.48v1.97h-2.48zM141.3 578.3h2.48v1.97h-2.48zM174.0 580.0h2.48v1.97h-2.48zM147.8 581.7h2.48v1.97h-2.48zM174.0 583.4h2.48v1.97h-2.48zM158.8 590.1h2.48v1.97h-2.48zM165.3 590.1h2.48v1.97h-2.48zM145.6 593.4h2.48v1.97h-2.48zM156.6 593.4h2.48v1.97h-2.48zM158.8 593.4h2.48v1.97h-2.48zM174.0 613.5h2.48v1.97h-2.48zM158.8 626.9h2.48v1.97h-2.48z" fill="#d8f0b3"/>
<path d="M139.1 534.8h2.48v1.97h-2.48zM143.5 538.1h2.48v1.97h-2.48zM136.9 539.8h2.48v1.97h-2.48zM143.5 539.8h2.48v1.97h-2.48zM145.6 543.2h2.48v1.97h-2.48zM165.3 543.2h2.48v1.97h-2.48zM167.5 544.8h2.48v1.97h-2.48zM174.0 544.8h2.48v1.97h-2.48zM176.2 544.8h2.48v1.97h-2.48zM174.0 549.9h2.48v1.97h-2.48zM158.8 551.5h2.48v1.97h-2.48zM150.0 553.2h2.48v1.97h-2.48zM152.2 553.2h2.48v1.97h-2.48zM152.2 556.6h2.48v1.97h-2.48zM176.2 559.9h2.48v1.97h-2.48zM152.2 564.9h2.48v1.97h-2.48zM154.4 564.9h2.48v1.97h-2.48zM169.7 564.9h2.48v1.97h-2.48zM154.4 571.6h2.48v1.97h-2.48zM169.7 571.6h2.48v1.97h-2.48zM158.8 573.3h2.48v1.97h-2.48zM139.1 575.0h2.48v1.97h-2.48zM143.5 575.0h2.48v1.97h-2.48zM176.2 576.7h2.48v1.97h-2.48zM154.4 583.4h2.48v1.97h-2.48zM143.5 585.0h2.48v1.97h-2.48zM141.3 588.4h2.48v1.97h-2.48zM160.9 590.1h2.48v1.97h-2.48zM156.6 591.7h2.48v1.97h-2.48zM156.6 595.1h2.48v1.97h-2.48zM158.8 595.1h2.48v1.97h-2.48zM174.0 605.1h2.48v1.97h-2.48zM158.8 615.2h2.48v1.97h-2.48zM156.6 616.9h2.48v1.97h-2.48zM158.8 628.6h2.48v1.97h-2.48z" fill="#ceecb3"/>
<path d="M136.9 536.5h2.48v1.97h-2.48zM174.0 536.5h2.48v1.97h-2.48zM139.1 538.1h2.48v1.97h-2.48zM145.6 538.1h2.48v1.97h-2.48zM176.2 539.8h2.48v1.97h-2.48zM165.3 541.5h2.48v1.97h-2.48zM150.0 544.8h2.48v1.97h-2.48zM165.3 544.8h2.48v1.97h-2.48zM136.9 548.2h2.48v1.97h-2.48zM139.1 549.9h2.48v1.97h-2.48zM171.9 558.2h2.48v1.97h-2.48zM160.9 561.6h2.48v1.97h-2.48zM169.7 563.3h2.48v1.97h-2.48zM165.3 566.6h2.48v1.97h-2.48zM167.5 566.6h2.48v1.97h-2.48zM139.1 568.3h2.48v1.97h-2.48zM165.3 568.3h2.48v1.97h-2.48zM141.3 575.0h2.48v1.97h-2.48zM176.2 605.1h2.48v1.97h-2.48z" fill="#c2e7b4"/>
<path d="M165.3 539.8h2.48v1.97h-2.48zM156.6 543.2h2.48v1.97h-2.48zM152.2 544.8h2.48v1.97h-2.48zM160.9 553.2h2.48v1.97h-2.48zM154.4 554.9h2.48v1.97h-2.48zM147.8 566.6h2.48v1.97h-2.48zM150.0 573.3h2.48v1.97h-2.48zM169.7 575.0h2.48v1.97h-2.48zM176.2 580.0h2.48v1.97h-2.48zM171.9 585.0h2.48v1.97h-2.48zM176.2 590.1h2.48v1.97h-2.48zM160.9 603.5h2.48v1.97h-2.48zM158.8 616.9h2.48v1.97h-2.48z" fill="#b0e0b6"/>
<path d="M141.3 536.5h2.48v1.97h-2.48zM163.1 538.1h2.48v1.97h-2.48zM152.2 539.8h2.48v1.97h-2.48zM154.4 544.8h2.48v1.97h-2.48zM160.9 544.8h2.48v1.97h-2.48zM169.7 544.8h2.48v1.97h-2.48zM171.9 544.8h2.48v1.97h-2.48zM152.2 549.9h2.48v1.97h-2.48zM160.9 549.9h2.48v1.97h-2.48zM156.6 554.9h2.48v1.97h-2.48zM141.3 561.6h2.48v1.97h-2.48zM145.6 563.3h2.48v1.97h-2.48zM156.6 571.6h2.48v1.97h-2.48zM165.3 571.6h2.48v1.97h-2.48zM156.6 580.0h2.48v1.97h-2.48zM136.9 586.7h2.48v1.97h-2.48zM156.6 586.7h2.48v1.97h-2.48zM156.6 615.2h2.48v1.97h-2.48z" fill="#9dd9b8"/>
<path d="M139.1 539.8h2.48v1.97h-2.48zM147.8 543.2h2.48v1.97h-2.48zM160.9 543.2h2.48v1.97h-2.48zM158.8 544.8h2.48v1.97h-2.48zM163.1 544.8h2.48v1.97h-2.48zM178.4 544.8h2.48v1.97h-2.48zM154.4 546.5h2.48v1.97h-2.48zM163.1 551.5h2.48v1.97h-2.48zM171.9 551.5h2.48v1.97h-2.48zM174.0 553.2h2.48v1.97h-2.48zM154.4 558.2h2.48v1.97h-2.48zM163.1 558.2h2.48v1.97h-2.48zM165.3 558.2h2.48v1.97h-2.48zM136.9 563.3h2.48v1.97h-2.48zM139.1 564.9h2.48v1.97h-2.48zM143.5 564.9h2.48v1.97h-2.48zM147.8 570.0h2.48v1.97h-2.48zM158.8 580.0h2.48v1.97h-2.48zM169.7 588.4h2.48v1.97h-2.48zM156.6 590.1h2.48v1.97h-2.48zM158.8 591.7h2.48v1.97h-2.48zM163.1 620.2h2.48v1.97h-2.48zM156.6 621.9h2.48v1.97h-2.48z" fill="#8bd2ba"/>
<path d="M174.0 538.1h2.48v1.97h-2.48zM167.5 543.2h2.48v1.97h-2.48zM156.6 544.8h2.48v1.97h-2.48zM178.4 546.5h2.48v1.97h-2.48zM167.5 548.2h2.48v1.97h-2.48zM143.5 549.9h2.48v1.97h-2.48zM145.6 549.9h2.48v1.97h-2.48zM171.9 553.2h2.48v1.97h-2.48zM152.2 558.2h2.48v1.97h-2.48zM154.4 559.9h2.48v1.97h-2.48zM156.6 559.9h2.48v1.97h-2.48zM145.6 564.9h2.48v1.97h-2.48zM160.9 566.6h2.48v1.97h-2.48zM158.8 570.0h2.48v1.97h-2.48zM167.5 575.0h2.48v1.97h-2.48zM147.8 578.3h2.48v1.97h-2.48zM178.4 580.0h2.48v1.97h-2.48zM169.7 585.0h2.48v1.97h-2.48zM139.1 586.7h2.48v1.97h-2.48zM158.8 611.8h2.48v1.97h-2.48z" fill="#79cbbc"/>
<path d="M167.5 538.1h2.48v1.97h-2.48zM163.1 539.8h2.48v1.97h-2.48zM152.2 541.5h2.48v1.97h-2.48zM163.1 548.2h2.48v1.97h-2.48zM141.3 549.9h2.48v1.97h-2.48zM150.0 549.9h2.48v1.97h-2.48zM156.6 549.9h2.48v1.97h-2.48zM156.6 556.6h2.48v1.97h-2.48zM156.6 558.2h2.48v1.97h-2.48zM143.5 563.3h2.48v1.97h-2.48zM163.1 580.0h2.48v1.97h-2.48zM141.3 586.7h2.48v1.97h-2.48z" fill="#69c5be"/>
<path d="M154.4 534.8h2.48v1.97h-2.48zM171.9 534.8h2.48v1.97h-2.48zM152.2 538.1h2.48v1.97h-2.48zM169.7 538.1h2.48v1.97h-2.48zM169.7 539.8h2.48v1.97h-2.48zM163.1 541.5h2.48v1.97h-2.48zM158.8 543.2h2.48v1.97h-2.48zM171.9 543.2h2.48v1.97h-2.48zM167.5 546.5h2.48v1.97h-2.48zM156.6 548.2h2.48v1.97h-2.48zM147.8 549.9h2.48v1.97h-2.48zM154.4 549.9h2.48v1.97h-2.48zM163.1 559.9h2.48v1.97h-2.48zM158.8 571.6h2.48v1.97h-2.48z" fill="#59bfc1"/>
<path d="M176.2 534.8h2.48v1.97h-2.48zM152.2 536.5h2.48v1.97h-2.48zM171.9 536.5h2.48v1.97h-2.48zM165.3 538.1h2.48v1.97h-2.48zM160.9 539.8h2.48v1.97h-2.48zM158.8 541.5h2.48v1.97h-2.48zM167.5 551.5h2.48v1.97h-2.48zM163.1 554.9h2.48v1.97h-2.48zM156.6 566.6h2.48v1.97h-2.48zM160.9 580.0h2.48v1.97h-2.48z" fill="#49b9c3"/>
<path d="M165.3 534.8h2.48v1.97h-2.48zM178.4 534.8h2.48v1.97h-2.48zM167.5 539.8h2.48v1.97h-2.48zM169.7 541.5h2.48v1.97h-2.48zM154.4 543.2h2.48v1.97h-2.48zM163.1 543.2h2.48v1.97h-2.48zM163.1 553.2h2.48v1.97h-2.48zM154.4 556.6h2.48v1.97h-2.48zM139.1 563.3h2.48v1.97h-2.48zM154.4 570.0h2.48v1.97h-2.48zM160.9 571.6h2.48v1.97h-2.48zM163.1 585.0h2.48v1.97h-2.48zM143.5 586.7h2.48v1.97h-2.48zM156.6 596.8h2.48v1.97h-2.48z" fill="#3cb1c3"/>
<path d="M167.5 536.5h2.48v1.97h-2.48zM156.6 541.5h2.48v1.97h-2.48zM158.8 566.6h2.48v1.97h-2.48zM163.1 566.6h2.48v1.97h-2.48zM160.9 611.8h2.48v1.97h-2.48z" fill="#33a8c2"/>
<path d="M160.9 556.6h2.48v1.97h-2.48zM136.9 564.9h2.48v1.97h-2.48zM156.6 601.8h2.48v1.97h-2.48z" fill="#2a9ec1"/>
<path d="M154.4 539.8h2.48v1.97h-2.48z" fill="#1e89bc"/>
<path d="M165.3 536.5h2.48v1.97h-2.48zM154.4 538.1h2.48v1.97h-2.48zM158.8 539.8h2.48v1.97h-2.48zM158.8 549.9h2.48v1.97h-2.48z" fill="#1f7cb6"/>
<path d="M158.8 534.8h2.48v1.97h-2.48zM167.5 534.8h2.48v1.97h-2.48zM167.5 541.5h2.48v1.97h-2.48zM169.7 551.5h2.48v1.97h-2.48zM158.8 556.6h2.48v1.97h-2.48z" fill="#24409a"/>
<path d="M160.9 534.8h2.48v1.97h-2.48zM163.1 546.5h2.48v1.97h-2.48zM160.9 548.2h2.48v1.97h-2.48zM160.9 558.2h2.48v1.97h-2.48zM150.0 570.0h2.48v1.97h-2.48z" fill="#253595"/>
<path d="M158.8 536.5h2.48v1.97h-2.48zM154.4 541.5h2.48v1.97h-2.48zM165.3 548.2h2.48v1.97h-2.48zM158.8 559.9h2.48v1.97h-2.48zM156.6 570.0h2.48v1.97h-2.48z" fill="#1e2f86"/>
<path d="M174.0 534.8h2.48v1.97h-2.48zM163.1 536.5h2.48v1.97h-2.48zM169.7 536.5h2.48v1.97h-2.48zM156.6 538.1h2.48v1.97h-2.48zM158.8 548.2h2.48v1.97h-2.48z" fill="#172977"/>
<path d="M163.1 534.8h2.48v1.97h-2.48zM169.7 543.2h2.48v1.97h-2.48zM156.6 546.5h2.48v1.97h-2.48zM158.8 546.5h2.48v1.97h-2.48zM160.9 546.5h2.48v1.97h-2.48zM158.8 554.9h2.48v1.97h-2.48zM160.9 554.9h2.48v1.97h-2.48z" fill="#0f2367"/>
<path d="M156.6 534.8h2.48v1.97h-2.48zM169.7 534.8h2.48v1.97h-2.48zM154.4 536.5h2.48v1.97h-2.48zM156.6 536.5h2.48v1.97h-2.48zM160.9 536.5h2.48v1.97h-2.48zM158.8 538.1h2.48v1.97h-2.48zM160.9 538.1h2.48v1.97h-2.48zM156.6 539.8h2.48v1.97h-2.48zM160.9 541.5h2.48v1.97h-2.48zM165.3 546.5h2.48v1.97h-2.48zM165.3 551.5h2.48v1.97h-2.48zM165.3 553.2h2.48v1.97h-2.48zM167.5 553.2h2.48v1.97h-2.48zM169.7 553.2h2.48v1.97h-2.48zM158.8 558.2h2.48v1.97h-2.48zM160.9 559.9h2.48v1.97h-2.48zM152.2 570.0h2.48v1.97h-2.48zM165.3 585.0h2.48v1.97h-2.48zM167.5 585.0h2.48v1.97h-2.48z" fill="#081d58"/>
</g>
<path d="M133.90 531.80h49.70v104.80h-49.70zM136.90 534.80h43.70v98.80h-43.70z" fill="#fff" fill-rule="evenodd"/>
<rect x="136.90" y="534.80" width="43.70" height="98.80" fill="none" stroke="#111" stroke-width=".9"/>
<line x1="136.90" y1="633.60" x2="136.90" y2="636.20" stroke="#111" stroke-width="0.9" />
<line x1="158.75" y1="633.60" x2="158.75" y2="636.20" stroke="#111" stroke-width="0.9" />
<line x1="180.60" y1="633.60" x2="180.60" y2="636.20" stroke="#111" stroke-width="0.9" />
<text transform="translate(139.50 641.20) rotate(-45)" font-size="6.3" text-anchor="end">-6.0</text>
<text transform="translate(161.35 641.20) rotate(-45)" font-size="6.3" text-anchor="end">Center</text>
<text transform="translate(183.20 641.20) rotate(-45)" font-size="6.3" text-anchor="end">6.0Kb</text>
<text transform="translate(158.75 664.60)" font-size="6.4" text-anchor="middle">Distance from</text>
<text transform="translate(158.75 672.80)" font-size="6.4" text-anchor="middle">TSS</text>
<rect x="183.90" y="534.80" width="4.20" height="98.80" fill="url(#cb)" stroke="#111" stroke-width="0.8" />
<line x1="188.20" y1="535.00" x2="190.40" y2="535.00" stroke="#111" stroke-width="0.8" />
<text transform="translate(192.60 537.40)" font-size="6.5">2.00</text>
<line x1="188.20" y1="547.50" x2="190.40" y2="547.50" stroke="#111" stroke-width="0.8" />
<text transform="translate(192.60 549.90)" font-size="6.5">1.75</text>
<line x1="188.20" y1="560.00" x2="190.40" y2="560.00" stroke="#111" stroke-width="0.8" />
<text transform="translate(192.60 562.40)" font-size="6.5">1.50</text>
<line x1="188.20" y1="572.50" x2="190.40" y2="572.50" stroke="#111" stroke-width="0.8" />
<text transform="translate(192.60 574.90)" font-size="6.5">1.25</text>
<line x1="188.20" y1="585.00" x2="190.40" y2="585.00" stroke="#111" stroke-width="0.8" />
<text transform="translate(192.60 587.40)" font-size="6.5">1.00</text>
<line x1="188.20" y1="597.50" x2="190.40" y2="597.50" stroke="#111" stroke-width="0.8" />
<text transform="translate(192.60 599.90)" font-size="6.5">0.75</text>
<line x1="188.20" y1="610.00" x2="190.40" y2="610.00" stroke="#111" stroke-width="0.8" />
<text transform="translate(192.60 612.40)" font-size="6.5">0.50</text>
<line x1="188.20" y1="622.50" x2="190.40" y2="622.50" stroke="#111" stroke-width="0.8" />
<text transform="translate(192.60 624.90)" font-size="6.5">0.25</text>
<polyline fill="none" stroke="#2c4a8c" stroke-width=".75" stroke-linejoin="round" points="249.60,580.43 250.12,579.97 250.65,579.66 251.17,579.13 251.70,579.47 252.22,578.84 252.75,580.93 253.27,579.66 253.79,578.29 254.32,578.91 254.84,578.18 255.37,580.08 255.89,579.09 256.42,579.56 256.94,578.71 257.46,578.54 257.99,579.87 258.51,579.26 259.04,578.97 259.56,577.18 260.09,577.37 260.61,578.72 261.13,576.93 261.66,578.41 262.18,577.02 262.71,578.08 263.23,576.65 263.76,572.31 264.28,571.85 264.80,569.70 265.33,564.50 265.85,560.77 266.38,558.24 266.90,552.37 267.43,547.71 267.95,541.64 268.47,544.55 269.00,548.41 269.52,554.37 270.05,557.41 270.57,560.85 271.10,561.29 271.62,560.06 272.14,561.89 272.67,563.28 273.19,564.82 273.72,565.55 274.24,565.62 274.77,567.84 275.29,566.83 275.81,568.39 276.34,569.16 276.86,568.60 277.39,570.26 277.91,571.47 278.44,571.86 278.96,572.09 279.48,574.53 280.01,572.92 280.53,575.96 281.06,574.77 281.58,575.17 282.11,577.90 282.63,576.60 283.15,578.30 283.68,577.78 284.20,578.82 284.73,578.32 285.25,577.58 285.78,575.23 286.30,576.74"/>
<rect x="249.60" y="535.00" width="36.70" height="48.50" fill="none" stroke="#111" stroke-width="1.1"/>
<line x1="247.20" y1="538.40" x2="249.60" y2="538.40" stroke="#111" stroke-width="1" />
<line x1="247.20" y1="549.62" x2="249.60" y2="549.62" stroke="#111" stroke-width="1" />
<line x1="247.20" y1="560.83" x2="249.60" y2="560.83" stroke="#111" stroke-width="1" />
<line x1="247.20" y1="572.05" x2="249.60" y2="572.05" stroke="#111" stroke-width="1" />
<line x1="249.60" y1="583.50" x2="249.60" y2="586.10" stroke="#111" stroke-width="1" />
<line x1="267.95" y1="583.50" x2="267.95" y2="586.10" stroke="#111" stroke-width="1" />
<line x1="286.30" y1="583.50" x2="286.30" y2="586.10" stroke="#111" stroke-width="1" />
<text transform="translate(252.80 591.90) rotate(-45) scale(0.9 1)" font-size="7" text-anchor="end">-6.0</text>
<text transform="translate(271.15 591.90) rotate(-45) scale(0.9 1)" font-size="7" text-anchor="end">TSS</text>
<text transform="translate(289.50 591.90) rotate(-45) scale(0.9 1)" font-size="7" text-anchor="end">6.0Kb</text>
<text transform="translate(267.95 524.40)" font-size="6.5" text-anchor="middle">Control</text>
<text transform="translate(267.95 531.80)" font-size="6.5" text-anchor="middle">shRNA</text>
<polyline fill="none" stroke="#b5153a" stroke-width=".75" stroke-linejoin="round" points="297.30,576.25 297.91,575.56 298.52,571.66 299.12,572.90 299.73,569.17 300.34,568.98 300.95,571.54 301.56,570.49 302.17,573.82 302.78,571.90 303.38,572.85 303.99,571.98 304.60,569.61 305.21,569.00 305.82,573.66 306.43,574.49 307.03,571.16 307.64,568.23 308.25,568.60 308.86,568.49 309.47,565.42 310.07,569.54 310.68,565.36 311.29,564.83 311.90,561.55 312.51,557.35 313.12,551.58 313.73,544.30 314.33,544.91 314.94,544.24 315.55,542.38 316.16,540.18 316.77,539.07 317.38,544.29 317.98,547.21 318.59,547.34 319.20,545.39 319.81,549.77 320.42,553.49 321.03,555.38 321.63,557.13 322.24,558.98 322.85,557.75 323.46,554.93 324.07,553.83 324.68,553.61 325.28,558.28 325.89,560.43 326.50,562.43 327.11,565.84 327.72,563.97 328.32,569.94 328.93,570.38 329.54,570.15 330.15,572.48 330.76,570.31 331.37,571.84 331.98,568.04 332.58,566.78 333.19,566.89 333.80,564.65"/>
<rect x="297.30" y="535.00" width="36.50" height="48.50" fill="none" stroke="#111" stroke-width="1.1"/>
<line x1="294.90" y1="538.40" x2="297.30" y2="538.40" stroke="#111" stroke-width="1" />
<line x1="294.90" y1="549.62" x2="297.30" y2="549.62" stroke="#111" stroke-width="1" />
<line x1="294.90" y1="560.83" x2="297.30" y2="560.83" stroke="#111" stroke-width="1" />
<line x1="294.90" y1="572.05" x2="297.30" y2="572.05" stroke="#111" stroke-width="1" />
<line x1="297.30" y1="583.50" x2="297.30" y2="586.10" stroke="#111" stroke-width="1" />
<line x1="315.55" y1="583.50" x2="315.55" y2="586.10" stroke="#111" stroke-width="1" />
<line x1="333.80" y1="583.50" x2="333.80" y2="586.10" stroke="#111" stroke-width="1" />
<text transform="translate(300.50 591.90) rotate(-45) scale(0.9 1)" font-size="7" text-anchor="end">-6.0</text>
<text transform="translate(318.75 591.90) rotate(-45) scale(0.9 1)" font-size="7" text-anchor="end">TSS</text>
<text transform="translate(337.00 591.90) rotate(-45) scale(0.9 1)" font-size="7" text-anchor="end">6.0Kb</text>
<text transform="translate(315.55 524.40)" font-size="6.5" text-anchor="middle">MTCH2</text>
<text transform="translate(315.55 531.80)" font-size="6.5" text-anchor="middle">shRNA</text>
<polyline fill="none" stroke="#6cb848" stroke-width=".75" stroke-linejoin="round" points="344.40,578.56 345.01,578.48 345.62,578.64 346.23,577.18 346.84,578.40 347.45,577.33 348.06,576.43 348.67,577.66 349.28,576.73 349.89,576.48 350.50,577.31 351.11,576.60 351.72,575.91 352.33,576.34 352.94,575.88 353.55,576.83 354.16,576.70 354.77,576.91 355.38,576.25 355.99,574.55 356.60,574.12 357.21,572.82 357.82,572.48 358.43,570.33 359.04,567.67 359.65,563.61 360.26,559.14 360.87,554.85 361.48,551.15 362.09,545.89 362.70,539.35 363.31,543.99 363.92,548.41 364.53,553.02 365.14,557.85 365.75,557.78 366.36,558.89 366.97,561.36 367.58,561.49 368.19,561.86 368.80,563.21 369.41,563.54 370.02,563.85 370.63,566.31 371.24,566.47 371.85,568.20 372.46,568.37 373.07,568.77 373.68,570.87 374.29,572.13 374.90,572.96 375.51,573.26 376.12,575.21 376.73,576.17 377.34,576.54 377.95,575.55 378.56,576.11 379.17,575.87 379.78,575.18 380.39,575.82 381.00,574.72"/>
<rect x="344.40" y="535.00" width="36.60" height="48.50" fill="none" stroke="#111" stroke-width="1.1"/>
<line x1="342.00" y1="538.40" x2="344.40" y2="538.40" stroke="#111" stroke-width="1" />
<line x1="342.00" y1="549.62" x2="344.40" y2="549.62" stroke="#111" stroke-width="1" />
<line x1="342.00" y1="560.83" x2="344.40" y2="560.83" stroke="#111" stroke-width="1" />
<line x1="342.00" y1="572.05" x2="344.40" y2="572.05" stroke="#111" stroke-width="1" />
<line x1="344.40" y1="583.50" x2="344.40" y2="586.10" stroke="#111" stroke-width="1" />
<line x1="362.70" y1="583.50" x2="362.70" y2="586.10" stroke="#111" stroke-width="1" />
<line x1="381.00" y1="583.50" x2="381.00" y2="586.10" stroke="#111" stroke-width="1" />
<text transform="translate(347.60 591.90) rotate(-45) scale(0.9 1)" font-size="7" text-anchor="end">-6.0</text>
<text transform="translate(365.90 591.90) rotate(-45) scale(0.9 1)" font-size="7" text-anchor="end">TSS</text>
<text transform="translate(384.20 591.90) rotate(-45) scale(0.9 1)" font-size="7" text-anchor="end">6.0Kb</text>
<text transform="translate(362.70 524.40)" font-size="6.5" text-anchor="middle">MTCH2</text>
<text transform="translate(362.70 531.80)" font-size="6.5" text-anchor="middle">shRNA+C646</text>
<text transform="translate(245.60 541.10) scale(0.84 1)" font-size="7.8" text-anchor="end">1.0</text>
<text transform="translate(245.60 552.32) scale(0.84 1)" font-size="7.8" text-anchor="end">0.8</text>
<text transform="translate(245.60 563.53) scale(0.84 1)" font-size="7.8" text-anchor="end">0.6</text>
<text transform="translate(245.60 574.75) scale(0.84 1)" font-size="7.8" text-anchor="end">0.4</text>
<text transform="translate(229.40 559.00) rotate(-90) scale(0.77 1)" font-size="8.9" text-anchor="middle">ChIP-seq signal</text>
<line x1="267.40" y1="538.00" x2="271.20" y2="538.00" stroke="#2c4a8c" stroke-width="0.6" />
<text transform="translate(272.00 539.20)" font-size="3.6" fill="#444">genes</text>
<rect x="294.20" y="635.00" width="7.30" height="26.20" fill="#2f4b7f" />
<rect x="318.30" y="624.00" width="7.30" height="37.20" fill="#a5092c" />
<rect x="342.50" y="632.30" width="7.30" height="28.90" fill="#5fa63f" />
<line x1="283.00" y1="620.80" x2="283.00" y2="661.85" stroke="#111" stroke-width="1.3" />
<line x1="282.35" y1="661.20" x2="359.20" y2="661.20" stroke="#111" stroke-width="1.3" />
<line x1="279.60" y1="624.00" x2="283.00" y2="624.00" stroke="#111" stroke-width="1.1" />
<text transform="translate(277.40 626.70) scale(0.8 1)" font-size="7.8" text-anchor="end">10000</text>
<line x1="279.60" y1="642.70" x2="283.00" y2="642.70" stroke="#111" stroke-width="1.1" />
<text transform="translate(277.40 645.40) scale(0.8 1)" font-size="7.8" text-anchor="end">5000</text>
<line x1="279.60" y1="661.20" x2="283.00" y2="661.20" stroke="#111" stroke-width="1.1" />
<text transform="translate(277.40 663.90) scale(0.8 1)" font-size="7.8" text-anchor="end">0</text>
<text transform="translate(246.60 641.00) rotate(-90) scale(0.77 1)" font-size="9" text-anchor="middle">Area under curve</text>
<text transform="translate(257.00 641.00) rotate(-90) scale(0.77 1)" font-size="9" text-anchor="middle">(TSS +/-6kb region)</text>
<text transform="translate(297.40 669.20) rotate(-45)" font-size="6.9" text-anchor="end">Control</text>
<text transform="translate(303.20 675.00) rotate(-45)" font-size="6.9" text-anchor="end">shRNA</text>
<text transform="translate(322.00 669.20) rotate(-45)" font-size="6.9" text-anchor="end">MTCH2</text>
<text transform="translate(327.80 675.00) rotate(-45)" font-size="6.9" text-anchor="end">shRNA</text>
<text transform="translate(346.40 669.20) rotate(-45)" font-size="6.9" text-anchor="end">MTCH2</text>
<text transform="translate(352.20 675.00) rotate(-45)" font-size="6.9" text-anchor="end">shRNA</text>
<text transform="translate(358.00 680.80) rotate(-45)" font-size="6.9" text-anchor="end">+C646</text>
<text transform="translate(401.60 511.60)" font-size="12.5" font-weight="bold" fill="#000">I</text>
<text transform="translate(424.00 522.40)" font-size="6.6" text-anchor="middle">OCI-AML2</text>
<line x1="408.00" y1="525.20" x2="440.00" y2="525.20" stroke="#222" stroke-width="1" />
<text transform="translate(460.60 522.40)" font-size="6.6" text-anchor="middle">TEX</text>
<line x1="447.50" y1="525.20" x2="473.80" y2="525.20" stroke="#222" stroke-width="1" />
<text transform="translate(418.70 533.40)" font-size="6.4" text-anchor="middle">-</text>
<text transform="translate(433.20 533.40)" font-size="6.4" text-anchor="middle">+</text>
<text transform="translate(447.60 533.40)" font-size="6.4" text-anchor="middle">-</text>
<text transform="translate(462.60 533.40)" font-size="6.4" text-anchor="middle">+</text>
<text transform="translate(478.00 533.80)" font-size="6.5">Bi-6c9</text>
<g clip-path="url(#c21)">
<rect x="409.00" y="535.00" width="65.50" height="14.50" fill="#6d6d6d" />
<rect x="409.00" y="535.00" width="65.50" height="14.50" fill="none" stroke="#3c3c3c" stroke-width="3" filter="url(#b1)"/>
<rect x="412.82" y="540.95" width="12.00" height="2.60" rx="1.30" fill="#0b0b0b" opacity="0.85" filter="url(#b1)"/>
<rect x="427.89" y="540.95" width="12.00" height="2.60" rx="1.30" fill="#0b0b0b" opacity="0.85" filter="url(#b1)"/>
<rect x="442.61" y="540.55" width="14.00" height="3.40" rx="1.70" fill="#0b0b0b" opacity="1" filter="url(#b1)"/>
<rect x="457.02" y="540.55" width="14.00" height="3.40" rx="1.70" fill="#0b0b0b" opacity="1" filter="url(#b1)"/>
<rect x="443.81" y="540.95" width="26.00" height="2.60" rx="1.30" fill="#0b0b0b" opacity="0.9" filter="url(#b1)"/>
</g>
<rect x="409.50" y="535.50" width="64.50" height="13.50" fill="none" stroke="#141414" stroke-width="1"/>
<g clip-path="url(#c22)">
<rect x="409.00" y="551.00" width="65.50" height="11.80" fill="#707070" />
<rect x="409.00" y="551.00" width="65.50" height="11.80" fill="none" stroke="#3c3c3c" stroke-width="3" filter="url(#b1)"/>
<rect x="413.32" y="555.70" width="11.00" height="2.40" rx="1.20" fill="#0b0b0b" opacity="0.85" filter="url(#b1)"/>
<rect x="428.39" y="555.70" width="11.00" height="2.40" rx="1.20" fill="#0b0b0b" opacity="0.85" filter="url(#b1)"/>
<rect x="442.61" y="555.00" width="14.00" height="3.80" rx="1.90" fill="#0b0b0b" opacity="1" filter="url(#b1)"/>
<rect x="457.02" y="555.00" width="14.00" height="3.80" rx="1.90" fill="#0b0b0b" opacity="1" filter="url(#b1)"/>
<rect x="443.81" y="555.40" width="26.00" height="3.00" rx="1.50" fill="#0b0b0b" opacity="1" filter="url(#b1)"/>
</g>
<rect x="409.50" y="551.50" width="64.50" height="10.80" fill="none" stroke="#141414" stroke-width="1"/>
<g clip-path="url(#c23)">
<rect x="409.00" y="564.20" width="65.50" height="13.50" fill="#747474" />
<rect x="409.00" y="564.20" width="65.50" height="13.50" fill="none" stroke="#3c3c3c" stroke-width="3" filter="url(#b1)"/>
<rect x="413.69" y="569.45" width="26.00" height="3.00" rx="1.50" fill="#0b0b0b" opacity="0.8" filter="url(#b2)"/>
<ellipse cx="418.82" cy="570.95" rx="7.00" ry="2.40" fill="#0b0b0b" opacity="0.85" filter="url(#b2)"/>
<ellipse cx="433.89" cy="570.95" rx="6.50" ry="2.20" fill="#0b0b0b" opacity="0.8" filter="url(#b2)"/>
<ellipse cx="454.85" cy="570.95" rx="17.00" ry="4.20" fill="#0b0b0b" opacity="1" filter="url(#b2)"/>
<ellipse cx="449.61" cy="570.95" rx="9.00" ry="4.50" fill="#0b0b0b" opacity="1" filter="url(#b2)"/>
<ellipse cx="462.71" cy="570.95" rx="8.00" ry="3.70" fill="#0b0b0b" opacity="1" filter="url(#b2)"/>
</g>
<rect x="409.50" y="564.70" width="64.50" height="12.50" fill="none" stroke="#141414" stroke-width="1"/>
<text transform="translate(478.00 545.40)" font-size="6.6">Ac-H3</text>
<text transform="translate(478.00 559.40)" font-size="6.6">Ac-H4</text>
<text transform="translate(478.00 573.20)" font-size="6.6">H3</text>
<rect x="0.5" y="0.5" width="519" height="702" fill="none" stroke="#000" stroke-width="1"/>
</svg>
</body></html>
